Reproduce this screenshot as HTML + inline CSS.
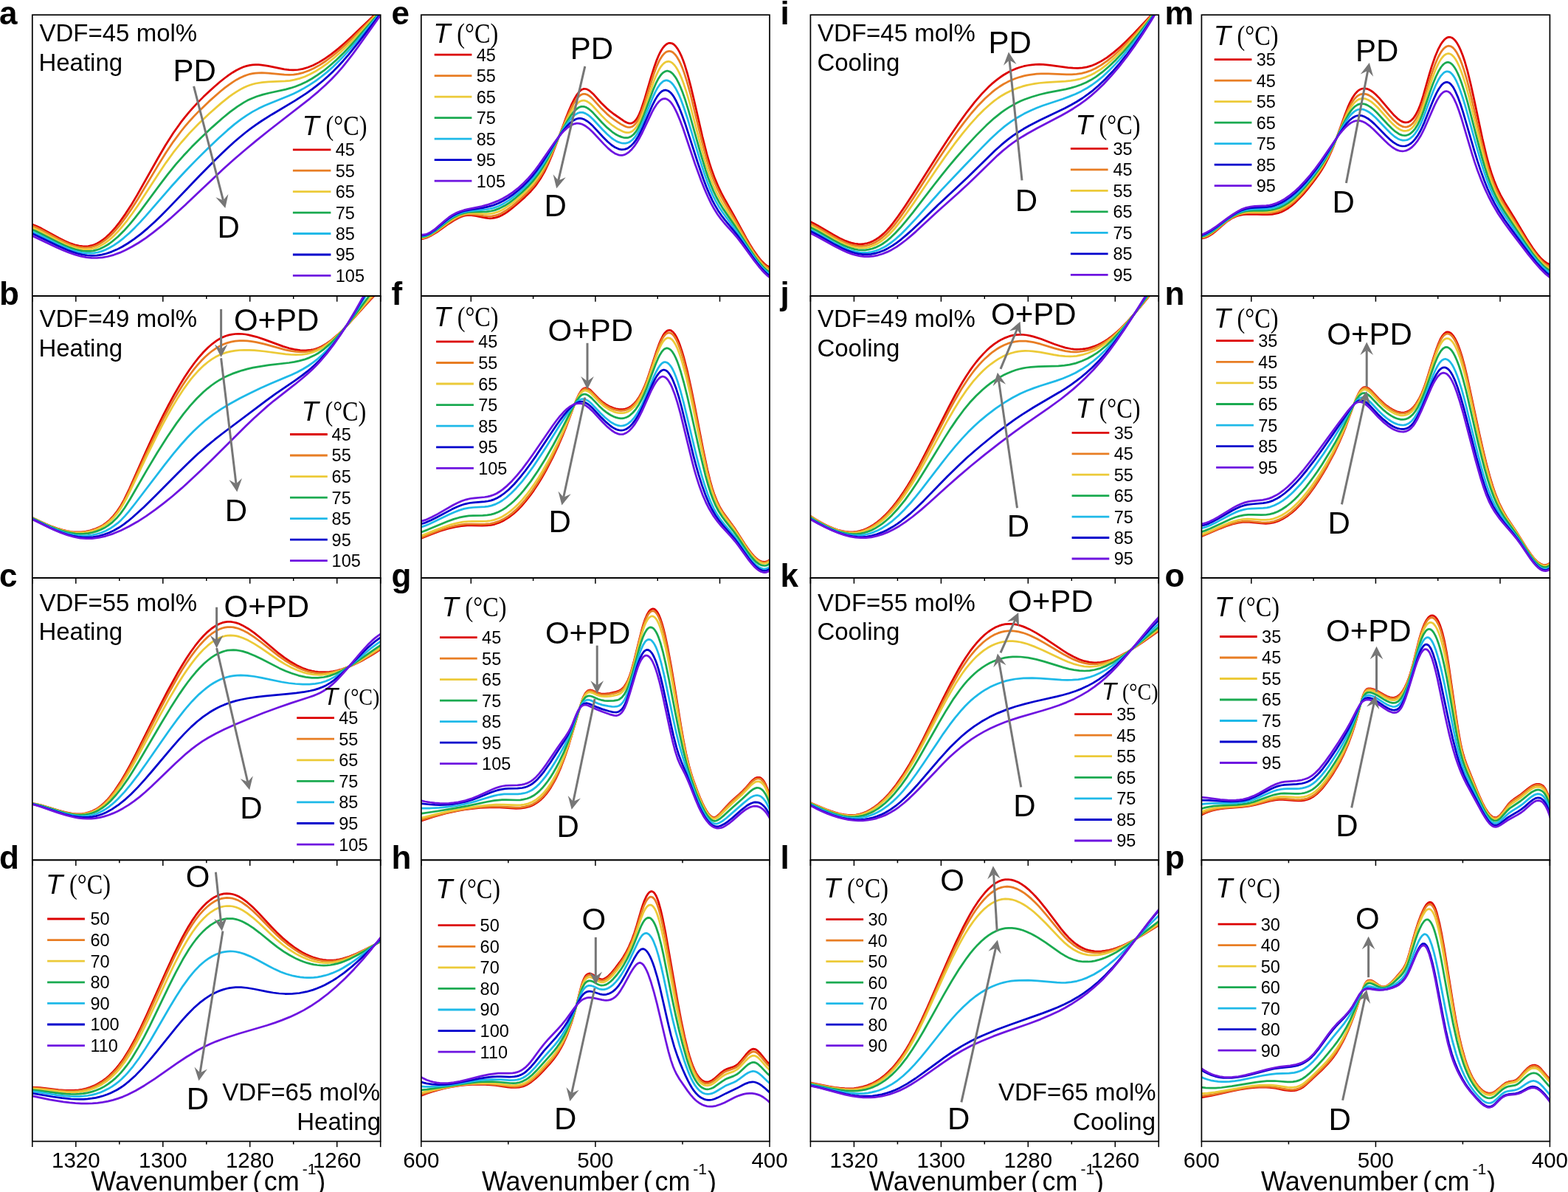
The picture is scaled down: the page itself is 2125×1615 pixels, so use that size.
<!DOCTYPE html>
<html><head><meta charset="utf-8"><title>Figure</title>
<style>html,body{margin:0;padding:0;background:#fff;overflow:hidden;} svg{display:block;}</style></head>
<body>
<svg width="2125" height="1615" viewBox="0 0 2125 1615">
<defs>
<clipPath id="ca"><rect x="43.8" y="20.2" width="471.9" height="380.8"/></clipPath>
<clipPath id="cb"><rect x="43.8" y="401.0" width="471.9" height="382.0"/></clipPath>
<clipPath id="cc"><rect x="43.8" y="783.0" width="471.9" height="382.3"/></clipPath>
<clipPath id="cd"><rect x="43.8" y="1165.3" width="471.9" height="381.1"/></clipPath>
<clipPath id="ce"><rect x="570.8" y="20.2" width="472.2" height="380.8"/></clipPath>
<clipPath id="cf"><rect x="570.8" y="401.0" width="472.2" height="382.0"/></clipPath>
<clipPath id="cg"><rect x="570.8" y="783.0" width="472.2" height="382.3"/></clipPath>
<clipPath id="ch"><rect x="570.8" y="1165.3" width="472.2" height="381.1"/></clipPath>
<clipPath id="ci"><rect x="1098.4" y="20.2" width="471.9" height="380.8"/></clipPath>
<clipPath id="cj"><rect x="1098.4" y="401.0" width="471.9" height="382.0"/></clipPath>
<clipPath id="ck"><rect x="1098.4" y="783.0" width="471.9" height="382.3"/></clipPath>
<clipPath id="cl"><rect x="1098.4" y="1165.3" width="471.9" height="381.1"/></clipPath>
<clipPath id="cm"><rect x="1628.4" y="20.2" width="472.0" height="380.8"/></clipPath>
<clipPath id="cn"><rect x="1628.4" y="401.0" width="472.0" height="382.0"/></clipPath>
<clipPath id="co"><rect x="1628.4" y="783.0" width="472.0" height="382.3"/></clipPath>
<clipPath id="cp"><rect x="1628.4" y="1165.3" width="472.0" height="381.1"/></clipPath>
</defs>
<rect width="2125" height="1615" fill="#fff"/>
<g clip-path="url(#ca)" fill="none" stroke-width="2.75" stroke-linejoin="round">
<path stroke="#dc0000" d="M42.8 303.7l6.5 2.6 7 3.3 23.5 12.8 8 4.1 8 3.4 7 2.3 4.5 1.0 4.5 .5 4 .1 4 -.3 4 -.8 4 -1.2 3.5 -1.6 4 -2.2 4 -2.7 4 -3.3 4 -3.6 4.5 -4.7 4.5 -5.1 4.5 -5.6 9 -12.6 7.5 -11.5 8.5 -14.2 28 -49.6 10.5 -18.0 10.5 -16.5 10 -14.1 5.5 -7.1 6 -7.2 6 -6.8 6.5 -7.0 7 -7.0 7 -6.6 8 -7.3 7.5 -6.4 6 -4.8 5.5 -4.1 5.5 -3.7 5 -3.0 5 -2.5 4.5 -1.9 4.5 -1.4 4.5 -1.1 3.5 -.4 4 -.2 4 .0 4.5 .4 8.5 1.3 22 4.4 6.5 .9 5.5 .2 6.5 -.4 6.5 -1.1 7 -2.1 7 -2.8 8 -4.1 8.5 -5.3 8.5 -6.0 9.5 -7.5 8.5 -7.4 10 -9.1 39 -37.3"/>
<path stroke="#e87d23" d="M42.8 305.6l6.5 2.6 7 3.3 23 12.4 8.5 4.2 8.5 3.6 7.5 2.3 4.5 .9 4.5 .5 4.5 .1 4 -.4 4 -.8 4 -1.3 4 -1.8 4 -2.3 4 -2.7 4 -3.2 4 -3.5 4 -4.0 4 -4.4 4.5 -5.3 9 -11.9 7.5 -10.9 8.5 -13.3 27.5 -45.8 10.5 -16.9 10 -14.9 10.5 -14.1 5.5 -6.8 6 -7.0 6 -6.6 6.5 -6.7 14 -13.5 15.5 -13.6 6 -4.9 5.5 -4.1 5 -3.5 5 -3.1 5 -2.7 4.5 -2.1 4.5 -1.7 4.5 -1.4 3.5 -.7 4 -.5 4 -.3 4.5 -.1 8.5 .4 22 2.1 6.5 .1 6 -.2 6.5 -1.0 7 -1.8 7 -2.5 7 -3.3 8 -4.4 8.5 -5.6 9 -6.8 9.5 -8.0 8.5 -7.7 9.5 -9.1 38 -38.2"/>
<path stroke="#ecca38" d="M42.8 308.2l6 2.5 6.5 3.0 23 12.1 9 4.4 9 3.7 4.5 1.4 4 1.1 5 1.0 4.5 .4 4.5 .0 4.5 -.5 4 -.8 4 -1.3 4 -1.8 4.5 -2.5 3.5 -2.3 4 -3.0 4 -3.4 4 -3.8 4 -4.1 4.5 -5.1 8.5 -10.4 7 -9.5 8 -11.6 27 -41.5 10.5 -15.6 10 -13.9 10.5 -13.2 11.5 -13.1 12.5 -12.9 14.5 -13.7 15.5 -13.7 11.5 -9.2 5 -3.5 5 -3.3 5 -3.0 4.5 -2.4 4.5 -2.0 4 -1.5 4 -1.2 4 -1.0 8.5 -1.4 8.5 -.7 22.5 -1.0 6.5 -.6 6 -1.1 7 -1.8 7 -2.4 7 -3.2 7.5 -4.0 8.5 -5.4 8.5 -6.1 9 -7.3 9 -8.1 8.5 -8.2 9 -9.1 36.5 -38.9"/>
<path stroke="#1aaa50" d="M42.8 310.8l5.5 2.3 6.5 3.1 23 11.7 9.5 4.6 5.5 2.3 5 1.8 4.5 1.4 4.5 1.1 5 .9 5 .4 5 -.1 4.5 -.5 4.5 -1.1 4.5 -1.5 4.5 -2.1 5 -2.8 3.5 -2.3 4 -3.0 7.5 -6.3 8 -7.9 8 -8.9 7 -8.5 8 -10.3 26.5 -35.7 10.5 -13.8 10.5 -12.9 10.5 -11.9 11 -11.7 12.5 -12.4 15 -14.1 14 -12.4 10.5 -8.6 10 -7.3 9 -5.7 4.5 -2.5 4.5 -2.1 8 -3.2 8.5 -2.7 8.5 -2.1 22.5 -4.9 7 -1.9 6 -2.0 7.5 -3.0 7.5 -3.5 7.5 -4.2 7.5 -4.8 8.5 -6.0 8.5 -6.9 8.5 -7.5 9 -8.7 8 -8.3 8.5 -9.3 35 -40.0"/>
<path stroke="#1eb9e8" d="M42.8 313.4l10 4.5 25 12.5 11 5.0 6 2.4 5.5 1.9 5.5 1.6 5 1.0 5.5 .7 5.5 .2 5.5 -.3 5 -.9 5 -1.4 5.5 -2.1 5.5 -2.7 5.5 -3.2 7 -4.8 7 -5.5 7.5 -6.6 7.5 -7.3 7 -7.3 7.5 -8.2 35.5 -40.9 9.5 -10.5 10 -10.7 13.5 -13.9 15 -14.8 15.5 -14.8 12 -10.9 9.5 -8.0 8.5 -6.5 8 -5.6 8 -4.9 8 -4.3 8.5 -4.0 8.5 -3.6 23.5 -9.5 7 -3.1 6.5 -3.1 8 -4.4 7.5 -4.5 8 -5.3 7.5 -5.6 8 -6.4 8 -7.1 8 -7.7 8 -8.4 7.5 -8.3 8.5 -9.9 33 -40.0"/>
<path stroke="#0000cc" d="M42.8 316.0l10.5 4.9 25 12.2 13 5.7 7 2.6 7 2.1 6.5 1.5 6.5 1.0 6.5 .4 6.5 -.3 6.5 -1.0 6.5 -1.6 7 -2.4 7 -3.0 7 -3.6 7.5 -4.5 9 -6.1 9 -6.8 9.5 -8.0 10 -9.1 8 -7.8 9.5 -9.6 42.5 -44.3 20.5 -20.8 10 -9.8 8.5 -8.0 8.5 -7.7 8 -6.8 7 -5.7 7 -5.4 7 -5.0 7.5 -5.1 14 -8.8 31.5 -18.8 15.5 -10.0 8 -5.8 7.5 -5.7 7 -5.7 7 -6.2 7 -6.6 7 -7.1 6.5 -7.1 7 -8.1 13.5 -16.8 30.5 -39.6"/>
<path stroke="#6e14e0" d="M42.8 319.1l33.5 15.9 8.5 3.8 8 3.2 8.5 2.9 8 2.2 7.5 1.5 7 .7 7.5 .2 7.5 -.6 7.5 -1.4 8 -2.2 8 -2.9 8 -3.6 8.5 -4.5 9 -5.3 10 -6.7 10 -7.4 11 -8.7 11.5 -9.8 21 -19.0 37 -35.0 14 -13.1 14.5 -13.0 15.5 -13.3 15.5 -12.9 17 -13.6 55.5 -43.2 11 -9.2 10 -9.0 8 -7.8 7.5 -7.9 7 -8.0 7 -8.7 7 -9.1 8 -10.9 30.5 -43.0"/>
</g>
<g clip-path="url(#cb)" fill="none" stroke-width="2.75" stroke-linejoin="round">
<path stroke="#dc0000" d="M42.8 701.0l10.5 5.1 9 4.0 8 3.3 7 2.5 7 2.0 7 1.6 6.5 1.0 6 .4 6.5 -.1 6 -.7 6 -1.3 6 -1.9 5.5 -2.3 5.5 -3.0 5 -3.5 4.5 -3.9 5 -5.3 5 -6.4 5 -7.6 4.5 -8.1 7 -14.5 22 -49.6 8 -17.4 8 -16.8 8 -16.2 7.5 -14.5 7.5 -13.7 7 -12.0 7 -11.3 6.5 -9.8 6.5 -9.0 6 -7.6 6.5 -7.4 6 -6.0 6 -5.2 6 -4.4 4 -2.4 4 -2.1 4 -1.6 4.5 -1.4 4 -.8 4.5 -.6 4.5 -.2 5 .2 4.5 .5 4.5 .8 10 2.5 10 3.3 26.5 9.8 8 2.4 7 1.6 8 1.2 7.5 .2 7 -.6 3.5 -.7 3.5 -1.0 3.5 -1.3 3.5 -1.5 3.5 -1.9 3.5 -2.1 7.5 -5.4 8 -6.9 6 -5.7 6.5 -6.6 31.5 -34.7 7.5 -7.9 7 -6.7"/>
<path stroke="#e87d23" d="M42.8 701.1l18 8.5 7.5 3.1 6.5 2.5 6.5 2.1 6.5 1.7 6 1.2 5.5 .8 6 .3 5.5 -.1 5.5 -.6 5 -1.0 5.5 -1.5 5 -1.9 5 -2.5 4.5 -2.7 3.5 -2.5 3.5 -2.9 3.5 -3.4 3 -3.3 3 -3.7 3 -4.1 3 -4.6 3 -5.1 4 -7.6 4.5 -9.2 22.5 -49.1 15.5 -32.2 7.5 -14.8 7.5 -14.1 7 -12.5 6.5 -10.9 5.5 -8.8 5 -7.5 5.5 -7.7 5 -6.6 5 -6.0 5 -5.6 5 -5.0 5 -4.5 5 -4.0 5 -3.5 5 -2.9 5 -2.4 5 -1.9 5.5 -1.5 5.5 -.9 6 -.5 5 -.1 5.5 .3 6 .7 6 1.0 11 2.6 28 7.6 7.5 1.6 7 1.0 7.5 .5 7.5 -.4 7 -1.2 6.5 -2.0 3.5 -1.4 3.5 -1.8 7 -4.4 7.5 -5.7 8 -7.2 6 -6.0 7 -7.4 30.5 -34.7 7.5 -8.1 6.5 -6.7"/>
<path stroke="#ecca38" d="M42.8 701.2l18.5 8.8 7.5 3.2 6.5 2.4 6.5 2.1 6.5 1.8 6 1.2 5.5 .8 6 .3 5.5 -.1 5.5 -.5 5.5 -1.1 5.5 -1.6 5 -1.9 5 -2.4 4.5 -2.8 3.5 -2.5 3.5 -2.9 3.5 -3.4 3 -3.3 3 -3.7 3 -4.1 3 -4.6 3 -5.0 4 -7.4 4 -8.0 22.5 -47.4 15 -30.2 7 -13.5 7 -12.9 6.5 -11.4 6 -10.0 9.5 -14.5 5 -7.0 4.5 -5.9 4.5 -5.4 4.5 -5.0 4.5 -4.6 4.5 -4.1 5 -4.1 5 -3.6 5 -3.1 5 -2.5 5 -2.1 5.5 -1.8 5.5 -1.3 6 -1.0 6 -.6 6 -.2 7 .0 7 .3 13.5 1.4 29 3.9 7.5 .6 6.5 .2 8 -.4 7 -1.0 7 -1.8 6.5 -2.5 3.5 -1.7 3.5 -2.0 7 -4.8 7.5 -6.2 8.5 -8.1 6.5 -6.9 7.5 -8.4 29.5 -35.2 13 -14.7"/>
<path stroke="#1aaa50" d="M42.8 701.6l19.5 9.3 7.5 3.2 7 2.7 7 2.3 6.5 1.8 6 1.2 6 .9 6 .3 5.5 -.1 6 -.6 5.5 -1.1 5.5 -1.6 5.5 -2.1 5 -2.5 5 -3.1 6 -4.6 5.5 -5.3 5.5 -6.4 5.5 -7.6 7.5 -12.0 22 -38.2 15 -25.1 13.5 -21.3 12.5 -18.3 9.5 -12.8 9 -11.0 9 -9.9 9 -8.7 5.5 -4.7 5.5 -4.3 5.5 -3.9 5.5 -3.4 5.5 -3.1 5.5 -2.6 6 -2.6 6.5 -2.3 7 -2.3 7 -1.9 7.5 -1.7 7.5 -1.4 14 -2.1 27.5 -3.2 7 -1.1 6 -1.2 7.5 -2.0 7 -2.6 6.5 -3.0 6 -3.4 7.5 -5.4 7.5 -6.4 8 -7.9 8.5 -9.4 8 -9.7 8.5 -10.9 27.5 -36.9 9 -11.9"/>
<path stroke="#1eb9e8" d="M42.8 702.2l22 10.6 8 3.5 7 2.8 7 2.4 7 1.9 6.5 1.4 6 .8 6.5 .3 6 -.2 6.5 -.8 6 -1.4 6 -1.8 6 -2.5 5.5 -2.9 5.5 -3.6 5 -3.8 5 -4.5 5 -5.3 5 -5.8 9 -11.3 40.5 -53.2 11.5 -14.4 10 -11.9 8.5 -9.5 8.5 -8.8 8 -7.5 8.5 -7.4 10 -7.7 11 -7.5 11.5 -6.9 14 -7.7 14 -7.1 14 -6.7 13.5 -6.0 28 -11.8 8 -3.7 7.5 -4.0 7 -4.2 7 -4.8 6.5 -5.1 6.5 -5.9 8 -8.1 8 -9.3 8.5 -10.8 9 -12.5 9 -13.3 10 -15.6 11 -17.8 15.5 -25.8"/>
<path stroke="#0000cc" d="M42.8 702.8l25 12.1 8.5 3.8 8 3.1 7.5 2.5 7 1.8 7 1.3 6.5 .7 7 .1 7 -.6 7.5 -1.3 7 -2.0 7 -2.5 6.5 -3.0 7 -4.0 6.5 -4.4 5.5 -4.2 6 -5.0 15.5 -14.0 16 -15.6 31 -31.3 12.5 -12.4 14 -13.1 13.5 -11.7 9 -7.4 10.5 -8.2 59 -44.4 13 -9.4 26.5 -18.0 10 -7.3 6 -4.7 6 -5.0 5.5 -4.9 5 -4.9 9 -9.6 9 -11.0 9.5 -12.8 10 -14.8 10.5 -16.7 11 -18.7 12 -21.4 13 -24.2"/>
<path stroke="#6e14e0" d="M42.8 703.1l19.5 9.6 10 4.7 10 4.3 9 3.2 9 2.6 8.5 1.6 8 .6 8 -.1 9 -1.2 9.5 -2.1 10 -3.2 10.5 -4.4 11 -5.4 11.5 -6.5 12 -7.6 12 -8.5 11.5 -8.8 12 -9.7 12.5 -10.8 13 -11.8 12 -11.3 13 -12.6 48.5 -48.1 11 -10.5 10 -9.2 8.5 -7.5 8.5 -7.1 29 -22.6 11.5 -9.4 6 -5.3 6 -5.6 5.5 -5.4 5 -5.4 9 -10.5 9.5 -12.4 9.5 -13.7 10 -15.6 10.5 -17.7 10.5 -18.8 11.5 -21.8 12 -23.8"/>
</g>
<g clip-path="url(#cc)" fill="none" stroke-width="2.75" stroke-linejoin="round">
<path stroke="#dc0000" d="M42.8 1088.3l6.5 1.1 7 1.7 24 7.3 9 2.3 9 1.6 4 .4 4 .1 5 -.3 4.5 -.7 4.5 -1.2 4.5 -1.6 4.5 -2.2 4 -2.5 4 -3.0 4 -3.5 3.5 -3.5 3.5 -4.0 7 -9.0 7.5 -11.2 7.5 -12.6 6 -10.9 7 -13.4 30.5 -61.0 13.5 -26.2 13 -23.7 6 -10.1 6 -9.7 6 -9.0 6 -8.3 6 -7.5 5.5 -6.2 5.5 -5.4 5.5 -4.6 5.5 -3.7 5 -2.6 4 -1.5 3.5 -.8 3.5 -.5 4 .0 4 .6 4 .9 4 1.4 4.5 2.1 7.5 4.3 8.5 5.9 8.5 6.9 24.5 20.7 7.5 5.7 7.5 5.1 9 5.3 8.5 3.9 4.5 1.7 4 1.3 4 .9 4 .8 4.5 .5 5 .3 5 .0 5 -.4 5 -.7 5.5 -1.1 5 -1.3 5.5 -1.8 5.5 -2.0 5.5 -2.3 11.5 -5.6 12.5 -7.1 14 -8.9"/>
<path stroke="#e87d23" d="M42.8 1088.3l6.5 1.2 7 1.7 23.5 7.2 9 2.4 9 1.7 4.5 .4 4 .1 5 -.2 4.5 -.6 4.5 -1.1 4.5 -1.6 4.5 -2.1 4 -2.4 4.5 -3.3 4 -3.4 3.5 -3.5 3.5 -3.9 7 -8.8 7.5 -10.9 7.5 -12.3 6 -10.5 7 -13.1 30.5 -59.3 13.5 -25.5 13 -23.0 6 -9.9 6 -9.4 6 -8.8 6 -8.0 6 -7.4 5.5 -5.9 5.5 -5.3 5 -4.1 5.5 -3.6 5 -2.6 4 -1.5 3.5 -.9 3.5 -.5 4 -.1 4 .4 4 .9 4 1.2 4.5 1.9 7.5 3.9 8.5 5.5 9 6.7 24 18.8 8 5.7 7.5 4.7 9 4.7 8.5 3.6 4.5 1.5 4 1.1 8 1.5 4.5 .3 5 .2 4.5 -.3 5 -.5 5 -.9 5 -1.2 5 -1.4 5 -1.8 10.5 -4.4 11.5 -5.9 12.5 -7.3 15.5 -9.9"/>
<path stroke="#ecca38" d="M42.8 1088.4l6.5 1.2 7 1.8 23.5 7.2 9 2.5 9 1.7 4.5 .5 4 .2 5 -.2 4.5 -.6 4.5 -.9 4.5 -1.5 4.5 -2.0 4 -2.2 4.5 -3.1 4 -3.2 3.5 -3.3 3.5 -3.6 3.5 -4.0 4 -5.0 7.5 -10.4 8 -12.5 6.5 -11.0 7 -12.5 30.5 -56.6 13 -23.4 13 -22.0 6 -9.5 5.5 -8.2 6 -8.4 6 -7.7 5.5 -6.5 5.5 -5.8 5.5 -5.0 5 -4.0 5.5 -3.6 5 -2.6 4 -1.5 3.5 -1.0 3.5 -.6 4 -.2 4 .2 4 .6 4 1.0 4.5 1.6 7.5 3.3 8.5 4.8 9 5.8 24.5 16.8 8 4.9 7.5 4.0 9 4.1 9 3.2 4.5 1.2 4 .8 4 .6 4.5 .4 4 .1 4.5 -.2 4.5 -.4 4.5 -.8 4.5 -1.0 4.5 -1.3 5 -1.7 5 -2.0 10 -4.8 11 -6.1 12 -7.4 18 -11.8"/>
<path stroke="#1aaa50" d="M42.8 1088.6l6 1.2 7 1.8 23.5 7.3 9.5 2.7 9 1.8 4.5 .6 4 .2 5 .0 5 -.5 4.5 -.9 4.5 -1.3 4.5 -1.8 4 -2.0 4.5 -2.8 4 -2.9 3.5 -3.0 4 -3.8 7.5 -8.2 8 -10.2 8 -11.4 6.5 -10.1 8 -13.0 30.5 -52.0 12.5 -20.7 12.5 -19.5 5.5 -8.0 5.5 -7.6 5.5 -7.1 5.5 -6.6 5.5 -6.0 5.5 -5.5 5.5 -4.8 5 -3.8 5.5 -3.5 5 -2.5 4 -1.6 3.5 -1.1 3.5 -.8 4 -.4 4 -.1 4 .2 4 .6 4.5 .9 8 2.5 8.5 3.5 9 4.4 24.5 12.6 8.5 3.8 8 3.1 9.5 3.0 9.5 2.1 8.5 1.0 8 .0 8 -.9 4 -.8 4 -1.1 8 -2.8 8.5 -4.0 8 -4.5 9 -5.7 27.5 -19.0 8.5 -5.7"/>
<path stroke="#1eb9e8" d="M42.8 1088.8l6 1.4 7 2.0 22 7.1 8.5 2.5 8.5 2.1 7.5 1.3 4.5 .4 4.5 .2 4 -.2 4 -.4 4 -.7 4 -1.0 4 -1.3 4 -1.7 4 -2.0 4 -2.4 4 -2.8 4 -3.1 4 -3.4 4.5 -4.3 9 -9.6 8.5 -10.2 10 -13.1 11 -15.4 32.5 -46.7 10 -13.6 9 -11.5 5.5 -6.6 5 -5.6 5 -5.2 4.5 -4.4 5 -4.4 5 -4.1 5 -3.7 4.5 -2.9 4.5 -2.5 4.5 -2.2 4.5 -1.9 4.5 -1.4 4.5 -1.1 4.5 -.8 5 -.5 5 -.2 9 .4 9.5 1.2 10 1.8 27 5.7 9.5 1.5 9 1.0 10 .7 9 -.1 8 -.7 7.5 -1.4 6.5 -2.0 6 -2.6 6.5 -3.5 7 -4.5 6 -4.3 6.5 -5.2 29 -24.2 7.5 -5.6 6.5 -4.4"/>
<path stroke="#0000cc" d="M42.8 1089.1l12 3.4 23 7.6 9.5 2.9 10 2.5 9 1.4 5 .4 5 .1 4.5 -.2 4.5 -.6 5 -1.0 4.5 -1.3 4.5 -1.6 4.5 -1.9 8 -4.4 8.5 -5.7 8.5 -6.8 9 -8.2 9 -9.1 9.5 -10.5 10 -11.6 28 -33.2 8.5 -9.7 7.5 -8.0 9 -9.0 8 -7.1 8 -6.3 8.5 -5.9 5 -3.0 5 -2.8 5 -2.4 5 -2.2 5 -1.9 5.5 -1.9 6 -1.7 6 -1.4 10 -2.0 11.5 -1.6 10.5 -1.2 32 -3.0 11.5 -1.3 11 -1.6 7.5 -1.3 6 -1.4 5.5 -1.7 5.5 -2.1 5 -2.4 5 -3.0 5 -3.5 5.5 -4.5 5 -4.4 6 -5.7 21.5 -21.8 8.5 -8.3 9 -7.7 4.5 -3.4 4 -2.6"/>
<path stroke="#6e14e0" d="M42.8 1089.3l10 3.0 25 8.6 11.5 3.5 6 1.6 6 1.3 5.5 1.0 5.5 .6 6 .3 5.5 -.1 5.5 -.5 6 -1.0 6 -1.5 6 -1.9 6 -2.3 6 -2.7 7.5 -4.0 7.5 -4.6 7.5 -5.2 7.5 -5.8 7.5 -6.3 8.5 -7.7 33 -31.8 14 -12.7 7.5 -6.2 7 -5.3 7.5 -5.2 8 -4.9 10 -5.5 11.5 -5.7 14.5 -6.5 18 -7.6 20.5 -8.2 20.5 -7.5 17 -5.9 23.5 -7.6 7 -2.4 4.5 -1.8 4.5 -2.1 4 -2.2 4 -2.5 4 -2.9 4.5 -3.7 4.5 -4.2 5 -5.1 9 -10.1 21 -24.9 10 -10.8 4.5 -4.4 4 -3.5 4 -3.1 4 -2.6"/>
</g>
<g clip-path="url(#cd)" fill="none" stroke-width="2.75" stroke-linejoin="round">
<path stroke="#dc0000" d="M42.8 1473.1l11.5 .6 25 2.8 10.5 .8 6 .1 5.5 -.2 5 -.4 5 -.8 5.5 -1.2 5.5 -1.7 5.5 -2.2 5 -2.6 5 -3.0 5 -3.6 5 -4.2 4.5 -4.4 4 -4.3 4 -4.8 4 -5.3 3.5 -5.0 7.5 -12.0 8 -14.6 7.5 -15.0 8 -17.0 27 -60.6 10 -21.7 10.5 -21.2 4.5 -8.3 4.5 -7.9 5 -8.0 5 -7.2 5 -6.5 5 -5.7 5 -4.9 5 -4.1 5 -3.3 5 -2.5 4 -1.4 4 -.9 4 -.3 4 .2 4 .7 4 1.3 4 1.7 4.5 2.6 7 5.1 8 7.1 8.5 8.6 16.5 17.8 7 7.2 8 7.7 8 6.8 9.5 7.1 5 3.2 4.5 2.7 5 2.6 4.5 2.0 5 2.0 4.5 1.4 4.5 1.1 4.5 .8 4.5 .6 4.5 .2 4.5 -.1 4 -.4 4.5 -.7 4.5 -1.1 9 -2.8 10 -4.0 10 -4.8 23 -11.6"/>
<path stroke="#e87d23" d="M42.8 1473.8l11.5 .7 24.5 2.9 10.5 .8 6 .2 5.5 -.1 5.5 -.5 5 -.7 6 -1.3 5.5 -1.6 5.5 -2.2 5 -2.5 5 -3.0 5 -3.6 5 -4.1 4.5 -4.3 4 -4.2 4 -4.7 4 -5.2 3.5 -4.9 7.5 -11.9 8 -14.3 7.5 -14.8 8 -16.7 27 -59.7 10 -21.4 10 -19.8 4.5 -8.3 4.5 -7.7 5 -7.9 5 -7.2 5 -6.4 5 -5.6 5 -4.8 5 -4.1 5 -3.3 5 -2.5 4 -1.4 4 -.9 4 -.4 4 .2 4 .6 4 1.2 4 1.7 4.5 2.5 7 4.9 8 6.8 8.5 8.2 16.5 17.1 7 7.0 8 7.3 8 6.6 9.5 6.7 5 3.1 4.5 2.5 5 2.4 4.5 1.9 5 1.8 4.5 1.3 4.5 1.0 4.5 .7 4.5 .4 4.5 .1 4.5 -.3 4.5 -.5 4.5 -.9 4.5 -1.1 9 -3.0 10 -4.3 10 -5.0 22.5 -11.9"/>
<path stroke="#ecca38" d="M42.8 1474.8l10.5 .8 25 3.1 11 .9 6 .3 6 -.1 5.5 -.4 5 -.6 6 -1.2 5.5 -1.6 5.5 -2.1 5 -2.3 5 -2.9 5 -3.4 5 -3.9 4.5 -4.1 4 -4.0 4 -4.5 4 -5.0 3.5 -4.7 4 -5.8 4 -6.3 8 -13.9 7.5 -14.2 8 -16.2 26.5 -56.6 10 -20.7 10 -19.3 4.5 -7.9 4.5 -7.5 5 -7.7 5 -6.9 5 -6.2 5 -5.4 5 -4.7 5 -4.0 5 -3.2 4.5 -2.2 4 -1.5 4 -.9 4 -.5 4 .0 4 .5 4 1.0 4 1.5 4.5 2.2 7 4.4 8 6.2 8.5 7.5 17 16.2 7 6.4 8 6.6 8 6.0 9.5 6.1 5 2.7 4.5 2.2 5 2.1 4.5 1.7 4.5 1.3 4.5 1.1 4.5 .8 4.5 .4 4.5 .2 4.5 -.1 4.5 -.4 4.5 -.7 4.5 -1.0 4.5 -1.3 9 -3.4 10.5 -4.8 10.5 -5.6 21.5 -12.2"/>
<path stroke="#1aaa50" d="M42.8 1476.6l11.5 1.2 25 3.3 10 1.0 6.5 .3 6 .1 5.5 -.3 5.5 -.5 6 -1.1 6 -1.5 5.5 -1.8 5.5 -2.3 5.5 -2.9 5 -3.2 5 -3.7 4.5 -3.8 4 -3.8 4 -4.2 4 -4.7 3.5 -4.5 4 -5.5 4 -6.0 8.5 -14.1 7 -12.7 8 -15.6 26 -54.0 9.5 -19.0 9.5 -17.5 8.5 -14.0 5 -7.3 4.5 -6.0 5 -5.9 5 -5.2 4.5 -4.1 5 -3.9 5 -3.1 5 -2.5 4 -1.5 4 -1.0 4 -.7 4 -.1 4 .2 4 .7 4 1.1 4.5 1.8 3.5 1.7 4 2.2 8 5.2 8.5 6.4 17 13.8 7 5.5 8.5 6.0 8 4.9 9.5 5.1 5 2.2 4.5 1.7 5 1.7 4.5 1.2 4.5 .9 4.5 .7 4.5 .4 4.5 .2 4.5 -.2 4.5 -.4 4.5 -.8 4.5 -1.0 4.5 -1.3 4.5 -1.6 9 -3.9 10.5 -5.4 11 -6.4 20 -12.4"/>
<path stroke="#1eb9e8" d="M42.8 1478.6l10 1.3 24 3.7 11.5 1.3 6.5 .5 6.5 .2 6 .0 5.5 -.4 6 -.7 6 -1.1 6 -1.6 5.5 -1.8 5.5 -2.4 5 -2.5 5 -3.0 5 -3.5 4 -3.1 4 -3.5 4 -3.9 3.5 -3.7 8 -9.6 8.5 -11.6 7 -10.6 8 -12.9 25.5 -43.9 9.5 -15.8 9 -13.9 8.5 -11.7 4.5 -5.6 4.5 -5.1 4.5 -4.6 4.5 -4.1 4.5 -3.7 4.5 -3.1 4.5 -2.7 5 -2.5 3.5 -1.3 4 -1.3 4 -.8 4 -.5 3.5 -.2 4 .1 4 .5 4 .8 7 2.1 8 3.2 8.5 4.2 17.5 9.4 7.5 3.9 8 3.6 7.5 2.8 9.5 2.7 5 1.0 4.5 .7 5 .5 4.5 .3 4.5 -.1 4.5 -.2 5 -.6 5 -.9 5 -1.2 5 -1.5 5 -1.8 4.5 -1.9 5 -2.3 5 -2.7 10.5 -6.5 11.5 -8.1 12.5 -9.8 17 -14.1"/>
<path stroke="#0000cc" d="M42.8 1481.1l29 4.9 12 1.7 12.5 1.3 11 .4 6 -.1 5.5 -.4 5.5 -.7 5.5 -.9 5 -1.2 5 -1.4 5 -1.7 5 -2.0 8.5 -4.3 4.5 -2.7 4 -2.7 4 -3.0 4.5 -3.7 8.5 -7.7 9 -9.3 9.5 -10.7 10 -12.1 27 -33.5 8 -9.4 7 -7.7 8 -8.1 8 -7.2 8 -6.1 8 -5.1 8 -4.0 4 -1.6 4.5 -1.5 4 -1.1 4 -.8 4 -.6 4.5 -.4 7.5 .0 8.5 .8 9 1.5 18 3.6 8 1.4 8 1.0 8 .5 10 -.1 9.5 -.9 9.5 -1.8 9 -2.6 5 -1.8 5.5 -2.3 5 -2.3 5.5 -2.9 5.5 -3.2 5 -3.1 10.5 -7.4 11 -8.9 12 -10.7 13 -12.6 14 -14.5"/>
<path stroke="#6e14e0" d="M42.8 1484.7l24.5 5.1 18.5 3.1 8.5 1.0 8 .7 8 .5 7.5 .0 7.5 -.2 7 -.6 7 -.9 7 -1.3 7 -1.7 6.5 -2.0 6.5 -2.3 6.5 -2.8 11 -5.5 12 -7.1 14 -9.1 30 -20.9 13 -8.7 13.5 -8.2 12.5 -6.5 7 -3.3 7 -2.9 7.5 -2.9 8.5 -3.0 15.5 -5.0 37.5 -11.0 11 -3.6 9.5 -3.5 10.5 -4.2 9.5 -4.4 9.5 -4.9 9 -5.3 11.5 -7.7 12 -9.1 11.5 -9.8 12 -11.2 12 -12.3 12 -13.3 12 -14.4 12.5 -16.0"/>
</g>
<g clip-path="url(#ce)" fill="none" stroke-width="2.75" stroke-linejoin="round">
<path stroke="#dc0000" d="M569.8 324.1l3.5 -.6 3.5 -1.0 3.5 -1.4 4 -1.9 8 -4.9 16 -11.3 6.5 -4.2 7 -3.8 3 -1.3 3 -1.0 3 -.7 2.5 -.3 5.5 .0 5.5 .7 13.5 2.8 3.5 .4 3 .2 3 -.2 3 -.4 3 -.8 3 -1.0 3.5 -1.6 3.5 -2.0 3.5 -2.2 4 -2.9 8.5 -6.9 12 -10.7 8 -7.9 3.5 -4.0 3.5 -4.3 6 -8.6 5.5 -9.5 5 -10.3 5 -11.7 5.5 -14.2 13.5 -36.3 4 -10.0 3.5 -8.1 4 -8.1 3.5 -5.8 3.5 -4.4 2 -1.7 1.5 -1.0 2.5 -.8 2.5 .1 2.5 .8 3 1.9 4.5 4.0 11 12.3 7.5 7.3 4.5 3.8 5 3.9 14 9.7 4 2.1 2 .6 1.5 .2 1.5 .0 1.5 -.3 1.5 -.7 1.5 -1.0 2.5 -2.6 2 -3.0 2.5 -4.9 2.5 -6.2 5 -14.9 9 -30.5 3.5 -11.2 3.5 -9.9 3 -7.1 2 -4.1 2 -3.5 2 -2.9 2 -2.3 2 -1.8 2 -1.2 2 -.7 1.5 .0 2.5 .5 2.5 1.5 2.5 2.4 2.5 3.4 2.5 4.3 2.5 5.2 2.5 6.2 2 5.6 4 13.1 4.5 17.1 4.5 18.9 11 48.1 6 23.8 3.5 12.0 3.5 10.7 4 10.8 4 9.5 4.5 9.5 5 9.4 12 21.2 17 31.1 4.5 7.8 4.5 7.3 6.5 9.4 3 3.8 3 3.4 3 2.9 2.5 2.1 3 1.9 2.5 1.2"/>
<path stroke="#e87d23" d="M569.8 323.2l3.5 -.5 3.5 -.9 4 -1.6 4 -2.0 7.5 -4.8 14.5 -10.5 5.5 -3.8 6.5 -3.8 5.5 -2.5 3 -1.0 3 -.8 3 -.5 3 -.1 6.5 .3 12.5 1.8 5.5 .5 6 -.2 5 -.9 3.5 -1.2 3.5 -1.5 3.5 -1.9 4 -2.4 8 -5.8 10 -8.5 10.5 -9.8 7.5 -8.0 3.5 -4.3 3.5 -4.7 6 -9.4 5.5 -10.1 5.5 -11.9 5.5 -13.0 14 -34.6 4 -9.3 3.5 -7.5 4 -7.5 3.5 -5.4 3.5 -4.2 2 -1.7 1.5 -.9 2.5 -.9 2.5 .0 3 .9 3 1.8 2.5 2.0 2.5 2.5 11.5 12.7 7 6.8 4.5 3.9 4.5 3.4 5 3.5 5 3.2 5.5 2.9 2.5 1.0 2 .4 2 .1 1.5 -.3 2 -.7 1.5 -.9 2.5 -2.3 2.5 -3.4 2.5 -4.6 2.5 -5.8 5 -14.0 12.5 -39.5 3.5 -9.5 3.5 -7.9 2 -3.7 2 -3.2 2 -2.6 1.5 -1.6 2 -1.7 2 -1.0 2 -.5 1.5 .0 2 .5 2.5 1.5 2.5 2.4 2.5 3.3 2.5 4.2 2.5 5.0 2.5 5.9 2.5 6.8 4 12.7 4.5 16.4 15.5 63.6 6.5 24.4 3.5 11.5 3.5 10.2 3.5 9.0 4 9.2 4 8.1 5 9.2 13.5 22.6 18 31.5 8 13.0 6.5 9.2 5.5 6.5 3 2.9 2.5 2.1 3 2.1 2.5 1.3"/>
<path stroke="#ecca38" d="M569.8 322.1l3.5 -.3 3.5 -.9 3.5 -1.3 4 -2.1 7.5 -4.8 14 -10.6 5.5 -3.9 6 -3.6 6 -2.8 3.5 -1.3 3 -.8 3 -.5 3 -.4 6 .0 12.5 .8 5.5 .2 6 -.5 5 -1.0 3 -.9 3.5 -1.5 3.5 -1.7 3.5 -2.0 7.5 -5.0 8.5 -6.8 11 -9.9 8 -8.2 7 -8.4 6.5 -9.3 6 -10.0 5.5 -10.6 5.5 -11.6 14.5 -32.1 4 -8.3 3.5 -6.7 4 -6.8 3.5 -4.9 3.5 -3.8 2 -1.6 1.5 -1.0 2.5 -.9 1.5 -.2 1.5 .1 3 .8 3.5 2.1 2.5 2.0 3 2.9 11.5 12.6 7 7.0 4 3.4 4 3.2 4 2.7 3.5 2.2 6.5 3.1 2.5 .9 2.5 .5 2 .0 2 -.3 2 -.7 2 -1.1 3 -2.8 2.5 -3.2 2.5 -4.3 3 -6.5 5 -13.2 12 -35.3 3.5 -8.9 3 -6.5 2 -3.6 2 -3.1 2 -2.5 1.5 -1.5 2 -1.5 1.5 -.8 2 -.5 1.5 -.1 2.5 .7 2 1.2 2.5 2.3 2.5 3.1 2.5 4.0 2.5 4.9 2.5 5.6 2.5 6.4 4 11.8 4.5 15.2 16 61.2 6.5 23.0 3.5 11.0 3.5 9.8 3.5 8.8 4 8.8 4 7.9 5 8.7 15 23.4 18 29.9 8.5 13.1 6 8.3 5.5 6.4 3 2.9 2.5 2.1 2.5 1.8 2.5 1.4"/>
<path stroke="#1aaa50" d="M569.8 321.1l3.5 -.2 3.5 -.8 3.5 -1.4 4 -2.0 7 -4.7 13.5 -10.6 5.5 -4.0 6 -3.7 6 -2.9 6.5 -2.2 6 -1.1 6 -.4 13 -.1 5.5 -.2 6 -.8 5 -1.1 6.5 -2.5 7 -3.6 7 -4.5 7.5 -5.8 9.5 -8.2 8.5 -8.4 7 -7.9 6.5 -8.6 6 -9.1 6 -10.3 5.5 -10.5 14.5 -28.8 4.5 -8.3 3.5 -6.0 4 -6.1 4 -5.1 3.5 -3.4 2 -1.5 1.5 -.9 3 -1.0 1.5 -.1 1.5 .1 1.5 .3 2 .7 3.5 2.1 3 2.5 3 2.8 12 13.2 7 6.9 7 5.9 3.5 2.4 3 1.8 3 1.4 3 1.2 2.5 .7 2.5 .4 2.5 .0 2 -.4 2 -.7 2 -1.1 3 -2.5 3 -3.6 2.5 -3.9 3 -5.8 2.5 -5.7 3 -7.6 12.5 -34.0 3.5 -8.2 3 -5.9 3.5 -5.3 2 -2.3 1.5 -1.3 2 -1.3 1.5 -.6 1.5 -.3 1.5 .0 2.5 .8 2 1.2 2.5 2.4 2.5 3.2 2.5 4.0 2.5 4.8 2.5 5.6 2.5 6.2 4 11.4 4.5 14.5 16 57.1 7 23.3 3.5 10.3 3.5 9.3 3.5 8.3 4 8.4 4 7.4 5 8.2 17 24.8 18.5 29.1 7.5 11.1 5.5 7.3 5.5 6.3 5 4.7 2.5 1.8 2.5 1.6"/>
<path stroke="#1eb9e8" d="M569.8 320.0l3 .0 3.5 -.6 3.5 -1.3 4 -2.0 3.5 -2.2 4 -2.9 13 -10.6 5.5 -4.1 5.5 -3.5 6 -2.9 6 -2.2 6 -1.4 6 -.7 12.5 -.9 6 -.7 6 -1.0 5.5 -1.4 6.5 -2.4 7 -3.5 7 -4.4 7 -5.1 8 -6.7 8 -7.6 7 -7.5 6.5 -8.0 6 -8.3 6.5 -10.2 5.5 -9.3 14.5 -25.7 4 -6.7 4 -6.2 4.5 -6.2 4 -4.6 4 -3.6 3.5 -2.2 2 -.7 1.5 -.3 2 -.1 1.5 .1 3.5 1.2 4 2.4 3 2.4 3.5 3.3 12.5 13.6 6.5 6.5 6 5.2 3 2.1 3 1.8 3 1.5 2.5 .9 2.5 .7 2.5 .2 2.5 -.1 2 -.4 2 -.7 2 -1.0 3.5 -2.8 3 -3.2 3 -4.3 3 -5.3 2.5 -5.2 3 -6.9 13 -32.6 3.5 -7.6 3 -5.4 3.5 -4.9 3 -2.9 1.5 -1.0 1.5 -.6 1.5 -.4 1.5 .0 2.5 .7 2 1.1 2 1.8 2.5 2.9 2.5 3.8 2.5 4.6 2.5 5.2 2.5 6.0 4 10.7 4.5 13.5 16.5 55.0 7 21.8 4 11.2 3.5 8.9 3.5 8.0 4 8.0 4.5 7.9 4.5 7.0 4.5 6.3 14.5 19.5 19 28.3 7.5 10.7 5.5 7.0 5 5.5 4.5 4.2 4.5 3.2"/>
<path stroke="#0000cc" d="M569.8 318.9l3 .1 3.5 -.5 3.5 -1.3 4 -2.0 3.5 -2.3 3.5 -2.6 13 -10.9 5 -3.9 5.5 -3.6 5.5 -2.8 5.5 -2.1 6 -1.7 6 -1.1 12 -1.7 6.5 -1.1 6.5 -1.5 6 -1.7 7 -2.7 6.5 -3.2 7 -4.2 6.5 -4.5 7 -5.6 6.5 -5.8 6.5 -6.6 6 -6.8 6 -7.6 6 -8.5 6.5 -9.9 15 -23.7 4.5 -6.6 4 -5.5 4.5 -5.5 4.5 -4.6 4 -3.2 4 -2.2 2 -.7 2 -.4 2 .0 2 .2 2 .6 2 .9 4 2.4 3.5 2.8 4 3.8 13.5 14.6 6 6.1 5.5 4.7 5 3.3 4.5 2.0 2.5 .6 2 .2 2.5 -.1 2 -.4 2 -.7 2 -1.0 3.5 -2.5 3.5 -3.5 3.5 -4.6 3.5 -5.6 3 -5.7 3 -6.4 13 -29.8 3.5 -6.9 3 -5.0 3 -3.9 3 -2.7 1.5 -.8 1.5 -.6 1.5 -.3 1.5 .1 2.5 .8 2 1.2 2 1.8 2 2.4 2 2.9 2.5 4.4 4.5 9.6 4 10.1 4 11.3 17 52.8 8 23.2 4 10.5 4 9.5 4 8.6 3.5 6.6 4.5 7.5 4.5 6.6 4.5 5.8 11 13.3 5.5 7.0 6 8.3 14.5 20.8 7 9.4 5 6.1 4.5 4.8 4 3.7 4 3.0"/>
<path stroke="#6e14e0" d="M569.8 317.9l3 .3 3.5 -.5 3.5 -1.2 4 -2.1 3.5 -2.4 3.5 -2.7 12.5 -10.8 5 -4.0 5 -3.4 5.5 -2.9 5 -2.0 5 -1.5 5.5 -1.3 18.5 -3.8 7 -1.9 7 -2.3 7.5 -3.0 7 -3.4 7 -4.0 6.5 -4.4 7 -5.4 6.5 -5.8 6.5 -6.6 6 -6.9 4.5 -5.6 5 -6.8 21.5 -31.0 4.5 -6.0 4.5 -5.4 4.5 -4.7 4 -3.6 4 -2.7 3.5 -1.8 2.5 -.7 2 -.4 2 -.1 2 .2 2 .5 2.5 .9 2.5 1.3 2.5 1.6 4 3.2 4.5 4.2 15 16.1 5.5 5.5 5 4.3 4.5 3.0 4 1.7 2 .5 2 .2 2 .0 2 -.4 3.5 -1.5 3.5 -2.3 4 -3.9 3.5 -4.3 4 -6.0 3 -5.2 3.5 -6.7 13.5 -28.3 3 -5.5 3 -4.7 3 -3.7 3 -2.6 1.5 -.8 1.5 -.5 2.5 -.2 2 .4 2 1.1 2 1.6 2 2.1 2 2.7 2 3.3 2 3.7 2.5 5.3 4 9.6 4 10.8 16 47.4 8.5 23.3 4.5 11.2 4.5 10.3 4.5 9.3 4 7.3 4.5 7.1 4.5 6.2 5 6.1 12.5 13.8 5.5 6.6 6.5 8.5 15.5 21.2 6.5 8.4 4 4.7 4 4.3 4 3.7 3.5 2.8"/>
</g>
<g clip-path="url(#cf)" fill="none" stroke-width="2.75" stroke-linejoin="round">
<path stroke="#dc0000" d="M569.8 729.8l14.5 -5.9 12 -4.4 11 -3.3 10 -2.4 8 -1.2 8 -.7 6 -.1 14 .4 6.5 -.2 5.5 -.6 5 -1.1 6 -2.0 6.5 -3.1 6.5 -4.0 6.5 -5.0 5.5 -5.0 5.5 -5.7 5.5 -6.3 5.5 -7.0 5.5 -7.6 5.5 -8.3 5.5 -9.0 5.5 -9.7 9 -17.2 8.5 -18.1 5 -11.6 4.5 -11.1 11.5 -30.8 3 -7.5 3.5 -7.4 2 -3.3 1.5 -2.0 2 -1.9 1 -.5 1.5 -.5 2 .0 2.5 .9 2 1.3 2 1.7 9.5 9.9 3 2.8 3.5 2.9 3.5 2.5 3.5 2.0 3.5 1.7 3.5 1.4 3.5 1.0 3.5 .6 3 .2 3 -.1 3 -.4 2.5 -.8 2.5 -1.1 2.5 -1.5 4 -3.3 4 -4.6 3.5 -5.1 3.5 -6.3 3.5 -7.5 3.5 -8.9 3.5 -10.2 9.5 -29.3 3 -8.4 2.5 -6.1 3 -6.0 1.5 -2.4 1.5 -1.9 1.5 -1.5 1.5 -1.1 1.5 -.6 1.5 -.1 1.5 .2 1 .5 2.5 1.9 2 2.5 2.5 4.2 2.5 5.4 2.5 6.5 2.5 7.5 2.5 8.5 5 19.6 5 22.5 4.5 22.3 11.5 59.6 6 28.3 3.5 14.3 3 10.5 3 8.9 3.5 8.7 4 8.2 4.5 7.4 14.5 19.6 14.5 22.4 4.5 6.6 4 5.4 3.5 4.1 3.5 3.4 3 2.4 3 1.6 2.5 .8 3 .2 2.5 -.5 2.5 -1.2 2.5 -2.0"/>
<path stroke="#e87d23" d="M569.8 728.6l16 -6.4 12 -4.4 10.5 -3.3 10 -2.4 7 -1.2 6.5 -.7 6.5 -.2 13.5 .3 6 -.1 6.5 -.6 5.5 -1.2 6 -2.0 6 -2.8 6 -3.6 6.5 -4.9 5.5 -4.9 5.5 -5.5 5.5 -6.2 5.5 -6.8 5.5 -7.5 5.5 -8.1 5.5 -8.8 5.5 -9.4 9.5 -17.7 9 -18.7 5 -11.2 5 -11.9 11 -28.3 3 -7.3 3.5 -7.3 2 -3.4 1.5 -2.0 2 -2.0 1 -.6 1.5 -.6 1 -.1 1.5 .1 2.5 1.0 2 1.3 2 1.7 9.5 9.9 3 2.8 3.5 2.9 3.5 2.6 3.5 2.1 3.5 1.8 4 1.6 3 .8 3.5 .7 3 .2 3 -.1 2.5 -.4 2.5 -.7 2.5 -1.1 2.5 -1.4 4 -3.3 3.5 -3.8 4 -5.6 3.5 -6.2 4 -8.5 3.5 -8.9 3.5 -10.0 9.5 -28.7 3 -8.2 2.5 -5.9 3 -5.8 1.5 -2.2 1.5 -1.8 1.5 -1.4 1.5 -.9 1.5 -.5 1 .0 1.5 .2 1 .4 2.5 1.9 2 2.4 2.5 4.2 2.5 5.3 2.5 6.4 2.5 7.4 2.5 8.4 5 19.3 5 22.2 4.5 21.9 11.5 58.5 6.5 29.9 3 12.1 3 10.5 3 8.9 3.5 8.7 4 8.2 5 8.2 14.5 19.5 14.5 22.2 4.5 6.6 4 5.4 3.5 4.1 3.5 3.4 3 2.3 3 1.7 2.5 .8 3 .2 2.5 -.5 2.5 -1.2 2.5 -1.9"/>
<path stroke="#ecca38" d="M569.8 726.3l20.5 -8.2 10.5 -3.9 10 -3.3 9 -2.3 7.5 -1.4 7 -.7 6 -.2 13.5 .1 6 -.2 5 -.7 5 -1.1 5.5 -1.9 5.5 -2.6 5.5 -3.4 6 -4.4 5 -4.3 5.5 -5.3 5 -5.4 5.5 -6.6 5.5 -7.2 5.5 -7.7 5.5 -8.4 5.5 -9.0 9.5 -16.8 9 -17.4 5.5 -11.5 5.5 -12.0 15.5 -36.2 4 -7.7 2 -3.0 1.5 -1.7 2 -1.7 1 -.6 1.5 -.4 1 .0 1.5 .2 2.5 1.0 2 1.4 2 1.7 10 10.4 6 5.4 3.5 2.6 3.5 2.3 3.5 1.9 3.5 1.5 3 1.0 3 .7 3 .4 3 .0 2.5 -.3 2.5 -.7 2.5 -1.0 2.5 -1.3 2.5 -1.8 2 -1.8 2.5 -2.6 2 -2.5 2.5 -3.6 2 -3.2 4 -7.6 3.5 -7.9 3 -7.7 10 -29.1 3.5 -9.6 3 -7.3 2.5 -5.1 2.5 -4.0 2.5 -2.9 1 -.7 1.5 -.9 1 -.3 1.5 .0 2 .5 2.5 1.8 2 2.4 2.5 3.9 2.5 5.2 2.5 6.3 2.5 7.3 2.5 8.2 4.5 16.9 5 21.3 5 23.4 11.5 56.1 6.5 29.0 3.5 13.6 3 10.2 3.5 10.0 3.5 8.3 4 7.9 4.5 7.2 3.5 4.8 10.5 13.6 4.5 6.5 14.5 22.0 4.5 6.1 4 4.7 3.5 3.5 3 2.3 3 1.7 2.5 .8 3 .2 2.5 -.5 2.5 -1.1 2.5 -1.9"/>
<path stroke="#1aaa50" d="M569.8 721.5l10 -3.9 26.5 -11.1 8.5 -3.1 7.5 -2.2 6.5 -1.4 6.5 -.9 6 -.3 13 -.2 6 -.5 5 -.8 4.5 -1.2 5.5 -2.1 5.5 -2.9 5.5 -3.6 6 -4.8 4 -3.6 4.5 -4.4 4.5 -4.9 4.5 -5.2 4.5 -5.7 5 -6.6 9.5 -13.9 10 -16.0 11 -19.2 10 -18.6 16 -31.3 4 -7.3 2.5 -4.0 2.5 -3.3 2 -2.1 2 -1.5 2 -.7 2.5 -.1 2 .6 2.5 1.4 4 3.3 10 10.5 6.5 6.0 3.5 2.7 3.5 2.4 3.5 2.1 3 1.4 3 1.1 3 .8 3 .4 2.5 .0 3 -.5 2.5 -.8 2.5 -1.2 2.5 -1.7 4 -3.6 4 -4.7 4 -6.1 4 -7.3 3 -6.5 3.5 -8.4 12.5 -33.3 3 -7.0 2.5 -5.0 2.5 -4.0 2.5 -2.9 1 -.8 1.5 -.8 1 -.3 1.5 -.2 2 .6 2.5 1.6 2 2.2 2.5 3.8 2 3.9 2.5 5.8 2 5.5 2.5 7.6 4.5 15.8 4.5 18.0 5 21.7 12.5 56.3 7 28.8 3.5 12.7 3.5 11.2 3.5 9.6 3.5 8.1 4 7.6 5 7.8 4 5.4 11.5 14.4 5 7.0 14 20.8 4.5 5.9 4 4.7 3 2.9 3 2.3 3 1.7 2.5 .8 3 .3 2.5 -.4 2.5 -1.2 2.5 -1.8"/>
<path stroke="#1eb9e8" d="M569.8 714.5l6 -2.1 6.5 -2.7 27.5 -13.2 6.5 -2.8 6 -2.3 6.5 -2.0 6.5 -1.3 6 -.6 15.5 -.9 4.5 -.5 4.5 -1.0 5 -1.7 5 -2.3 5 -3.1 5.5 -4.0 6.5 -5.7 7 -7.1 7.5 -8.6 7.5 -9.6 8 -11.0 9 -13.4 8.5 -13.2 18.5 -29.6 10.5 -15.8 5.5 -7.6 4 -4.9 3.5 -3.4 3.5 -2.4 1.5 -.7 1.5 -.3 2.5 .0 3 .9 3 1.7 2.5 2.0 2.5 2.3 11 11.6 6.5 6.3 6.5 5.3 3 2.0 3 1.6 2.5 1.1 2.5 .9 2.5 .5 2.5 .1 2.5 -.3 2 -.5 2.5 -1.1 2 -1.2 4 -3.3 4 -4.4 4 -5.7 3.5 -6.0 3 -5.8 3.5 -7.6 13 -31.2 3 -6.4 2.5 -4.5 2.5 -3.8 2.5 -2.7 1.5 -1.1 1 -.5 1 -.3 1.5 .0 2 .6 2 1.3 2 2.1 2 2.7 2 3.5 2 4.2 2 4.9 2.5 7.0 4 13.1 4 14.9 16 66.6 4 15.8 4 14.6 4.5 14.9 4 11.9 4 10.3 4.5 9.8 4.5 8.0 5 7.4 4.5 5.7 9.5 11.1 4.5 5.6 5 6.8 13.5 19.4 4.5 5.8 4 4.5 3 2.8 3 2.3 3 1.6 2.5 .7 2.5 .3 2.5 -.4 2.5 -1.1 2.5 -1.7"/>
<path stroke="#0000cc" d="M569.8 710.3l6.5 -2.1 7.5 -3.2 7.5 -3.8 21 -11.1 6.5 -3.1 5.5 -2.3 6 -1.9 6 -1.3 5.5 -.7 15 -1.1 4.5 -.7 4 -.9 4.5 -1.5 4.5 -2.2 4.5 -2.7 4.5 -3.2 6.5 -5.5 7 -7.0 7.5 -8.6 7.5 -9.4 7 -9.5 8 -11.4 27.5 -41.3 5 -7.0 5 -6.5 5 -5.9 5 -5.2 4 -3.3 4 -2.4 3.5 -1.2 2 -.2 1.5 .1 1.5 .3 2 .7 3.5 2.0 3 2.3 3.5 3.3 12.5 13.3 6 5.8 6 5.1 3 2.1 2.5 1.4 2.5 1.2 2 .7 2.5 .6 2 .1 2 -.1 2 -.5 2 -.7 2 -1.1 3.5 -2.6 4 -4.2 4 -5.3 4 -6.5 3 -5.6 3.5 -7.4 13 -29.7 3 -6.0 2.5 -4.3 2.5 -3.5 2.5 -2.6 1.5 -1.0 1 -.5 1 -.3 1.5 .0 2 .6 2 1.4 2 2.2 2 2.8 2 3.5 2 4.3 4 10.3 3.5 11.1 4 14.6 16 65.6 3.5 13.3 3.5 12.3 4.5 14.2 4.5 12.5 4.5 10.9 4.5 9.2 4.5 7.8 5.5 7.9 5 6.2 11 12.4 4.5 5.3 5 6.7 14 19.7 4 5.1 4 4.4 3 2.9 3 2.2 3 1.7 2.5 .8 2.5 .2 2.5 -.3 2.5 -1.1 2.5 -1.7"/>
<path stroke="#6e14e0" d="M569.8 706.6l7 -2.2 8 -3.6 8 -4.2 21 -12.1 6.5 -3.3 5.5 -2.4 6 -2.0 5.5 -1.3 5.5 -.7 14 -1.3 4 -.6 4 -1.0 4 -1.4 4 -1.8 4 -2.4 4.5 -3.2 6 -5.0 6.5 -6.4 7 -7.8 7 -8.6 6.5 -8.6 7.5 -10.5 27 -39.2 5.5 -7.5 4.5 -5.6 5 -5.6 4.5 -4.3 4.5 -3.4 4.5 -2.5 2.5 -.9 2 -.4 2.5 -.3 2 .1 2 .4 2 .7 2 .9 2.5 1.5 4 3.1 4 3.7 14.5 15.6 6 5.9 5.5 4.6 5 3.3 4 1.6 2 .5 2 .1 2 -.1 1.5 -.3 3.5 -1.6 3.5 -2.5 4 -4.1 3.5 -4.5 4 -6.3 3 -5.5 3 -6.0 13 -28.8 3 -5.8 3 -5.0 2.5 -3.4 2.5 -2.6 2.5 -1.5 1.5 -.3 1 .0 2 .6 2 1.4 2 2.1 2 2.9 2 3.5 2 4.2 4 10.4 3.5 11.0 4 14.6 15 61.5 3.5 13.4 3 10.4 4 12.4 4.5 12.1 4.5 10.3 4.5 8.8 5 8.3 6 8.3 5.5 6.6 12.5 13.6 5.5 6.4 5 6.5 14 19.4 4 5.0 4 4.3 3 2.8 2.5 1.8 3 1.7 2.5 .8 2.5 .3 2.5 -.3 2.5 -1.0 2.5 -1.7"/>
</g>
<g clip-path="url(#cg)" fill="none" stroke-width="2.75" stroke-linejoin="round">
<path stroke="#dc0000" d="M569.8 1112.4l17.5 -5.8 17 -4.6 16.5 -3.6 8.5 -1.5 8 -1.1 13.5 -1.4 13 -.6 13.5 .2 22 1.3 6 -.1 5.5 -.7 6 -1.5 3 -1.1 3 -1.3 5.5 -3.4 5 -4.1 3.5 -3.4 3.5 -4.1 3.5 -4.7 3 -4.5 3.5 -6.0 3 -5.6 3.5 -7.4 3 -6.9 5.5 -14.4 5 -14.9 17.5 -59.0 2.5 -7.0 2.5 -5.2 1.5 -2.1 2 -1.9 1.5 -.7 2 -.4 1.5 .2 1.5 .4 7 3.2 4.5 1.2 2.5 .3 3 .0 6.5 -.8 8.5 -2.0 4 -1.4 3.5 -2.2 2 -1.8 1.5 -1.7 2.5 -3.7 2.5 -4.8 2.5 -6.1 2 -5.9 4 -14.4 10 -40.4 2.5 -8.8 2.5 -7.4 2.5 -5.8 2.5 -4.3 1.5 -1.8 1.5 -1.2 1.5 -.7 1 -.2 1.5 .3 1 .5 2 1.7 2 2.8 2 3.9 2 5.1 2 6.1 2 7.2 2 8.2 4 18.8 4.5 24.4 4.5 26.7 8.5 52.6 3.5 20.2 3.5 17.8 4 16.8 2.5 8.8 2.5 7.9 6.5 17.8 3.5 8.6 3 6.8 3 6.1 2.5 4.4 2 3.0 2 2.5 2 1.9 1.5 1.0 1.5 .6 1.5 .2 1.5 -.3 2 -1.1 3.5 -3.0 10 -11.0 5.5 -5.6 4 -3.8 8.5 -7.4 4 -3.8 3 -3.2 6.5 -7.5 3 -3.2 3.5 -2.8 2 -1.0 1.5 -.5 2.5 .0 1.5 .4 1 .6 2.5 2.3 2 2.8 2 3.8 2 4.9 2 6.0 2 7.3"/>
<path stroke="#e87d23" d="M569.8 1111.2l18.5 -5.6 17.5 -4.5 17 -3.5 17 -2.7 13.5 -1.4 13 -.6 12.5 .0 21 1.2 6 -.2 5 -.7 6 -1.5 5.5 -2.3 5.5 -3.3 5 -4.0 3.5 -3.5 3.5 -4.0 3.5 -4.6 3.5 -5.2 3.5 -5.9 3 -5.7 3.5 -7.2 3 -6.8 4.5 -11.4 4.5 -12.8 5.5 -17.5 12.5 -42.0 3 -8.7 2.5 -5.3 1.5 -2.3 2 -2.0 1.5 -.9 2 -.5 1.5 .1 1.5 .4 7.5 3.3 4.5 1.2 3 .4 3 .0 6.5 -.8 7.5 -1.5 4 -1.4 3.5 -2.0 2 -1.7 1.5 -1.7 2.5 -3.5 2.5 -4.6 2.5 -5.9 2 -5.8 4.5 -15.9 9.5 -38.0 2.5 -8.8 2.5 -7.5 2.5 -5.9 2.5 -4.4 1.5 -1.8 1.5 -1.3 1.5 -.8 1 -.2 1.5 .2 1 .4 2 1.7 2 2.7 2 3.7 2 4.9 2 6.0 2 7.0 2 8.0 4 18.5 4.5 23.9 13 77.7 4 22.6 3.5 17.4 4 16.4 2.5 8.8 2.5 7.8 6.5 17.7 3.5 8.6 3 6.7 3 6.0 2.5 4.4 2 3.0 2 2.5 2 1.9 1.5 1.0 1.5 .6 1.5 .2 1.5 -.3 2 -1.0 2 -1.5 2 -1.9 10 -10.7 5.5 -5.5 12 -10.7 4 -3.8 12 -13.1 2 -1.7 2 -1.5 2 -1.0 1.5 -.4 2.5 .0 1.5 .4 1 .6 2.5 2.3 2 2.7 2 3.8 2 4.8 2 5.9 2 7.1"/>
<path stroke="#ecca38" d="M569.8 1108.5l21 -5.3 20 -4.5 20 -3.7 19 -2.9 12 -1.3 10.5 -.6 9.5 -.1 18.5 .8 5.5 -.2 4.5 -.6 5.5 -1.3 5.5 -2.3 5 -2.9 5 -3.9 4 -3.9 3.5 -3.9 3.5 -4.5 3.5 -5.1 3.5 -5.7 3.5 -6.3 3.5 -6.9 3 -6.5 5.5 -13.2 5.5 -15.2 4.5 -14.0 9.5 -31.1 3 -9.1 3 -7.6 1.5 -3.0 1.5 -2.2 1.5 -1.7 1.5 -1.0 1.5 -.6 1.5 -.2 1.5 .2 1.5 .4 7.5 3.3 2.5 .8 3 .7 3.5 .3 3.5 .0 4 -.3 4.5 -.7 5.5 -1.2 2 -.7 2 -1.0 2 -1.5 1.5 -1.4 2 -2.4 1.5 -2.2 2 -3.6 2 -4.3 2 -5.2 2 -6.1 3.5 -12.3 9 -35.1 2.5 -8.6 2.5 -7.6 2.5 -6.0 2.5 -4.4 1 -1.3 1.5 -1.5 1.5 -1.0 1.5 -.5 1 .1 1 .2 2 1.3 2 2.3 1.5 2.4 2 4.1 1.5 3.8 3.5 11.1 4 16.2 4 19.2 5 26.9 13 73.8 4 20.2 3.5 15.3 2.5 9.4 2.5 8.5 3 9.1 3.5 9.7 4 10.1 4 9.3 3.5 7.1 3 5.2 2 3.0 2 2.4 2 2.0 1.5 1.0 2 .8 1.5 .0 1.5 -.3 2 -1.0 2 -1.4 2 -1.8 16 -15.9 14.5 -13.0 12 -12.5 2.5 -2.0 2 -1.3 2 -1.0 1.5 -.3 2.5 .1 2.5 1.0 2.5 2.2 2 2.7 2 3.6 2 4.6 2 5.6 2 6.8"/>
<path stroke="#1aaa50" d="M569.8 1102.4l23 -3.4 21.5 -3.6 19.5 -3.6 25.5 -5.3 10.5 -1.8 5.5 -.6 5.5 -.4 5 .0 14.5 .3 5 -.2 4 -.6 5 -1.2 4.5 -1.7 4.5 -2.5 4 -2.9 3.5 -3.0 4 -4.1 3.5 -4.1 4 -5.2 3.5 -5.1 4 -6.4 4 -7.0 4 -7.6 6.5 -13.6 5.5 -13.3 4.5 -12.5 9 -27.3 3.5 -9.4 3 -6.5 1.5 -2.5 1.5 -1.9 1.5 -1.3 1.5 -.8 1.5 -.4 2 -.1 3.5 1.0 8 3.5 5 1.4 3.5 .6 4 .3 8.5 -.2 4.5 -.7 2 -.7 1.5 -.8 3 -2.3 3 -3.7 2 -3.4 2 -4.1 2 -4.9 2 -5.7 3.5 -11.5 9 -33.1 2.5 -8.2 2.5 -7.0 2.5 -5.7 2.5 -4.1 1 -1.2 1.5 -1.4 1.5 -.8 1.5 -.3 2 .5 1.5 1.0 2 2.1 1.5 2.3 2 3.8 1.5 3.6 3 8.7 3.5 12.9 3.5 15.2 4.5 21.9 9 47.0 4.5 22.4 5 22.8 5 20.0 3 10.6 3.5 11.1 3.5 10.0 3.5 9.2 4 9.7 3.5 7.6 3.5 6.7 3 4.9 2 2.7 2 2.3 2 1.8 1.5 .9 2 .8 1.5 .1 2 -.4 2 -.9 3.5 -2.3 5 -4.2 11.5 -10.6 13 -11.5 11.5 -10.7 2.5 -1.9 2 -1.2 2 -.8 2 -.5 2.5 .1 2.5 1.0 2.5 1.9 2 2.3 2.5 3.9 2 4.1 2 5.0 2 5.9"/>
<path stroke="#1eb9e8" d="M569.8 1095.1l13 -.1 12.5 -.6 12 -1.2 12 -1.7 9.5 -1.9 9 -2.1 8 -2.2 18.5 -5.7 5.5 -1.5 5 -1.1 4.5 -.7 4 -.4 18.5 -.1 4.5 -.4 4 -.7 3.5 -1.0 3.5 -1.4 3.5 -1.8 3 -2.1 3.5 -2.8 4 -3.9 4 -4.5 4 -5.1 4 -5.5 4.5 -6.8 5 -8.0 5 -8.6 7.5 -13.6 5.5 -11.6 4 -9.9 7.5 -20.8 3 -7.2 3 -5.7 1.5 -2.2 1.5 -1.6 1.5 -1.2 2 -1.0 1.5 -.2 2 .1 3.5 1.1 9 3.9 5.5 1.8 8 1.6 5 .6 3 .2 3.5 -.3 3 -1.0 1.5 -.9 1.5 -1.2 2.5 -2.8 2 -3.1 2 -3.9 2 -4.8 2 -5.4 3.5 -11.2 9 -31.3 2.5 -7.6 2 -5.2 2.5 -5.4 2.5 -3.9 1 -1.1 1.5 -1.2 1 -.5 1.5 -.3 1.5 .2 1.5 .7 1.5 1.3 2 2.5 1.5 2.5 2 4.1 1.5 3.7 2 5.7 3.5 12.1 4 16.7 12.5 60.1 4 18.1 3.5 14.0 4 14.3 4 13.1 5.5 16.7 4.5 12.9 4.5 11.9 4 9.6 4 8.6 3.5 6.5 3.5 5.5 2.5 3.2 2 2.1 2 1.7 2 1.1 2 .7 2 .1 2 -.3 2 -.7 4.5 -2.5 5.5 -4.1 23 -20.1 7.5 -6.1 3 -2.1 2.5 -1.3 2.5 -.9 2 -.4 2.5 .1 2.5 .7 2.5 1.5 2.5 2.4 2.5 3.2 2 3.3 2.5 5.2 2 5.0"/>
<path stroke="#0000cc" d="M569.8 1088.5l13 1.5 6.5 .4 6.5 .2 6.5 -.2 6 -.3 6 -.7 6 -.9 10 -2.1 9.5 -2.7 8 -2.9 18 -7.3 5 -1.8 4.5 -1.3 5 -1.1 4.5 -.6 4.5 -.3 12 -.2 6.5 -.7 3.5 -.8 3.5 -1.2 3 -1.4 3 -1.8 4 -3.1 4 -3.8 4 -4.5 4.5 -5.6 8.5 -12.1 18.5 -28.4 4.5 -7.5 4 -7.9 2.5 -5.8 6 -15.3 2.5 -5.6 2.5 -4.3 1.5 -2.0 1.5 -1.5 1.5 -1.1 2 -.8 2 -.3 2 .3 3 1.0 10 4.4 6.5 2.5 9 2.6 4.5 1.1 2.5 .4 3 .1 2.5 -.6 2.5 -1.4 2.5 -2.4 2 -2.7 2 -3.6 1.5 -3.3 2 -5.1 4 -12.3 8.5 -28.9 2.5 -7.4 2 -5.2 2.5 -5.1 2.5 -3.8 1.5 -1.5 1 -.7 1 -.4 1.5 -.3 1.5 .3 2 1.2 2 2.2 2 3.0 1.5 2.9 2 4.6 2 5.4 2 6.3 3 11.1 3 12.5 11 51.7 3.5 15.5 4 15.6 3.5 11.1 3 7.9 7.5 18.3 10 26.3 4.5 11.0 3.5 7.7 3 5.8 3 5.2 3 4.4 2.5 3.1 2.5 2.5 2.5 1.9 2 1.0 2 .7 2.5 .2 2.5 -.3 2.5 -.7 4.5 -2.2 5.5 -3.8 5 -4.1 13 -11.4 7.5 -5.8 3 -1.8 3 -1.5 3 -1.0 2.5 -.3 3 .2 2.5 .7 2.5 1.4 2.5 2.0 2.5 2.7 2.5 3.5 2.5 4.3 2 4.1"/>
<path stroke="#6e14e0" d="M569.8 1084.6l6.5 1.4 6.5 1.1 6.5 .8 6.5 .4 6.5 .2 6 -.2 6.5 -.6 6 -.9 10 -2.2 9.5 -3.0 8 -3.3 18.5 -8.6 5.5 -2.2 4.5 -1.4 4.5 -1.1 4.5 -.6 15.5 -.6 6 -.7 3.5 -.8 3 -.9 3 -1.4 2.5 -1.4 3.5 -2.5 3.5 -3.2 4 -4.3 4 -4.9 6 -8.1 16 -23.6 10.5 -14.7 3.5 -5.5 3 -5.6 2.5 -5.5 5 -12.2 2.5 -5.3 2.5 -4.0 2.5 -2.5 1.5 -.9 2 -.6 2 -.1 2 .4 2.5 .9 10.5 4.8 7.5 3.0 10 3.6 6 1.6 3 .2 2.5 -.6 2.5 -1.4 2 -1.8 2 -2.7 2 -3.5 1.5 -3.3 2 -5.1 3.5 -10.8 8.5 -28.6 2.5 -7.5 2 -5.1 2.5 -5.0 2.5 -3.6 1 -1.0 1.5 -1.0 1 -.4 1.5 -.1 1.5 .4 2 1.4 1.5 1.6 2 2.9 1.5 2.8 2 4.5 2 5.4 2 6.2 3 10.8 3.5 14.6 10.5 49.2 3.5 15.4 3.5 13.6 3.5 11.0 3.5 8.3 6.5 12.5 3 6.4 3.5 8.4 8 20.3 4.5 10.3 3 6.1 2.5 4.5 2.5 4.0 2.5 3.5 2.5 3.0 2.5 2.5 2.5 1.9 2.5 1.4 2.5 .8 2.5 .4 2.5 -.2 2.5 -.6 2 -.7 2.5 -1.3 5 -3.2 5 -4.1 12 -10.5 6.5 -4.9 3.5 -2.0 3 -1.4 3 -.8 2.5 -.3 3 .2 2.5 .7 3 1.4 2.5 1.8 2.5 2.4 2.5 3.0 2.5 3.7 2.5 4.4"/>
</g>
<g clip-path="url(#ch)" fill="none" stroke-width="2.75" stroke-linejoin="round">
<path stroke="#dc0000" d="M569.8 1484.7l8 -3.0 7.5 -2.5 8 -2.3 7.5 -2.0 8 -1.7 7.5 -1.4 8 -1.1 7.5 -.8 13 -.7 13 .1 13.5 1.1 16.5 2.4 5 .6 5.5 .1 5 -.4 5.5 -1.2 3 -1.2 2.5 -1.2 5.5 -3.5 6 -4.8 5 -4.7 6 -6.1 8 -8.8 5 -6.0 4 -5.4 3.5 -5.3 3.5 -6.1 3 -5.8 3 -6.6 2.5 -6.0 5 -14.0 3 -9.8 2.5 -8.9 6.5 -26.1 2 -7.2 2 -5.9 1 -2.3 1.5 -2.8 1.5 -2.0 2 -1.7 1.5 -.5 2 -.1 1.5 .3 2 1.0 6.5 4.4 2.5 1.4 2.5 .6 1.5 .0 1.5 -.3 1.5 -.6 2 -1.1 3.5 -2.8 4 -4.1 4.5 -5.6 6.5 -8.6 4.5 -6.5 4 -6.7 4 -7.9 4 -9.3 3.5 -9.6 3 -9.5 6.5 -22.3 2 -6.2 2 -5.4 2.5 -5.5 2.5 -4.0 1.5 -1.7 1 -.7 1 -.5 1 -.2 1 .1 1 .4 1.5 1.2 1.5 1.9 1.5 2.7 1.5 3.5 1.5 4.2 3 10.7 3 13.0 3.5 17.6 17 96.8 4.5 23.6 4.5 21.4 4.5 18.5 2 7.1 2.5 7.8 2 5.5 2.5 5.9 2 4.0 2.5 4.1 2 2.6 2 2.1 2 1.6 2.5 1.3 2 .5 2.5 .1 2 -.4 2.5 -.9 2 -1.2 2.5 -1.7 10 -8.9 4 -2.9 4 -1.9 8.5 -2.7 2.5 -1.3 2 -1.3 2 -1.8 2 -2.1 8 -9.8 3.5 -3.9 2 -1.8 1.5 -1.0 1.5 -.7 1.5 -.4 1.5 .1 1.5 .4 1.5 .8 2 1.6 3.5 3.7 8.5 10.5 2.5 2.4 2 1.4"/>
<path stroke="#e87d23" d="M569.8 1483.2l17 -5.2 8.5 -2.2 8 -1.9 15.5 -2.8 8 -1.1 7.5 -.8 13 -.6 12.5 .1 12.5 .9 20 2.6 5.5 .1 5 -.4 5.5 -1.3 5 -2.1 5 -3.1 5.5 -4.3 5 -4.6 6 -6.1 9 -9.8 5.5 -6.5 4 -5.2 3.5 -5.2 3.5 -5.8 3 -5.6 3 -6.2 2.5 -5.8 3 -7.7 2.5 -7.1 3 -9.4 2.5 -8.6 8 -30.3 2.5 -7.1 1 -2.2 1.5 -2.7 1.5 -1.9 2 -1.6 1.5 -.6 2 -.1 1.5 .4 2 .9 6.5 4.2 2.5 1.3 2.5 .7 2.5 -.2 3 -1.1 3.5 -2.3 4 -3.8 4.5 -5.2 6.5 -8.4 4.5 -6.4 4 -6.5 4 -7.5 4 -8.9 4 -10.3 3 -9.0 7 -22.6 3.5 -9.5 2.5 -5.2 2 -3.1 1.5 -1.7 1 -.8 1 -.6 1 -.2 1 .0 1 .3 1.5 1.0 1.5 1.6 1.5 2.4 1.5 3.1 1.5 3.9 1.5 4.6 2 7.2 3 12.7 3.5 17.1 16.5 91.4 5 25.4 4.5 20.8 4.5 18.1 2.5 8.6 2 6.2 2 5.4 2.5 5.9 2.5 4.9 2.5 4.0 2 2.6 2 2.0 2 1.6 2.5 1.3 2 .5 2.5 .1 2 -.4 2.5 -.9 2.5 -1.3 2.5 -1.8 9.5 -8.1 4 -2.9 4 -1.9 8.5 -2.8 2.5 -1.2 2 -1.3 2 -1.7 2 -2.1 8 -9.4 3 -3.2 3.5 -2.7 1.5 -.8 1.5 -.5 2 .0 1.5 .4 1.5 .8 2 1.5 3.5 3.6 8.5 10.2 2.5 2.4 2 1.4"/>
<path stroke="#ecca38" d="M569.8 1480.8l21.5 -5.0 17.5 -3.5 16 -2.6 14.5 -1.5 12 -.7 11.5 .1 11 .7 18 2.1 5 .1 4.5 -.3 5 -1.0 4.5 -1.6 4.5 -2.5 5 -3.7 5 -4.4 5.5 -5.5 10 -10.8 7 -7.9 4 -5.0 4 -5.5 3.5 -5.4 3 -5.2 3 -5.8 3 -6.5 3 -7.3 2.5 -6.6 5.5 -16.7 8.5 -29.8 2.5 -6.7 2.5 -4.5 1.5 -1.8 2 -1.4 1.5 -.6 2 -.1 1.5 .4 2 .8 6.5 4.0 2.5 1.2 2.5 .7 2.5 -.1 3 -1.0 3.5 -2.1 3.5 -3.0 4 -4.3 5.5 -6.7 5 -6.9 4 -6.2 4 -7.2 4.5 -9.3 4 -9.6 3.5 -9.6 6.5 -19.4 3.5 -8.9 2.5 -4.8 2 -2.9 1.5 -1.5 1 -.7 1 -.5 1 -.2 1 .0 1 .3 1.5 1.0 1.5 1.6 1.5 2.2 1.5 2.9 1.5 3.6 1.5 4.3 2 6.8 3 12.0 3 13.9 17 90.0 5 24.2 5 21.9 5 19.1 2.5 8.1 2 5.8 2 5.2 2.5 5.5 2.5 4.7 2.5 3.8 2 2.5 2 1.9 2 1.5 2.5 1.3 2 .5 2.5 .1 2.5 -.4 2.5 -.8 2.5 -1.4 2.5 -1.7 9 -7.3 4 -2.7 4 -1.9 8.5 -3.0 4 -2.2 2 -1.5 2.5 -2.3 8 -8.7 3 -2.9 3.5 -2.6 1.5 -.7 1.5 -.4 2 .0 1.5 .5 1.5 .7 2 1.4 3.5 3.5 8.5 9.7 2.5 2.4 2 1.4"/>
<path stroke="#1aaa50" d="M569.8 1477.0l8.5 -.9 10 -1.4 42 -6.6 9.5 -1.2 9 -.9 9.5 -.5 9 .0 8.5 .5 15.5 1.5 4.5 .1 4 -.3 4.5 -.8 4 -1.4 4 -2.0 4 -2.7 5 -4.2 5.5 -5.4 20 -22.1 4.5 -5.4 3.5 -4.5 3.5 -5.0 3 -4.8 3 -5.2 3 -5.9 5.5 -12.4 3 -7.6 3 -8.4 9 -27.6 2 -4.8 2.5 -4.2 1.5 -1.8 2 -1.5 2 -.7 2 -.1 1.5 .3 2 .7 6.5 3.6 2.5 1.1 2.5 .6 3 -.1 3 -.8 3 -1.6 3.5 -2.6 3.5 -3.3 5 -5.7 5 -6.6 4.5 -7.0 4.5 -8.0 3.5 -7.0 3.5 -7.7 3.5 -8.4 7 -17.9 2 -4.6 2 -3.8 2 -3.0 2 -2.1 2 -1.2 1.5 -.4 2 .4 1.5 1.0 2 2.1 1.5 2.2 2 3.9 1.5 3.6 3 9.0 3.5 13.3 3.5 15.6 11.5 58.0 5 23.7 4.5 19.8 4.5 18.0 5.5 19.7 2.5 7.8 2.5 6.9 2.5 6.1 2.5 5.2 2.5 4.4 2.5 3.7 2 2.4 2.5 2.3 2 1.4 2.5 1.2 2 .6 2.5 .2 2.5 -.3 2.5 -.7 2.5 -1.1 2.5 -1.5 9.5 -6.9 4 -2.5 3.5 -1.7 8.5 -3.2 4 -2.1 4 -3.0 8 -7.5 3.5 -3.0 3.5 -2.1 1.5 -.5 1.5 -.3 2 .0 1.5 .4 2 1.0 2 1.4 3.5 3.2 8.5 9.0 4 3.4"/>
<path stroke="#1eb9e8" d="M569.8 1471.8l6.5 .5 6.5 .1 7 -.2 8 -.6 14 -1.8 33 -5.3 8.5 -1.1 7.5 -.6 6 -.3 6 .0 5.5 .2 12 .9 7 -.1 4 -.6 4 -1.1 3.5 -1.5 3.5 -2.1 3 -2.2 3 -2.6 7 -7.3 12 -13.9 14.5 -16.3 5 -6.3 4 -5.7 5.5 -9.0 5.5 -10.8 6 -13.5 9.5 -23.7 2.5 -4.9 2 -2.8 2 -2.0 2 -1.2 2 -.6 2 -.1 2 .4 2 .6 6.5 3.0 2.5 .9 3 .5 3 -.1 3 -.7 3 -1.4 3 -1.9 3 -2.4 4 -4.1 3.5 -4.2 3.5 -5.0 4 -6.5 7 -13.0 11.5 -24.2 3.5 -6.5 2 -2.9 2 -2.0 1.5 -1.0 2 -.5 1.5 .1 2 1.0 1.5 1.4 2 2.5 1.5 2.4 2 4.0 3.5 9.1 3 9.9 3.5 13.7 3.5 15.4 8.5 40.4 3.5 15.7 4.5 18.3 5 18.0 6.5 20.8 3 8.6 3 7.8 3 6.9 2.5 4.9 3 5.0 3 4.0 2 2.2 2.5 2.3 2.5 1.7 2.5 1.1 2.5 .7 2.5 .2 2.5 -.2 2.5 -.6 2.5 -.9 3 -1.5 13 -7.9 11.5 -4.9 4 -2.0 4 -2.7 8 -6.0 3.5 -2.2 3.5 -1.5 3 -.6 2 .1 2 .6 2 .9 2.5 1.6 3.5 2.9 8 7.7 3.5 3.1"/>
<path stroke="#0000cc" d="M569.8 1465.6l4 1.3 4 1.0 8 1.3 8.5 .5 9.5 -.4 7 -.7 7.5 -1.1 31 -6.1 13.5 -2.1 5.5 -.5 5.5 -.2 5 .0 11.5 .5 3.5 -.1 3.5 -.3 3 -.6 3 -.8 3 -1.2 2.5 -1.3 2.5 -1.7 2.5 -2.0 3 -2.8 3 -3.1 5 -5.9 12.5 -15.6 16 -17.8 7 -8.5 4.5 -6.4 4 -6.3 6 -10.5 10.5 -19.6 2.5 -4.1 2.5 -3.2 1.5 -1.4 2 -1.4 2 -.9 2 -.4 2 -.1 2.5 .4 3 .8 7.5 2.5 3 .6 2.5 .2 3.5 -.3 3 -.9 3 -1.3 3 -2.0 3 -2.5 2.5 -2.7 2.5 -3.1 3 -4.3 5.5 -9.4 12 -22.3 4.5 -7.4 2 -2.6 2 -1.9 2 -1.1 1.5 -.2 1.5 .3 2 1.2 2 2.0 2 2.9 2 3.6 2 4.4 2 5.0 2.5 7.3 3.5 11.8 3.5 13.6 11.5 50.4 3.5 14.4 4.5 15.9 4.5 13.2 3 7.8 4 9.6 3.5 7.9 3.5 7.3 3 5.6 2.5 4.2 2.5 3.6 3 3.7 2.5 2.6 2.5 2.1 2.5 1.6 3 1.5 2.5 .8 3 .5 2.5 .0 3 -.4 3.5 -1.0 4.5 -1.9 11 -5.7 14.5 -6.8 9 -4.8 3.5 -1.7 5 -1.8 4 -.5 2.5 .2 2.5 .7 2.5 1.0 2.5 1.4 3 2.1 3 2.4 8 7.3"/>
<path stroke="#6e14e0" d="M569.8 1458.9l4 2.2 4.5 2.1 4.5 1.6 4.5 1.3 4.5 .8 5 .6 5 .1 5 -.1 8 -.9 8.5 -1.5 8.5 -2.0 20.5 -5.2 11 -2.3 6 -.8 6 -.6 14 .0 5.5 -.3 3 -.5 3 -.8 2.5 -.9 2.5 -1.1 3 -1.9 3 -2.3 3 -2.8 3 -3.3 4.5 -5.7 10.5 -14.3 4.5 -5.7 6 -6.9 12.5 -13.2 5.5 -6.1 5.5 -6.9 12 -16.4 3.5 -4.2 3.5 -3.6 3 -2.5 2.5 -1.4 3 -1.2 3 -.5 3 -.1 3 .3 12.5 2.7 3 .5 2.5 .2 3 -.2 2.5 -.5 2.5 -1.0 2.5 -1.4 2.5 -1.9 2 -2.0 2 -2.4 2.5 -3.5 4 -6.6 10 -18.1 2.5 -4.1 2.5 -3.6 2 -2.4 2 -1.9 2 -1.1 1.5 -.2 1.5 .4 2 1.4 1.5 1.6 2 3.1 2 3.9 2 4.6 4 11.4 4 13.6 4 15.2 12 50.6 3.5 14.1 3.5 12.3 3 8.6 2 4.8 2 4.2 4.5 7.8 11 15.9 4 5.2 3.5 4.1 3 3.0 3 2.5 3 2.1 3.5 1.9 3 1.2 3.5 .9 3.5 .4 3.5 .0 5 -.9 6 -2.0 5.5 -2.4 14 -7.1 4 -1.8 4 -1.4 4 -1.2 4 -.7 4 -.4 3.5 .1 3.5 .5 3 .7 3 1.0 3 1.4 3 1.8 3 2.2 3 2.5 3 3.0"/>
</g>
<g clip-path="url(#ci)" fill="none" stroke-width="2.75" stroke-linejoin="round">
<path stroke="#dc0000" d="M1097.4 300.0l5 2.4 6 3.2 20.5 12.1 8.5 4.7 8.5 4.0 4 1.5 4 1.2 4.5 1.0 4.5 .6 4 .1 4 -.4 4.5 -.9 4 -1.3 4 -1.8 4 -2.2 3.5 -2.4 3.5 -2.7 3.5 -3.0 3.5 -3.5 3.5 -3.8 4 -4.8 8 -10.7 9 -13.1 11 -16.7 35.5 -55.9 13 -20.0 13 -19.2 12 -16.6 10.5 -13.4 9.5 -11.0 9 -9.3 4.5 -4.2 4.5 -3.8 5.5 -4.3 5.5 -3.8 5.5 -3.3 5.5 -2.9 5.5 -2.4 6 -2.1 5.5 -1.6 6 -1.2 5 -.7 5 -.5 5 -.1 5.5 .2 9.5 .9 24 3.3 7 .6 6 .1 6.5 -.5 6 -1.0 6 -1.6 6 -2.4 7.5 -3.9 8 -5.1 8.5 -6.4 9 -7.7 8.5 -8.0 9.5 -9.5 35 -37.0"/>
<path stroke="#e87d23" d="M1097.4 302.6l10.5 5.4 21.5 12.5 8.5 4.6 9 4.1 4 1.5 4 1.2 4.5 .9 4.5 .6 4.5 .0 4 -.4 4.5 -1.0 4 -1.3 4.5 -2.0 4 -2.3 3.5 -2.4 3.5 -2.7 3.5 -3.0 3.5 -3.5 7.5 -8.5 8 -10.4 8.5 -12.1 10 -14.8 32.5 -50.4 13 -19.6 12.5 -18.1 11 -14.8 10 -12.6 9.5 -10.8 9 -9.2 9 -8.1 5 -4.0 5.5 -3.9 5.5 -3.5 5.5 -2.9 5.5 -2.6 5.5 -2.2 6 -2.0 6 -1.6 5.5 -1.1 5.5 -.8 5.5 -.6 6 -.3 10 .0 24.5 1.0 7 -.1 6.5 -.5 7 -1.0 6.5 -1.7 6 -2.1 6 -2.7 8 -4.7 8.5 -6.0 8.5 -6.9 9.5 -8.7 9 -9.0 10.5 -11.2 32.5 -37.0"/>
<path stroke="#ecca38" d="M1097.4 305.1l10.5 5.3 21.5 12.5 9 4.8 5 2.3 4.5 1.9 4.5 1.6 4 1.1 4.5 .9 4.5 .5 4.5 -.1 4.5 -.5 4.5 -1.0 4.5 -1.6 4.5 -2.1 4 -2.3 3.5 -2.4 3.5 -2.7 6.5 -5.9 7.5 -8.2 8 -10.0 8 -10.8 9 -12.8 31 -45.9 12 -17.3 12.5 -17.2 11.5 -14.9 10 -12.0 9.5 -10.5 9 -9.1 9 -8.0 5 -4.1 5 -3.6 5 -3.3 5.5 -3.2 5.5 -2.8 5.5 -2.5 5.5 -2.1 6 -1.9 5.5 -1.5 5.5 -1.2 6 -1.1 6 -.9 10 -.9 25.5 -1.4 7 -.8 6.5 -1.0 7 -1.6 7 -2.2 6 -2.5 6.5 -3.4 8.5 -5.4 8.5 -6.5 9 -7.9 10 -9.7 10 -10.7 11 -12.5 12 -14.4 18 -22.1"/>
<path stroke="#1aaa50" d="M1097.4 307.7l10 5.1 22 12.6 9.5 5.0 5 2.3 5 2.1 4.5 1.5 4.5 1.3 5 .9 4.5 .4 5 -.1 4.5 -.6 5 -1.2 4.5 -1.6 5 -2.3 4.5 -2.6 5.5 -3.8 6 -5.1 6 -5.8 6.5 -7.0 8 -9.4 9.5 -11.7 28.5 -37.2 10.5 -13.4 9.5 -11.7 10 -11.9 14 -15.9 13.5 -14.5 13 -13.0 11 -10.0 10 -8.0 5 -3.5 5 -3.2 10 -5.6 5.5 -2.7 5.5 -2.3 10 -3.6 11 -3.2 10 -2.3 25 -4.9 7 -1.7 6.5 -1.9 7 -2.4 7 -3.0 6.5 -3.5 6.5 -4.0 9 -6.6 9 -7.7 9.5 -9.1 10 -10.5 10.5 -12.0 11 -13.5 12 -15.4 15 -19.9"/>
<path stroke="#1eb9e8" d="M1097.4 310.8l10 5.1 22.5 12.7 10 5.2 5.5 2.5 5.5 2.2 5 1.6 4.5 1.1 5.5 .9 5 .3 5.5 -.3 5 -.8 5.5 -1.4 5 -1.9 5 -2.4 5 -2.9 6 -4.2 6 -4.8 6.5 -5.8 7 -6.9 14 -14.9 35 -39.2 31 -32.7 23.5 -24.3 11.5 -11.6 10.5 -9.8 9 -7.6 8.5 -6.2 8.5 -5.5 9 -5.1 9 -4.4 8 -3.4 8.5 -3.3 26.5 -8.8 9 -3.3 8.5 -3.4 7.5 -3.6 7.5 -4.1 7.5 -4.8 7 -5.1 7.5 -6.2 8.5 -7.9 8.5 -8.7 9 -9.9 9 -10.8 9.5 -12.0 10 -13.3 10.5 -14.6 11.5 -16.7"/>
<path stroke="#0000cc" d="M1097.4 312.8l11 5.6 23.5 13.2 9.5 4.8 6 2.6 5.5 2.1 5.5 1.7 5 1.1 6 .7 5.5 .1 5.5 -.4 6 -1.1 5.5 -1.7 6 -2.3 5.5 -2.8 6 -3.5 6 -4.1 6.5 -5.0 7 -5.9 7.5 -6.7 9.5 -9.0 25.5 -24.6 40 -37.3 36.5 -35.7 9 -8.2 8.5 -7.0 7 -5.2 7 -4.7 7.5 -4.7 8 -4.5 14.5 -7.6 33.5 -16.0 8.5 -4.5 7.5 -4.2 8 -5.0 7.5 -5.3 7 -5.4 7 -6.0 9.5 -9.0 9.5 -10.0 10 -11.4 10 -12.4 10.5 -14.0 10.5 -14.9 11 -16.5 11.5 -18.1"/>
<path stroke="#6e14e0" d="M1097.4 315.4l10.5 5.4 24 13.2 10.5 5.3 6 2.6 6 2.2 5.5 1.6 5.5 1.2 6 .7 6 .0 6 -.5 6.5 -1.3 6 -1.8 6.5 -2.6 6 -3.0 6.5 -3.8 6 -4.2 6.5 -4.9 6.5 -5.4 7.5 -6.5 29.5 -27.4 27.5 -24.5 12.5 -11.5 12 -11.4 20.5 -20.1 8.5 -8.1 7 -6.2 7 -5.7 6 -4.5 6.5 -4.5 7 -4.5 7 -4.2 13.5 -7.5 32 -16.7 8.5 -4.8 8 -4.8 8.5 -5.6 8 -5.7 7.5 -6.0 7 -6.1 10 -9.6 10.5 -11.3 10.5 -12.3 10.5 -13.5 10.5 -14.4 11 -16.3 11 -17.2 11.5 -19.0"/>
</g>
<g clip-path="url(#cj)" fill="none" stroke-width="2.75" stroke-linejoin="round">
<path stroke="#dc0000" d="M1097.4 698.7l7.5 4.7 7 4.1 6.5 3.5 6 2.8 5.5 2.3 5.5 1.9 5.5 1.4 5 1.0 5 .4 5 .0 5 -.5 4.5 -.9 4.5 -1.3 4.5 -1.8 4.5 -2.3 5 -3.1 5 -3.5 5 -4.2 5 -4.6 5.5 -5.7 5 -5.8 5 -6.3 5 -6.7 5.5 -8.1 5 -7.8 5 -8.3 10.5 -18.8 11 -21.2 30 -59.6 9.5 -17.8 8.5 -14.8 5 -8.0 4.5 -6.8 4.5 -6.4 5 -6.5 4.5 -5.4 5 -5.5 4.5 -4.5 5 -4.5 5 -3.9 5 -3.4 5 -2.9 5 -2.3 5 -1.9 5 -1.3 5 -.8 5 -.3 4.5 .2 4.5 .5 4.5 .8 5 1.3 10 3.2 18 6.9 7.5 2.6 7.5 2.3 7 1.4 4.5 .6 4 .2 4 -.1 4 -.3 4 -.5 4 -.9 4 -1.1 4 -1.3 4.5 -1.9 4.5 -2.2 4.5 -2.6 4 -2.6 4 -2.8 4.5 -3.6 4.5 -3.8 5 -4.7 9 -9.2 10.5 -11.7 10.5 -12.5 22 -26.9"/>
<path stroke="#e87d23" d="M1097.4 699.0l8 4.9 7 4.1 6.5 3.4 6 2.9 6 2.4 5.5 1.9 5.5 1.4 5 .8 5 .5 5 .0 5 -.6 4.5 -.9 4.5 -1.3 5 -2.1 4.5 -2.3 5 -3.1 5 -3.6 5 -4.1 5 -4.6 5 -5.2 5 -5.7 5 -6.1 5 -6.7 5 -7.2 9.5 -14.9 10 -17.4 11 -20.6 29.5 -56.9 9 -16.3 8.5 -14.5 5 -7.8 4.5 -6.7 4.5 -6.2 4.5 -5.8 4.5 -5.4 5 -5.4 4.5 -4.5 5 -4.5 5 -4.1 5 -3.5 5 -3.0 5.5 -2.8 5 -2.1 5 -1.5 5 -1.1 5.5 -.7 4.5 -.1 4.5 .2 5 .6 5 .9 10 2.5 18.5 5.7 7.5 2.0 7.5 1.7 7 1.0 4 .2 4 .0 4 -.3 4 -.5 4 -.8 4 -1.0 4 -1.3 4 -1.5 4.5 -2.1 4.5 -2.3 4.5 -2.8 4 -2.7 4 -3.0 4.5 -3.7 9.5 -8.8 9.5 -10.0 10.5 -12.0 10.5 -12.8 22 -27.5"/>
<path stroke="#ecca38" d="M1097.4 699.5l8.5 5.2 7 4.0 6.5 3.4 6 2.8 6 2.4 5.5 1.8 5.5 1.5 5.5 .9 5 .5 5 .0 5 -.5 5 -1.0 5 -1.6 5 -2.0 5 -2.6 5 -3.1 4.5 -3.3 5 -4.0 4.5 -4.1 5 -5.1 4.5 -4.9 5 -6.0 4.5 -5.8 5 -6.9 9 -13.5 10 -16.6 10.5 -18.7 28.5 -52.1 9 -15.5 8 -13.0 9.5 -13.9 4.5 -6.0 4.5 -5.6 4.5 -5.1 4.5 -4.8 4.5 -4.5 5 -4.5 5 -4.0 5.5 -4.0 5 -3.2 5.5 -3.0 5 -2.3 5.5 -2.0 5.5 -1.6 5.5 -1.1 4.5 -.5 4.5 -.2 5 .1 5 .3 10 1.4 18.5 3.4 7.5 1.2 8 .9 7 .2 4.5 -.2 4 -.4 8 -1.6 8 -2.5 8 -3.4 4.5 -2.4 4.5 -2.8 4.5 -3.0 4 -3.0 8.5 -7.2 9.5 -9.4 9 -9.9 10.5 -12.5 10.5 -13.3 22.5 -29.1"/>
<path stroke="#1aaa50" d="M1097.4 700.5l8.5 5.1 7.5 4.2 7 3.5 6.5 3.0 6 2.4 6 2.0 6 1.5 5.5 .9 5.5 .4 5 .0 5.5 -.6 5 -1.1 5 -1.5 5 -2.1 5 -2.6 5.5 -3.4 4 -2.8 4.5 -3.6 4 -3.5 4.5 -4.4 8.5 -9.2 9 -11.1 8.5 -11.8 9 -13.6 9.5 -15.1 27 -44.2 8.5 -13.3 8 -11.7 9 -12.2 8.5 -10.4 8.5 -9.1 9 -8.5 5.5 -4.6 5.5 -4.2 5.5 -3.8 5.5 -3.4 5.5 -3.1 6 -2.9 6 -2.5 5.5 -1.9 4.5 -1.3 5 -1.1 5 -.9 5.5 -.7 10.5 -.6 27 -.8 8 -.7 7 -1.0 8.5 -2.1 8 -2.8 8 -3.6 8 -4.5 4.5 -2.9 4.5 -3.3 9 -7.3 8.5 -8.2 9.5 -10.2 9.5 -11.3 10.5 -13.5 10.5 -14.0 22.5 -30.8"/>
<path stroke="#1eb9e8" d="M1097.4 701.6l9.5 5.5 8.5 4.5 7.5 3.7 7 3.1 7 2.6 6.5 2.0 6 1.3 6 .8 6 .3 5.5 -.2 5.5 -.8 6 -1.4 5.5 -1.9 6 -2.6 6 -3.3 6 -3.8 7.5 -5.6 8 -7.0 8 -8.0 8.5 -9.3 7 -8.3 8 -10.0 26.5 -34.6 9.5 -12.1 10 -12.2 9 -10.2 8 -8.5 8.5 -8.3 8.5 -7.7 9 -7.5 11.5 -8.7 11.5 -7.8 11 -6.6 11 -5.7 8.5 -3.8 9.5 -3.6 9 -3.1 21 -6.7 9.5 -3.4 9 -3.7 8 -3.8 8.5 -4.9 8 -5.2 8 -6.1 8 -6.8 8 -7.7 7.5 -8.0 8 -9.3 8.5 -10.8 8.5 -11.4 9.5 -13.3 31 -45.3"/>
<path stroke="#0000cc" d="M1097.4 702.6l11 6.2 9 4.7 8.5 4.0 8 3.3 7.5 2.6 7 2.0 7 1.3 6.5 .7 6.5 .1 6.5 -.5 6.5 -1.2 7 -1.9 6.5 -2.5 7 -3.2 7 -3.9 7 -4.5 5.5 -4.0 5.5 -4.4 6 -5.0 6 -5.4 13 -12.6 32 -32.9 16 -15.6 9.5 -8.9 10 -8.8 10 -8.5 11 -9.0 12 -9.5 11.5 -8.6 11 -8.0 10 -6.8 16.5 -10.3 34.5 -20.2 8 -5.0 7.5 -5.0 7.5 -5.4 7 -5.4 7 -5.9 7 -6.4 9.5 -9.5 9 -10.0 9 -11.0 9.5 -12.6 9.5 -13.4 10.5 -15.7 34 -52.7"/>
<path stroke="#6e14e0" d="M1097.4 703.1l11.5 6.4 10 5.1 9 4.2 8.5 3.4 8 2.7 7.5 1.9 7.5 1.3 7 .6 7 -.1 7.5 -.8 7.5 -1.6 7.5 -2.3 7.5 -3.0 7.5 -3.6 8 -4.6 8 -5.3 10 -7.4 11.5 -9.4 11 -9.6 25.5 -23.0 14 -12.4 17.5 -14.8 18 -14.7 19.5 -15.2 19 -14.2 16 -11.5 32.5 -22.5 16 -11.7 9 -7.1 8.5 -7.0 8 -7.1 8 -7.6 11 -11.2 10.5 -11.9 10 -12.5 10 -13.6 10.5 -15.3 11.5 -17.7 36.5 -58.7"/>
</g>
<g clip-path="url(#ck)" fill="none" stroke-width="2.75" stroke-linejoin="round">
<path stroke="#dc0000" d="M1097.4 1087.3l22 9.2 6.5 2.4 6 2.0 6 1.6 6 1.2 5.5 .6 5 .1 5.5 -.4 5 -1.0 5 -1.5 5 -2.1 5 -2.7 5.5 -3.6 5 -3.8 5.5 -4.9 4.5 -4.4 4.5 -4.9 4.5 -5.4 5 -6.4 9 -12.9 9.5 -15.4 8 -14.3 8.5 -16.2 29 -58.6 10.5 -20.6 10.5 -19.1 5 -8.4 4.5 -7.1 5.5 -8.0 5 -6.6 5 -6.0 5 -5.4 5 -4.7 5 -4.0 5 -3.4 5 -2.8 4.5 -1.9 4 -1.3 4.5 -.9 4.5 -.4 4.5 .1 4.5 .5 5 1.1 5 1.6 4.5 1.8 4.5 2.0 10 5.5 10 6.3 26 17.5 7.5 4.6 6.5 3.5 7.5 3.4 7 2.5 7 1.5 6.5 .6 4 -.1 4.5 -.4 4 -.6 4.5 -1.1 4.5 -1.3 4.5 -1.6 9.5 -4.2 9.5 -5.1 10.5 -6.5 10.5 -7.1 22 -15.4"/>
<path stroke="#e87d23" d="M1097.4 1087.5l22 9.3 6.5 2.4 6 2.0 6 1.7 6 1.2 5.5 .6 5 .1 5.5 -.4 5 -.9 5 -1.4 5 -2.0 5 -2.6 5 -3.1 5 -3.7 5.5 -4.6 4.5 -4.3 4.5 -4.8 4.5 -5.1 4.5 -5.6 4.5 -6.0 4.5 -6.4 4.5 -6.9 5 -8.1 8 -13.9 8.5 -15.8 28.5 -56.2 10.5 -20.0 10 -17.7 5 -8.2 4.5 -6.9 5 -7.2 5 -6.5 5 -5.9 5.5 -5.7 5 -4.6 5 -4.0 5 -3.4 5.5 -3.1 4.5 -1.9 4.5 -1.5 4.5 -1.1 4.5 -.5 4.5 -.1 5 .4 5 .8 5.5 1.4 4.5 1.5 5 2.0 10 4.7 10 5.6 25.5 15.2 7.5 4.0 6.5 3.1 7.5 3.0 7 2.0 7 1.2 6.5 .2 4 -.2 4 -.6 4 -.7 4.5 -1.2 4.5 -1.5 4.5 -1.8 9.5 -4.5 9 -5.1 10.5 -6.8 10.5 -7.4 23 -16.7"/>
<path stroke="#ecca38" d="M1097.4 1087.8l21 9.0 7 2.7 6 2.0 6 1.7 6 1.2 5.5 .7 5 .3 5.5 -.3 5 -.8 5 -1.3 5 -1.8 5 -2.4 5 -2.9 5 -3.4 5.5 -4.4 4.5 -4.1 4.5 -4.5 4.5 -5.0 4.5 -5.3 4.5 -5.8 4.5 -6.2 9 -13.7 7.5 -12.5 8.5 -15.3 28 -53.5 10 -18.5 10 -17.1 9 -13.8 5 -6.9 4.5 -5.6 5 -5.7 5 -5.1 5 -4.4 5 -3.9 5 -3.4 5.5 -3.0 4.5 -2.1 5 -1.7 4.5 -1.2 5 -.8 4.5 -.4 5 .1 5 .4 5.5 .9 4.5 1.1 5 1.4 10.5 3.9 10.5 4.6 26.5 12.6 7.5 3.1 7 2.6 8 2.2 7 1.3 7 .5 6.5 -.3 4 -.5 4 -.8 4 -1.1 4.5 -1.5 8.5 -3.6 9.5 -5.0 9 -5.7 10 -6.9 34.5 -26.3"/>
<path stroke="#1aaa50" d="M1097.4 1088.6l19.5 8.7 7 2.8 6.5 2.2 6 1.8 6 1.4 5.5 .8 5.5 .5 5.5 -.1 5 -.5 5.5 -1.1 5 -1.5 5.5 -2.3 5 -2.6 5 -3.1 5 -3.7 4.5 -3.7 4 -3.7 4 -4.0 4.5 -4.9 8.5 -10.4 9 -12.6 7.5 -11.5 8 -13.3 27.5 -48.4 10 -17.0 10 -15.8 9 -12.6 5 -6.4 4.5 -5.2 5 -5.2 5 -4.7 5 -4.2 5 -3.7 5 -3.2 5.5 -3.1 5 -2.3 5 -1.9 5 -1.6 5.5 -1.3 5 -.8 5.5 -.5 5.5 -.1 5.5 .2 10 1.1 11 2.3 11 3.0 26 8.0 7.5 1.9 6.5 1.3 7.5 1.1 7 .3 7 -.4 6.5 -1.1 8 -2.2 8 -3.2 8.5 -4.3 9 -5.6 8.5 -6.0 9.5 -7.4 36 -29.8"/>
<path stroke="#1eb9e8" d="M1097.4 1089.5l16.5 7.6 7 2.9 6 2.3 6 2.0 5.5 1.5 5.5 1.2 5.5 .9 5 .4 5 .1 5 -.2 5 -.7 5 -1.1 5 -1.6 5 -1.9 4.5 -2.1 4.5 -2.5 4.5 -2.9 4.5 -3.2 4 -3.2 4.5 -3.9 4 -3.9 4.5 -4.6 4.5 -5.0 8.5 -10.4 9.5 -12.9 9.5 -13.8 27 -40.4 8.5 -11.9 7.5 -9.9 9 -10.6 4.5 -4.9 4.5 -4.5 4.5 -4.2 4.5 -3.8 4.5 -3.5 4.5 -3.1 5.5 -3.5 5.5 -3.1 5.5 -2.6 5.5 -2.3 5.5 -2.0 6 -1.8 6 -1.3 6 -1.1 11 -1.1 12 -.2 11.5 .5 28 1.9 8 .2 7 -.1 8 -.6 7.5 -1.2 7 -1.7 7 -2.4 8 -3.5 8 -4.4 8 -5.2 8.5 -6.5 7.5 -6.2 8.5 -7.6 28.5 -27.2 11 -10.0"/>
<path stroke="#0000cc" d="M1097.4 1090.5l8.5 4.3 8 3.7 7.5 3.1 7 2.7 6.5 2.0 6.5 1.8 6.5 1.3 6 .8 6 .4 6 .0 6 -.5 5.5 -.9 5.5 -1.4 5.5 -1.7 5.5 -2.2 5.5 -2.7 7 -4.1 7 -4.9 7 -5.7 7 -6.5 7 -7.0 8 -8.7 32 -37.2 7 -7.8 6.5 -7.0 8 -7.9 8 -7.4 8 -6.6 8 -6.0 10 -6.6 11 -6.2 11.5 -5.5 12.5 -5.0 11.5 -3.8 13 -3.7 12.5 -3.1 30.5 -6.8 8.5 -2.2 8 -2.3 9 -3.0 8 -3.1 7.5 -3.5 7.5 -4.0 8.5 -5.3 8 -5.7 8 -6.6 8 -7.3 6.5 -6.4 7 -7.3 30.5 -33.4 13.5 -14.0"/>
<path stroke="#6e14e0" d="M1097.4 1091.0l8.5 4.4 8 3.8 7.5 3.2 7.5 2.7 7 2.3 7 1.8 7 1.4 6.5 .8 6.5 .4 6.5 .0 6.5 -.6 6 -1.0 6 -1.4 6 -2.0 6 -2.4 5.5 -2.8 6.5 -3.8 6.5 -4.5 7 -5.6 7.5 -6.6 6.5 -6.3 7 -7.0 32 -33.6 8 -7.9 7.5 -6.8 8 -6.8 7.5 -5.9 7.5 -5.4 7.5 -4.8 9 -5.2 9 -4.6 9.5 -4.3 10.5 -4.2 9 -3.2 10 -3.2 31.5 -9.1 11.5 -3.6 11 -3.7 10 -3.9 10.5 -4.7 9.5 -5.0 9 -5.3 9 -6.2 7.5 -5.8 7.5 -6.4 7 -6.6 7.5 -7.8 6.5 -7.2 7.5 -8.8 31 -37.5 7 -8.1 6 -6.5"/>
</g>
<g clip-path="url(#cl)" fill="none" stroke-width="2.75" stroke-linejoin="round">
<path stroke="#dc0000" d="M1097.4 1466.9l26.5 5.3 7.5 1.2 6.5 .8 7 .5 6.5 .1 6 -.3 6 -.8 6 -1.3 6 -1.8 6 -2.5 5.5 -2.9 5.5 -3.4 5.5 -4.1 5.5 -4.9 5 -5.0 4 -4.5 4 -4.9 4 -5.4 4 -5.8 4 -6.3 4 -6.8 8.5 -15.8 7.5 -15.3 8.5 -18.5 28 -64.2 10.5 -23.4 10 -20.7 5 -9.6 4.5 -8.2 5 -8.4 5 -7.6 5 -6.9 5 -6.2 5 -5.3 4.5 -4.0 5 -3.6 4.5 -2.4 4.5 -1.6 4 -.8 4 -.1 4.5 .6 4.5 1.3 4.5 1.9 4.5 2.6 5 3.5 4.5 3.7 4.5 4.3 5 5.1 5 5.7 9.5 11.7 20 26.5 5.5 6.6 5 5.4 3.5 3.4 3.5 3.0 3.5 2.7 3 2.0 3 1.7 3.5 1.8 3 1.2 3.5 1.1 4 .9 4.5 .6 4.5 .2 5 -.2 5 -.6 5 -.9 5 -1.3 5.5 -1.7 5 -1.9 5.5 -2.4 11.5 -5.7 12.5 -7.1 23 -13.9"/>
<path stroke="#e87d23" d="M1097.4 1467.3l27.5 5.5 7 1.1 6.5 .9 6.5 .5 6.5 .2 6 -.2 6 -.7 6 -1.2 6 -1.7 6 -2.4 5.5 -2.7 5.5 -3.3 5 -3.7 5.5 -4.6 5 -4.8 4.5 -4.9 4 -4.9 4 -5.2 4 -5.8 4 -6.2 4 -6.7 8 -14.6 7.5 -15.0 8 -17.1 27 -61.0 10.5 -23.0 10.5 -21.3 5 -9.4 4.5 -7.9 5 -8.1 5 -7.5 5 -6.7 5 -5.9 5 -5.1 4.5 -3.9 5 -3.5 4.5 -2.5 4.5 -1.6 4 -.9 4 -.3 4.5 .4 4.5 1.1 4.5 1.7 5 2.6 5 3.2 4.5 3.4 5 4.3 5 4.8 5 5.2 9.5 10.9 20.5 25.1 5.5 6.1 5 4.9 6.5 5.4 6.5 4.3 3.5 1.8 3 1.3 3 1.1 3.5 .9 4.5 .8 4.5 .4 4.5 .0 5 -.4 5 -.8 5 -1.1 5 -1.5 5.5 -1.9 5 -2.1 5.5 -2.5 11.5 -6.2 11.5 -6.8 24 -15.1"/>
<path stroke="#ecca38" d="M1097.4 1467.7l28.5 5.8 13 2.1 6.5 .6 6.5 .3 6 -.2 5.5 -.5 6 -1.0 6 -1.6 5.5 -2.0 5.5 -2.6 5.5 -3.2 5 -3.4 5 -4.0 5 -4.6 4 -4.1 4 -4.6 4 -5.0 4 -5.5 7.5 -11.5 8 -14.0 7 -13.5 8 -16.6 26.5 -58.2 10 -21.2 10 -19.6 5 -9.1 4.5 -7.6 5 -7.8 5 -7.1 5 -6.3 5 -5.7 5 -4.9 5 -4.1 5 -3.4 4.5 -2.4 4.5 -1.7 4.5 -1.1 4.5 -.5 4.5 .2 4.5 .7 5 1.5 5 2.1 5 2.6 5 3.2 5 3.6 5 4.0 5.5 4.9 10 9.8 20.5 21.6 5.5 5.3 5 4.2 3.5 2.6 3.5 2.3 6.5 3.5 3.5 1.4 3 1.0 6.5 1.4 4.5 .4 4.5 .0 4.5 -.3 5 -.8 4.5 -1.0 5 -1.4 5 -1.7 5.5 -2.3 10 -4.8 11.5 -6.7 11.5 -7.3 25 -16.7"/>
<path stroke="#1aaa50" d="M1097.4 1468.5l29.5 6.3 12 2.1 6 .7 6 .5 5.5 .1 5.5 -.2 6 -.8 5.5 -1.1 5.5 -1.6 5 -1.9 5 -2.3 5 -2.9 5 -3.3 5 -3.8 4.5 -3.9 4 -3.8 4 -4.2 4 -4.5 8 -10.2 8 -11.7 7.5 -11.9 8 -13.6 27.5 -49.3 10.5 -18.2 10.5 -16.9 9.5 -13.8 5 -6.6 5 -6.0 5 -5.5 5 -4.9 5 -4.4 5 -3.7 5 -3.2 4.5 -2.3 4.5 -1.9 4 -1.2 4.5 -.9 4.5 -.4 4.5 .1 4.5 .4 5 1.1 5 1.4 5 1.9 5 2.2 5 2.6 5.5 3.1 10.5 6.8 20.5 14.4 5.5 3.4 5 2.7 7 2.9 6.5 1.8 6.5 .9 7 .0 4.5 -.4 4.5 -.8 4.5 -1.1 5 -1.6 4.5 -1.6 5 -2.2 5 -2.5 5 -2.7 9.5 -5.9 11 -7.6 37.5 -28.7"/>
<path stroke="#1eb9e8" d="M1097.4 1469.5l9.5 2.0 22.5 5.3 10.5 2.2 11 1.8 10 .8 5.5 .0 5 -.3 5 -.5 5 -.9 5 -1.2 5 -1.5 5 -1.9 4.5 -2.0 8 -4.4 7.5 -5.1 7.5 -6.0 7.5 -7.0 8 -8.4 8.5 -9.8 9 -11.0 25 -31.4 8 -9.5 7 -7.8 8.5 -8.7 8.5 -7.8 8 -6.4 8.5 -5.8 5 -3.0 5 -2.7 5 -2.3 5 -2.0 5 -1.7 5 -1.4 5 -1.1 5 -.8 5.5 -.6 5.5 -.3 12 -.1 12.5 .7 26.5 2.3 6.5 .3 5.5 -.1 7.5 -.7 7.5 -1.4 7 -2.0 7 -2.7 9 -4.4 9.5 -5.7 9 -6.4 9.5 -7.7 8.5 -7.7 9 -8.8 31 -32.0 12 -11.9"/>
<path stroke="#0000cc" d="M1097.4 1470.5l12 2.6 25.5 6.6 11.5 2.6 6.5 1.2 6 .9 5.5 .5 5.5 .3 6.5 .0 6 -.4 6.5 -.9 6 -1.1 6.5 -1.8 6 -1.9 6 -2.4 6 -2.8 10 -5.5 11.5 -7.4 11 -7.8 27 -19.8 13 -8.9 11.5 -7.1 12.5 -6.9 8 -3.9 8.5 -3.9 18.5 -7.7 19 -7.0 43.5 -15.4 10.5 -4.0 9 -3.6 9.5 -4.3 9 -4.5 8.5 -4.9 8.5 -5.5 10 -7.3 10 -8.3 9.5 -8.9 9.5 -10.0 7 -7.9 8 -9.7 34 -43.2 7.5 -9.2 7 -8.2"/>
<path stroke="#6e14e0" d="M1097.4 1471.0l13.5 3.0 25 6.7 9.5 2.4 10 2.0 9 1.3 5.5 .4 5 .2 5.5 -.1 5 -.3 5 -.6 5 -.9 5 -1.1 5 -1.3 7 -2.4 7 -2.9 7.5 -3.7 7.5 -4.2 7 -4.3 8 -5.3 29 -20.3 12 -8.1 12.5 -7.5 13.5 -7.2 14 -6.4 16 -6.5 15 -5.5 33.5 -11.7 15 -5.6 13 -5.5 12 -5.6 8.5 -4.5 8 -4.7 8 -5.1 7.5 -5.2 7.5 -5.7 7.5 -6.3 7 -6.3 7 -6.8 10.5 -11.4 11.5 -13.7 11 -14.2 27 -35.7 8 -10.1 7 -8.5"/>
</g>
<g clip-path="url(#cm)" fill="none" stroke-width="2.75" stroke-linejoin="round">
<path stroke="#dc0000" d="M1627.4 322.8l3 -.1 3 -.8 3 -1.2 3.5 -1.9 3 -2.0 3.5 -2.7 13 -11.2 5 -3.9 5 -3.2 5.5 -2.6 3 -1.0 3.5 -.9 3.5 -.6 4 -.4 7.5 -.2 14.5 .6 6.5 .0 6.5 -.4 6 -1.1 3.5 -.9 3 -1.1 3.5 -1.6 3 -1.7 3 -1.9 3.5 -2.5 6.5 -5.6 5 -5.0 5 -5.4 5.5 -6.4 5.5 -6.9 5.5 -7.2 4.5 -6.3 4 -6.0 4 -6.7 6 -11.5 3 -6.5 3 -7.1 4.5 -11.8 11.5 -32.2 3.5 -9.0 3 -6.8 3 -5.8 3.5 -5.4 3.5 -3.9 1.5 -1.3 2 -1.3 2 -.9 2 -.5 2 -.2 2.5 .3 2 .5 2.5 1.1 4.5 2.8 4 3.5 5 5.1 14.5 17.1 5.5 6.1 4.5 4.3 4 2.9 2 1.1 2 .8 2 .4 1.5 .1 2 -.2 1.5 -.4 2 -1.0 1.5 -1.1 3 -3.0 3 -4.3 3 -5.7 3 -7.2 2 -5.6 2.5 -8.0 8 -28.2 3.5 -11.6 4.5 -12.9 4 -9.5 4 -7.5 2 -2.9 2 -2.5 2 -1.9 2 -1.3 2 -.7 2 -.1 2.5 .7 2.5 1.6 2.5 2.7 2.5 3.5 2.5 4.6 2.5 5.5 2.5 6.4 2.5 7.4 4 13.9 4.5 18.4 4 18.1 11.5 54.2 6 25.4 3 11.0 3.5 11.2 3.5 9.8 4 9.8 4.5 9.3 5.5 9.9 13 21.0 17 28.5 8.5 13.1 3.5 4.8 3.5 4.4 3 3.4 3 3.0 3 2.6 2.5 1.7 3 1.6 2.5 .9"/>
<path stroke="#e87d23" d="M1627.4 322.1l3 -.3 3 -.8 3 -1.3 3.5 -1.9 6.5 -4.7 13 -10.8 5.5 -4.3 5.5 -3.5 5.5 -2.6 3 -1.0 3.5 -1.0 3.5 -.7 4 -.5 7 -.3 14.5 .4 6 .0 6 -.5 5.5 -1.1 3.5 -.9 3 -1.1 6 -2.9 6.5 -4.2 6.5 -5.4 4.5 -4.2 5 -5.2 5 -5.7 5 -6.0 6 -7.6 5 -6.7 4.5 -6.5 4 -6.4 6.5 -11.6 6 -12.5 5 -11.9 11.5 -29.4 3 -7.1 3 -6.3 3.5 -6.4 3 -4.3 3.5 -3.8 1.5 -1.2 2 -1.2 2 -.9 2 -.5 2 -.2 2.5 .3 2 .5 2.5 1.0 4.5 2.8 4 3.4 5 4.9 14.5 16.6 5.5 5.9 5 4.5 4 2.8 2 1.0 2 .8 2 .4 1.5 .1 2 -.3 1.5 -.4 2 -.9 1.5 -1.0 2 -1.7 1.5 -1.6 3 -4.2 3 -5.4 3 -6.7 2 -5.4 2.5 -7.4 8.5 -28.3 3.5 -10.8 4 -11.0 4 -9.2 2 -3.8 2 -3.4 2 -2.8 1.5 -1.8 2 -1.8 2 -1.2 2 -.7 1.5 -.1 2.5 .7 2.5 1.6 2.5 2.6 2.5 3.6 2.5 4.6 2.5 5.4 2.5 6.4 2.5 7.2 4 13.3 4.5 17.4 15.5 67.8 6 24.1 3.5 12.2 3.5 10.7 3.5 9.4 4 9.4 5 10.1 5.5 9.6 13 20.4 16.5 26.7 8.5 12.8 7 9.2 3 3.4 3 3.1 3 2.7 3 2.2 3 1.7 2.5 1.1"/>
<path stroke="#ecca38" d="M1627.4 321.4l3 -.4 3 -.9 3 -1.3 3.5 -1.9 7 -5.0 13 -10.6 5.5 -4.2 5.5 -3.5 6 -2.9 3.5 -1.2 3.5 -1.0 3.5 -.7 3.5 -.5 7 -.3 13.5 .2 5.5 -.1 6 -.6 5.5 -1.1 6.5 -2.1 6 -2.9 6 -3.8 6.5 -5.2 4.5 -4.1 4.5 -4.6 9.5 -10.7 11 -14.0 4.5 -6.3 4 -6.0 7 -11.6 6.5 -12.6 5 -10.9 12 -28.1 3 -6.4 3 -5.9 3.5 -5.8 3 -4.0 3 -3.0 1.5 -1.2 2 -1.3 2 -.8 2 -.5 2 -.2 2.5 .3 2 .5 2.5 1.0 4.5 2.7 4 3.3 5 4.8 14.5 16.2 5.5 5.7 5 4.4 4 2.7 2 1.1 2 .7 2 .5 2 .1 2 -.2 2 -.5 2 -1.0 1.5 -1.0 2 -1.7 1.5 -1.6 3 -4.0 3 -5.2 3 -6.4 2 -5.0 2.5 -7.0 9 -28.3 3.5 -10.3 4 -10.4 3.5 -7.7 2 -3.7 2 -3.3 2 -2.6 1.5 -1.7 2 -1.7 1.5 -.8 2 -.6 1.5 -.1 2.5 .7 2 1.4 2 2.0 2.5 3.3 2.5 4.3 2.5 5.3 2.5 6.1 2.5 6.9 4 12.6 4.5 16.4 16 65.9 6.5 24.7 3.5 11.6 3.5 10.2 3.5 9.1 4 9.1 5 9.9 6 10.2 13.5 20.6 16 25.2 8.5 12.4 7 9.0 6 6.5 3 2.7 3 2.3 3 1.9 2.5 1.2"/>
<path stroke="#1aaa50" d="M1627.4 320.7l3 -.6 3 -1.0 3 -1.3 3.5 -2.0 7 -4.8 13.5 -10.8 5.5 -4.1 6 -3.8 6.5 -3.1 6.5 -2.2 3.5 -.8 3.5 -.5 6.5 -.4 13 .0 5.5 -.2 5.5 -.6 5 -1.0 6.5 -2.1 6 -2.9 6 -3.7 6 -4.7 4 -3.5 4.5 -4.3 9 -9.8 10.5 -12.9 9 -12.3 7 -10.9 7 -12.3 5.5 -10.8 12.5 -26.2 6 -11.0 3.5 -5.4 3 -3.7 3 -2.9 3.5 -2.2 2 -.8 2 -.4 2 -.1 2.5 .2 2 .6 2.5 1.0 4.5 2.7 4 3.2 4.5 4.2 15 16.2 5 5.1 5 4.4 4.5 3.0 2.5 1.2 2 .7 2 .4 2 .1 2 -.2 2 -.6 2 -.9 1.5 -.9 3.5 -3.1 3 -3.6 3.5 -5.6 3 -6.1 2.5 -5.9 2.5 -6.7 8.5 -25.1 4 -11.1 4 -9.8 3.5 -7.2 3.5 -5.8 2 -2.5 1.5 -1.5 2 -1.5 1.5 -.7 1.5 -.4 1.5 .0 2 .6 2 1.3 2 1.9 2.5 3.4 2 3.4 2.5 5.1 2.5 5.9 2.5 6.7 4 12.2 4 13.8 16 61.7 4 14.7 3.5 12.0 3.5 11.0 3.5 9.8 4 9.9 4 8.7 5.5 10.5 6.5 10.6 28.5 42.8 8.5 12.1 7 8.9 6.5 7.0 3 2.8 3 2.4 3 2.0 2.5 1.4"/>
<path stroke="#1eb9e8" d="M1627.4 319.9l3 -.7 3 -1.1 3.5 -1.7 3.5 -2.0 7 -4.8 14 -10.9 5.5 -4.0 6.5 -4.1 6.5 -3.1 6.5 -2.3 6.5 -1.3 6.5 -.5 17 -.3 5 -.6 5 -1.0 6 -2.0 6 -2.8 6 -3.6 6 -4.4 8 -7.1 8 -8.3 9 -10.5 9 -11.6 8 -11.5 7.5 -12.0 6.5 -11.4 12.5 -23.1 6 -10.0 3.5 -5.0 3.5 -4.1 3.5 -3.0 3 -1.8 2 -.8 2 -.4 2 -.1 2.5 .2 2 .5 2.5 1.0 4.5 2.6 4 3.1 4.5 4.1 15 15.8 5.5 5.5 5 4.2 4.5 2.9 2.5 1.1 2 .7 2 .4 2 .1 2 -.2 2 -.4 2 -.8 2 -1.2 3.5 -2.8 3.5 -4.0 3.5 -5.3 3 -5.6 2.5 -5.5 3 -7.4 8.5 -23.4 4 -10.4 3.5 -8.2 3.5 -6.9 3.5 -5.5 3 -3.3 1.5 -1.2 1.5 -.8 1.5 -.4 1.5 -.1 2 .5 2 1.2 2 1.9 2 2.7 2 3.2 2 3.9 2 4.5 2.5 6.3 4 11.5 4 13.1 16 57.9 4 13.7 4 12.9 4 11.9 4 10.6 4 9.4 4.5 9.3 6 10.9 6.5 10.3 27.5 39.7 8.5 11.8 7.5 9.4 6.5 7.1 6 5.4 3 2.3 3 1.8"/>
<path stroke="#0000cc" d="M1627.4 319.0l3 -.9 3.5 -1.4 3.5 -1.8 3.5 -2.1 7 -4.7 15 -11.4 6 -4.2 6.5 -4.0 6.5 -3.3 6 -2.1 6 -1.3 6 -.5 16 -.6 5 -.6 4.5 -1.0 6 -2.1 5.5 -2.5 6 -3.5 6 -4.3 6.5 -5.4 7 -6.8 7 -7.5 7.5 -9.0 8 -10.4 8 -11.3 7.5 -11.6 14.5 -23.2 6.5 -9.5 4 -5.1 4 -4.3 3.5 -2.9 3.5 -2.0 2 -.7 2 -.4 2 -.2 2.5 .3 2 .5 2.5 .9 4.5 2.6 4.5 3.4 4.5 4.0 15 15.4 5.5 5.3 5 4.1 4.5 2.8 2.5 1.1 2 .7 2.5 .4 2 .1 2.5 -.2 2 -.5 2 -.8 2 -1.1 2 -1.4 2 -1.7 3.5 -3.9 3.5 -4.9 3.5 -6.0 2.5 -5.1 3 -6.8 9.5 -23.9 3.5 -8.3 3.5 -7.5 3 -5.4 3 -4.3 1.5 -1.7 1.5 -1.3 1.5 -1.0 1.5 -.6 1.5 -.3 1 .1 2 .6 1.5 .9 1.5 1.4 2 2.5 1.5 2.3 2 3.7 4 9.1 3.5 9.6 3.5 10.8 15 51.5 4.5 14.6 4 12.0 5 13.9 4.5 11.2 4.5 10.0 5 9.9 6.5 11.3 7.5 11.5 25.5 35.2 9 12.0 8 9.9 7 7.7 6.5 6.1 6 4.5"/>
<path stroke="#6e14e0" d="M1627.4 318.2l3 -1.0 3.5 -1.6 7.5 -4.2 7.5 -5.0 15.5 -11.5 6.5 -4.5 6.5 -4.0 6 -3.1 5.5 -2.0 6 -1.3 5.5 -.6 15.5 -.8 4.5 -.6 4 -.9 5.5 -1.9 5.5 -2.5 5.5 -3.1 6 -4.1 7 -5.6 7 -6.5 7.5 -7.9 7.5 -8.7 6.5 -8.3 7 -9.5 21.5 -31.3 4.5 -6.0 4 -4.8 4 -4.3 4 -3.7 3.5 -2.5 3.5 -1.8 2.5 -.8 2 -.3 2 -.1 2 .2 2 .5 2.5 .9 2.5 1.2 2.5 1.6 4.5 3.4 4.5 4.0 15 15.1 5.5 5.2 5 4.0 5 3.1 2.5 1.0 2 .7 2.5 .4 2 .1 2.5 -.3 2 -.4 2 -.8 2 -1.0 4 -2.8 4 -4.0 4 -5.2 3.5 -5.5 3 -5.6 3 -6.2 13.5 -30.9 3 -6.0 3 -5.0 3 -3.9 2.5 -2.2 2.5 -1.2 1.5 -.2 1 .1 2 .6 1.5 1.0 1.5 1.5 1.5 1.8 3 5.0 3.5 7.7 3 8.0 3.5 10.4 14.5 48.7 3.5 11.0 4 11.6 5 13.1 5 11.8 5 10.6 5.5 10.5 7.5 12.7 8.5 12.6 8 10.8 24.5 32.1 9 11.0 7.5 8.3 7 6.9 6.5 5.3"/>
</g>
<g clip-path="url(#cn)" fill="none" stroke-width="2.75" stroke-linejoin="round">
<path stroke="#dc0000" d="M1627.4 726.9l8 -3.1 18 -7.7 8 -3.1 8.5 -2.9 7.5 -1.8 6.5 -.9 6 -.2 6 .4 13 1.4 6.5 .3 5.5 -.3 5.5 -1.1 6 -2.0 6 -2.8 6 -3.7 6.5 -4.9 5.5 -4.9 6 -6.0 6 -6.9 6 -7.5 6 -8.3 6 -8.9 6 -9.7 6.5 -11.1 9 -16.9 8 -17.0 4 -9.4 4 -10.0 10 -27.6 3.5 -9.0 4 -8.7 2 -3.3 1.5 -2.0 2 -1.8 1 -.6 1.5 -.4 1 -.1 1.5 .3 2.5 1.2 3.5 2.9 10.5 11.2 7.5 7.0 4 3.2 3.5 2.5 3.5 2.1 3.5 1.7 3 1.2 2.5 .7 2.5 .5 2.5 .1 2.5 -.2 2.5 -.6 2.5 -1.1 2 -1.1 2.5 -1.9 2 -1.9 2 -2.3 2 -2.6 4 -6.5 4 -8.3 3 -7.4 3 -8.6 10 -32.3 3.5 -10.7 3 -8.0 2.5 -5.7 2.5 -4.4 2.5 -3.1 2.5 -1.9 1.5 -.5 1.5 -.1 2 .5 2.5 1.7 2.5 2.8 2.5 3.9 2 3.9 2.5 5.8 2.5 6.9 2.5 7.9 3.5 12.9 3.5 14.7 16.5 77.0 5 22.0 4.5 18.5 4.5 16.9 4 13.3 4 11.6 4.5 11.0 5 10.1 5.5 9.5 13 19.5 15.5 24.7 4.5 6.5 4 5.0 3.5 3.6 3 2.5 3 1.8 2.5 1.0 3 .3 2.5 -.4 2.5 -1.2 2.5 -1.8"/>
<path stroke="#e87d23" d="M1627.4 726.3l9 -3.5 18 -7.8 7.5 -3.0 8 -2.7 7.5 -2.0 6.5 -.9 6 -.3 6 .4 13.5 1.3 6 .2 5.5 -.4 5.5 -1.1 6 -2.1 6 -2.9 6 -3.7 6 -4.5 5.5 -4.9 6 -6.0 6 -6.8 6 -7.4 6 -8.2 6 -8.9 6 -9.5 6.5 -11.0 9 -16.6 8 -16.6 4.5 -10.3 4 -9.9 10 -26.9 3.5 -8.8 2 -4.5 2 -3.9 2 -3.2 1.5 -1.9 2 -1.7 1 -.5 1.5 -.4 1 .0 1.5 .3 2.5 1.2 3.5 2.9 10.5 11.2 7.5 7.0 4 3.2 3.5 2.5 3.5 2.1 3.5 1.8 3 1.1 2.5 .8 2.5 .4 2.5 .1 2.5 -.2 2.5 -.6 2.5 -1.0 2 -1.2 2.5 -1.9 2 -1.9 2 -2.3 2 -2.6 4 -6.6 4 -8.3 3 -7.4 3 -8.5 13 -41.0 3 -8.1 2.5 -5.7 2.5 -4.5 1.5 -2.1 1.5 -1.7 2.5 -1.7 1.5 -.5 1.5 -.1 2 .6 2.5 1.8 2 2.2 2.5 3.8 2 3.7 2.5 5.7 2.5 6.7 2.5 7.8 3.5 12.6 3.5 14.4 17 78.6 4.5 19.6 4.5 18.4 4.5 16.9 4 13.3 4 11.6 4.5 11.0 5 10.2 6 10.2 13 19.4 15.5 24.6 4.5 6.4 4 5.0 3.5 3.7 3 2.5 3 1.8 2.5 1.0 3 .3 2.5 -.4 2.5 -1.1 2.5 -1.9"/>
<path stroke="#ecca38" d="M1627.4 724.4l10.5 -4.0 19 -8.4 7.5 -3.1 7.5 -2.6 6.5 -1.8 6 -1.0 6 -.4 5.5 .2 13.5 1.0 6 .1 5.5 -.5 5 -1.1 5.5 -2.0 5.5 -2.6 5.5 -3.3 6 -4.4 5.5 -4.7 6 -5.9 5.5 -6.0 6 -7.2 6 -7.9 6 -8.5 6 -9.1 6.5 -10.5 9.5 -16.6 8.5 -16.6 4.5 -9.6 4.5 -10.2 10.5 -26.4 3.5 -8.2 4 -7.9 2 -3.0 1.5 -1.8 2 -1.6 1 -.6 1.5 -.3 1 -.1 1.5 .3 2.5 1.2 2 1.5 2 1.9 10.5 11.1 7.5 7.1 3.5 2.8 3.5 2.5 3.5 2.2 3.5 1.8 3 1.2 3 .9 2.5 .5 2.5 .1 2.5 -.2 2 -.5 2.5 -.9 2 -1.1 2.5 -1.8 2 -1.9 2 -2.2 2 -2.7 4 -6.4 4 -8.1 3 -7.3 3 -8.2 13 -39.4 3 -7.8 3 -6.6 2.5 -4.2 2.5 -2.9 2.5 -1.7 1.5 -.5 1.5 .0 2 .6 2.5 1.7 2 2.3 2.5 3.7 2 3.8 2.5 5.6 2.5 6.7 2.5 7.6 3.5 12.3 3.5 14.1 17 76.9 4.5 19.2 4.5 17.9 4.5 16.3 4 12.9 4 11.2 4.5 10.7 5 9.9 5.5 9.2 14 20.5 16 25.1 4 5.7 4 5.0 3.5 3.7 3 2.5 3 1.9 2.5 .9 3 .4 2.5 -.4 2.5 -1.1 2.5 -1.9"/>
<path stroke="#1aaa50" d="M1627.4 720.9l6 -2.0 6.5 -2.6 21 -9.9 7 -3.2 6.5 -2.4 5.5 -1.7 6 -1.2 5.5 -.5 5.5 -.1 12.5 .4 6 -.2 5.5 -.8 5 -1.3 5.5 -2.2 6 -3.2 6 -4.0 6 -4.8 5 -4.5 5 -5.0 5 -5.5 5 -5.9 5 -6.4 5.5 -7.4 5.5 -7.8 6 -9.0 12 -19.4 5.5 -9.5 5 -9.2 7.5 -14.8 11.5 -24.9 4.5 -8.9 2 -3.3 2 -2.8 2 -2.1 2 -1.5 2 -.7 2 -.1 2 .6 2.5 1.5 3.5 3.0 10.5 11.2 7.5 7.1 3.5 2.9 3.5 2.6 3.5 2.2 3.5 1.9 3 1.2 3 1.0 3 .6 2.5 .1 2.5 -.2 2.5 -.6 2.5 -1.1 2.5 -1.6 3.5 -3.1 3.5 -4.3 3.5 -5.6 4 -7.9 3 -6.9 3 -7.6 13 -36.8 3 -7.3 2.5 -5.2 3 -4.9 2.5 -2.8 2.5 -1.6 1.5 -.5 1.5 .0 2 .6 2.5 1.8 2 2.2 2.5 3.8 2 3.8 2.5 5.6 2.5 6.5 2.5 7.5 3.5 11.9 4 15.4 16.5 71.6 4.5 18.4 4 15.3 4.5 15.6 4 12.2 4 10.7 4 9.1 5 9.7 5.5 9.0 4 5.8 12.5 17.4 17 26.0 3.5 4.8 3.5 4.3 3 3.2 3 2.6 3 1.9 2.5 1.0 3 .4 2.5 -.4 2.5 -1.1 2.5 -1.8"/>
<path stroke="#1eb9e8" d="M1627.4 716.0l6.5 -1.9 7.5 -3.0 7.5 -3.7 19 -10.2 6 -2.8 5 -2.0 6 -1.8 5.5 -1.1 5.5 -.4 16 -.7 5 -.6 4.5 -1.0 5.5 -2.0 5.5 -2.7 6 -3.7 6 -4.5 4 -3.5 4.5 -4.2 9 -9.4 9 -10.7 10 -13.1 12.5 -17.8 14 -21.3 10.5 -17.1 12.5 -21.7 4 -6.5 2.5 -3.5 2 -2.4 2 -1.9 2 -1.4 2.5 -.8 2 -.1 2.5 .7 3 1.8 4 3.5 11 11.8 7 6.6 3.5 3.0 3.5 2.6 3.5 2.4 3 1.6 3 1.4 3 1.1 3 .7 3 .3 2.5 -.2 2.5 -.5 2.5 -1.0 2 -1.2 3.5 -2.9 3 -3.5 3.5 -5.4 3.5 -6.5 3 -6.4 3.5 -8.3 12.5 -32.1 3 -6.8 3 -5.7 3 -4.5 2.5 -2.6 1.5 -1.0 1.5 -.7 1.5 -.2 1 .0 2 .7 2 1.3 2 2.0 2.5 3.5 2 3.6 2.5 5.4 2 4.9 2.5 7.0 4 12.7 4.5 16.4 16.5 67.4 4 15.5 4 14.5 4 13.1 4 11.6 4 9.9 4 8.5 5 9.0 5.5 8.4 4.5 6.2 14.5 18.8 4.5 6.4 13 19.6 4 5.4 3.5 4.2 3 3.1 2.5 2.1 3 1.8 2.5 1.0 2.5 .3 2.5 -.3 2.5 -1.1 2.5 -1.8"/>
<path stroke="#0000cc" d="M1627.4 712.5l3.5 -.8 3.5 -1.1 4 -1.5 4 -1.8 8 -4.2 20 -11.6 5.5 -2.8 5 -2.2 5.5 -1.8 5 -1.0 5.5 -.7 15 -1.3 4.5 -.8 4 -1.0 5 -1.8 5 -2.5 5 -3.1 5.5 -4.0 7 -6.0 7.5 -7.4 7.5 -8.3 8.5 -10.3 10 -13.0 12 -16.5 13 -18.6 24.5 -35.6 3 -3.8 2.5 -2.7 2.5 -2.0 2 -1.2 2.5 -.7 1.5 -.1 1.5 .2 2.5 1.0 3 1.9 4.5 4.0 11 11.8 7 6.7 7 5.7 3.5 2.4 3 1.7 3 1.5 3 1.1 3 .7 3 .4 2.5 .0 2.5 -.5 2.5 -.9 2 -1.1 3.5 -2.9 3 -3.4 3 -4.5 3 -5.4 3 -6.2 3 -6.8 12.5 -30.2 3 -6.4 3 -5.6 3 -4.5 1.5 -1.8 1.5 -1.4 1.5 -1.0 1.5 -.7 1.5 -.3 1 .0 1.5 .4 1 .4 2 1.4 2 2.0 2 2.8 2 3.4 2.5 5.2 2 4.8 2.5 6.8 4 12.4 4.5 15.8 17 66.5 7.5 27.0 4 12.6 3.5 9.8 3.5 8.3 4 8.2 4.5 7.7 5.5 8.1 5.5 7.2 11.5 13.8 5 6.4 5.5 7.6 13 19.3 4 5.3 3.5 4.1 3 2.9 2.5 1.9 2.5 1.5 2.5 .8 2.5 .3 2.5 -.5 2.5 -1.2 2 -1.5"/>
<path stroke="#6e14e0" d="M1627.4 710.1l3.5 -.7 4 -1.1 4 -1.6 4.5 -2.1 8 -4.4 20 -12.3 5.5 -3.0 5 -2.2 5 -1.8 5 -1.2 5 -.8 14.5 -1.6 4.5 -.9 4 -1.0 4.5 -1.8 5 -2.5 4.5 -2.8 5 -3.6 6 -5.0 6.5 -6.2 7 -7.4 7 -8.1 7.5 -9.3 8.5 -11.0 32 -43.5 13 -17.0 4 -4.8 3 -3.1 3 -2.5 2.5 -1.5 2.5 -.7 1.5 -.1 1.5 .2 3 1.0 3 1.9 2.5 2.0 2.5 2.3 12 12.9 7 6.8 7 5.7 3.5 2.4 3 1.7 3 1.4 3 1.1 3 .8 2.5 .3 2.5 .1 2.5 -.4 2.5 -.8 2 -1.1 3 -2.2 3 -3.2 2.5 -3.5 3 -5.1 5.5 -11.3 13.5 -31.4 3 -6.2 3 -5.3 3 -4.3 3 -3.1 1.5 -1.0 1.5 -.7 1.5 -.3 1.5 .1 2.5 .9 2 1.5 2 2.1 2 2.8 2 3.5 2 4.2 2 4.7 2.5 6.8 4 12.2 4.5 15.5 16.5 62.9 7.5 26.5 4 12.5 3.5 9.6 3.5 8.3 3.5 6.9 4.5 7.5 5 7.1 6 7.5 13 15.0 6 7.4 5.5 7.5 13 19.2 4 5.2 3.5 4.0 3 2.8 2.5 1.9 2.5 1.4 2.5 .7 2.5 .2 2 -.4 2.5 -1.2 2 -1.5"/>
</g>
<g clip-path="url(#co)" fill="none" stroke-width="2.75" stroke-linejoin="round">
<path stroke="#dc0000" d="M1627.4 1104.4l5 -2.5 5 -2.0 5.5 -1.7 5.5 -1.4 5.5 -.9 6 -.8 23 -1.8 10 -1.2 8.5 -1.8 19 -4.9 8 -1.6 5 -.5 5 .0 16 1.4 5 .2 4 -.1 4 -.5 4.5 -1.1 4.5 -1.8 4 -2.4 4 -3.1 4 -3.8 4.5 -4.9 4.5 -5.7 5 -7.0 5 -7.6 5 -8.3 4.5 -8.1 4 -8.1 6 -13.7 5.5 -14.9 3 -9.2 3 -10.1 8 -29.6 1.5 -4.4 1 -2.3 1 -1.8 1 -1.4 1.5 -1.4 2 -.7 3 -.1 3 .7 2.5 .9 3 1.4 10 5.7 4 2.0 4 1.4 3.5 .4 2 -.2 2 -.5 2 -.9 1.5 -.9 2 -1.7 1.5 -1.6 3 -4.0 2.5 -4.3 2.5 -5.3 2.5 -6.3 2.5 -7.4 3.5 -12.4 8.5 -34.0 2.5 -8.4 2.5 -7.2 2 -4.8 1.5 -3.0 1.5 -2.6 1.5 -2.1 1.5 -1.7 1.5 -1.2 1.5 -.7 1.5 -.2 1.5 .2 1 .4 2 1.5 2 2.5 2 3.6 2 4.6 2 5.9 2 7.1 2 8.4 3 15.3 3 18.2 9.5 66.3 3.5 22.7 3 16.4 1.5 6.8 2 7.7 2 6.6 2.5 7.1 15 37.5 6.5 14.6 3 5.8 2.5 4.3 2 2.9 2 2.6 2 2.0 2 1.5 2 1.0 1.5 .3 2 -.2 1.5 -.5 2 -1.4 2.5 -2.5 2.5 -3.1 7 -9.5 2.5 -2.8 2.5 -2.4 3 -2.3 8.5 -5.8 10 -8.1 4 -2.9 2.5 -1.6 2.5 -1.2 2 -.7 2 -.4 3 .1 3 .9 2.5 1.7 2 2.3 2 3.4 2 4.5 2 6.1 2 7.8"/>
<path stroke="#e87d23" d="M1627.4 1103.2l4.5 -2.1 5 -2.0 5 -1.5 5.5 -1.3 5 -.9 6 -.7 23.5 -1.8 10.5 -1.3 9 -1.9 19.5 -5.4 8 -1.6 5 -.5 5 -.1 15.5 1.3 5 .2 4 -.2 4 -.5 4.5 -1.1 4 -1.7 4 -2.3 4 -3.0 4 -3.7 4.5 -4.9 4.5 -5.6 5 -7.0 5.5 -8.3 5 -8.2 4.5 -8.1 4 -7.9 5.5 -12.4 5.5 -14.5 3 -8.9 3 -9.7 8.5 -30.4 1.5 -4.2 1 -2.3 1 -1.7 1 -1.4 1.5 -1.2 2 -.8 3 .0 3 .7 2.5 .9 3 1.4 9.5 5.6 4 2.0 4 1.5 3.5 .6 2 -.1 2 -.4 2 -.8 1.5 -.8 2 -1.6 1.5 -1.5 3 -3.9 2.5 -4.2 2.5 -5.2 2.5 -6.1 2.5 -7.3 4 -13.9 8.5 -33.5 2.5 -8.3 2.5 -6.9 3 -6.7 1.5 -2.6 1.5 -2.1 1.5 -1.6 1.5 -1.2 1 -.5 1.5 -.3 1.5 .1 1 .4 2 1.3 2.5 3.1 2 3.5 2 4.6 2 5.8 2 6.9 2 8.2 3 14.7 3 17.6 10 67.9 3.5 22.0 3 16.0 1.5 6.6 2 7.6 2 6.5 2.5 7.0 15 36.9 6.5 14.5 3 5.8 2.5 4.2 2 3.0 2 2.5 2 2.0 2 1.6 2 .9 1.5 .3 2 -.1 1.5 -.6 2 -1.3 2.5 -2.4 2.5 -3.1 7 -9.3 2.5 -2.7 2.5 -2.3 3 -2.3 8.5 -5.7 10.5 -8.5 4 -3.0 2.5 -1.5 2.5 -1.1 2 -.7 2 -.3 3 .2 1.5 .4 1.5 .7 2.5 2.0 2 2.5 2 3.6 2 4.9 2 6.4 1.5 6.0"/>
<path stroke="#ecca38" d="M1627.4 1100.3l4.5 -1.8 5 -1.6 5.5 -1.4 5.5 -1.0 10 -1.2 24 -1.6 6 -.7 5.5 -.9 8.5 -2.1 20 -6.2 4.5 -1.2 4.5 -.8 4.5 -.5 4.5 .0 14.5 .9 4.5 .1 4 -.2 4 -.5 4.5 -1.1 4 -1.6 3.5 -2.0 4 -2.9 4 -3.6 4.5 -4.8 4.5 -5.5 4.5 -6.1 5.5 -8.1 5.5 -8.8 4.5 -7.8 4 -7.6 6 -12.8 5.5 -13.7 6 -17.5 8.5 -28.3 2.5 -6.4 2 -3.2 1.5 -1.4 2 -.9 3 -.1 3 .7 2.5 .9 3 1.4 10.5 6.2 4 2.1 4 1.5 3.5 .5 2 -.1 1.5 -.3 2 -.7 1.5 -.9 3 -2.6 3 -3.8 2.5 -4.2 2.5 -5.2 2.5 -6.2 2.5 -7.1 4 -13.5 8.5 -32.5 2.5 -8.1 2 -5.5 3 -6.7 1.5 -2.6 1.5 -2.1 1.5 -1.6 1.5 -1.1 1.5 -.5 1 -.1 2 .6 1.5 .9 1 1.0 2 2.6 2 3.5 2.5 5.7 2 5.7 2 6.8 2 7.8 3 13.9 3.5 19.2 10.5 67.0 3.5 20.5 3 14.9 3.5 13.5 2.5 7.6 2.5 6.6 15 35.6 6.5 14.0 3 5.6 2.5 4.1 2 2.8 2 2.4 2 1.9 1.5 1.1 2 .9 1.5 .3 2 -.1 1.5 -.5 2 -1.3 2.5 -2.3 9.5 -11.6 2.5 -2.6 2.5 -2.1 12 -8.2 10.5 -8.6 4 -2.9 2.5 -1.5 2 -1.0 2 -.6 2 -.4 3 .2 1.5 .4 1.5 .7 2.5 2.0 2 2.6 2 3.6 2 4.8 2 6.3 1.5 5.8"/>
<path stroke="#1aaa50" d="M1627.4 1095.9l4 -1.2 4.5 -1.1 9 -1.4 9 -.7 23 -1.1 6.5 -.7 6 -.9 5 -1.0 5 -1.4 22 -7.9 5.5 -1.7 4.5 -1.0 4.5 -.6 4.5 -.3 14.5 .5 5 -.1 4 -.3 4 -.7 3.5 -1.0 3.5 -1.5 3.5 -1.9 3 -2.2 4 -3.4 4 -4.1 4 -4.6 4.5 -5.8 5 -7.1 6 -9.2 5 -8.1 4.5 -7.9 6 -11.8 5.5 -12.5 6 -15.7 10 -29.3 2.5 -5.4 2 -2.7 2 -1.5 2 -.5 2.5 .1 3 .8 3 1.2 3 1.5 10 6.2 3.5 1.9 4 1.7 3.5 .8 2 .1 1.5 -.2 1.5 -.4 1.5 -.7 1.5 -.9 1.5 -1.3 2.5 -2.9 2.5 -3.9 2.5 -4.9 2.5 -5.9 2.5 -6.8 4.5 -14.4 9 -32.7 2 -6.3 2 -5.4 3 -6.5 2.5 -3.8 1.5 -1.6 1 -.7 1.5 -.7 1 -.1 1 .2 1 .4 2 1.5 2 2.5 2.5 4.5 2 4.6 2 5.4 2 6.4 2.5 9.1 3.5 15.0 3.5 17.6 11 63.5 3.5 18.9 3.5 16.3 3.5 12.8 2.5 7.3 2.5 6.4 15 33.8 7 14.7 3 5.5 2.5 4.0 2 2.8 2 2.4 2 1.9 1.5 1.0 2 1.0 1.5 .3 1.5 .0 2 -.6 2 -1.2 2.5 -2.1 9 -10.0 2.5 -2.4 2.5 -2.0 12.5 -8.3 4 -3.1 8 -6.6 3.5 -2.6 4 -2.1 2 -.7 2 -.3 1.5 .0 1.5 .3 2.5 1.1 2.5 2.0 2 2.6 2 3.6 2 4.8 2 6.1 1.5 5.5"/>
<path stroke="#1eb9e8" d="M1627.4 1089.8l7 -.9 7.5 -.5 24 .0 8 -.3 7 -.6 6 -.8 6.5 -1.5 6 -2.0 6 -2.4 16.5 -7.3 4.5 -1.7 4.5 -1.4 4.5 -.9 4.5 -.6 4.5 -.2 13 -.1 4 -.2 3.5 -.5 4 -1.0 4 -1.4 3.5 -1.8 3.5 -2.3 3.5 -2.9 4 -3.9 4 -4.4 4 -5.0 4.5 -6.1 5 -7.3 6 -9.2 5 -8.1 7 -12.4 6.5 -13.2 4.5 -10.3 8.5 -21.4 2.5 -5.8 2.5 -4.7 1 -1.4 1.5 -1.6 2 -1.3 2 -.5 3 .2 3 .9 3 1.3 3 1.7 10 6.4 4 2.3 3.5 1.6 3.5 1.0 3 .2 1.5 -.3 1.5 -.6 2.5 -1.6 2.5 -2.5 2 -2.9 2.5 -4.7 2.5 -5.8 2.5 -6.7 4.5 -13.9 9 -30.9 2.5 -7.5 2 -5.1 2.5 -5.2 2.5 -3.7 1.5 -1.4 1 -.6 1 -.4 1 -.1 1 .2 1 .5 1.5 1.3 1.5 1.9 2 3.5 2 4.5 2 5.4 4 13.3 3.5 13.9 4 18.0 12 60.4 4 19.1 4 16.9 2 7.2 2 6.4 2 5.7 2.5 6.2 6 13.0 16 32.8 4 7.4 3.5 5.5 2 2.6 2 2.3 2 1.7 1.5 1.0 2 .8 1.5 .2 1.5 -.2 2 -.6 2 -1.2 2 -1.5 8 -7.6 3.5 -2.9 3.5 -2.4 8.5 -5.2 4 -2.7 3.5 -2.7 7.5 -6.4 3.5 -2.7 4 -2.4 2 -.7 2 -.4 2.5 .2 2.5 .9 2.5 1.9 2 2.4 2 3.3 2 4.4 2 5.5 2 6.8"/>
<path stroke="#0000cc" d="M1627.4 1084.2l10 .2 21 1.3 9 .3 9.5 -.3 8.5 -1.1 7 -1.7 6.5 -2.4 6.5 -3.0 17 -8.6 5 -2.2 4.5 -1.6 4.5 -1.1 4.5 -.7 16.5 -.9 7 -.9 4 -1.0 3.5 -1.3 3.5 -1.7 3 -1.9 3 -2.3 3.5 -3.2 3.5 -3.6 4 -4.7 8 -10.7 11 -16.3 8.5 -13.7 7 -12.5 5 -9.9 8 -17.3 3.5 -7.0 3 -4.6 2.5 -2.6 2 -1.2 2.5 -.6 3 .2 3 .9 3 1.4 3 1.7 10.5 7.0 4 2.4 3.5 1.7 3.5 1.2 3 .3 2.5 -.5 2.5 -1.4 2 -1.9 2 -2.6 2 -3.6 2 -4.3 2.5 -6.4 4.5 -13.4 9.5 -31.3 2.5 -7.3 2 -5.1 2.5 -5.2 2.5 -3.7 1.5 -1.4 1 -.7 1 -.3 1 .0 1.5 .5 1.5 1.1 1.5 2.0 1.5 2.6 3 7.3 3.5 11.3 3 11.7 3 13.0 11.5 54.2 5.5 24.3 5.5 21.3 2.5 8.5 2.5 7.5 4.5 11.6 5.5 11.7 19 36.4 3.5 6.1 3.5 5.4 2 2.7 2 2.2 2 1.7 1.5 1.0 2 .8 1.5 .2 1.5 -.1 2 -.6 2 -1.1 2 -1.3 7 -5.6 4 -2.8 12.5 -7.3 4.5 -3.0 4.5 -3.5 8 -7.1 3 -2.2 3.5 -2.0 2 -.6 1.5 -.2 2.5 .3 2 .9 2.5 2.0 2 2.4 2 3.3 2 4.3 2 5.3 2 6.5"/>
<path stroke="#6e14e0" d="M1627.4 1080.1l8 .8 18.5 2.4 10 .8 5.5 .2 5.5 -.1 5 -.5 4.5 -.7 7.5 -1.9 7 -2.7 7 -3.5 17 -9.6 5 -2.4 4.5 -1.7 4.5 -1.3 4.5 -.8 16.5 -1.3 6.5 -1.0 3.5 -1.0 3 -1.1 3 -1.3 3 -1.8 2.5 -1.8 3 -2.5 6 -6.1 6.5 -8.0 7.5 -10.3 12 -17.9 9 -14.4 6.5 -11.5 9 -17.5 3 -5.2 2.5 -3.5 1.5 -1.7 1.5 -1.2 2.5 -1.4 1.5 -.5 1.5 -.2 3 .2 3 .9 3 1.4 3.5 2.0 10.5 7.2 4 2.6 3.5 1.8 3.5 1.3 2.5 .4 2.5 -.3 2.5 -1.1 2 -1.8 2 -2.5 2 -3.5 2 -4.4 2 -5.1 4 -11.8 9.5 -30.8 2.5 -7.3 2.5 -6.3 2.5 -5.2 2.5 -3.7 1.5 -1.4 1 -.6 1 -.3 1 .0 1.5 .5 1.5 1.3 1.5 2.0 1 1.8 2.5 6.0 3 9.6 2.5 9.7 2.5 10.8 10.5 50.7 5 22.2 3 12.0 3 11.0 3 9.8 3 8.8 2.5 6.6 3 7.2 3 6.6 3.5 7.0 21.5 39.1 3.5 5.8 3 4.4 2 2.5 2 2.1 2 1.6 1.5 .9 1.5 .5 2 .2 1.5 -.2 2 -.6 3.5 -2.0 9 -6.0 13 -7.1 5.5 -3.4 4.5 -3.4 8.5 -7.7 4 -3.0 3 -1.6 1.5 -.5 1.5 -.2 2.5 .3 2 .9 2.5 2.0 2 2.5 2 3.3 2 4.2 2 5.2 2 6.2"/>
</g>
<g clip-path="url(#cp)" fill="none" stroke-width="2.75" stroke-linejoin="round">
<path stroke="#dc0000" d="M1627.4 1486.9l14.5 -2.6 27 -5.9 11 -2.2 11.5 -1.8 10 -1.0 10 -.4 9 .4 8.5 1.0 11.5 2.4 4.5 .7 4.5 .4 4.5 -.2 4 -.9 4 -1.5 3.5 -2.0 4 -3.1 21.5 -20.0 8 -8.1 4.5 -5.2 4 -5.1 4 -5.7 3.5 -5.7 4 -7.2 3.5 -6.9 4 -8.7 3.5 -8.3 4 -10.3 4 -11.1 10 -30.3 2 -4.6 1.5 -2.4 1 -1.1 1.5 -1.0 1.5 -.4 2 .0 1.5 .4 2 1.0 7.5 5.2 3 1.6 1.5 .5 1.5 .1 1.5 -.1 2 -.5 2 -.9 2 -1.3 4.5 -3.9 5.5 -6.0 7 -8.3 2.5 -3.3 3 -5.1 1.5 -3.4 1.5 -4.1 3 -9.9 5.5 -20.6 2.5 -8.7 3.5 -10.9 3.5 -9.3 3.5 -8.0 2 -3.7 1.5 -2.4 1.5 -1.8 1.5 -1.4 1.5 -.8 1 -.2 1 .2 1 .4 1.5 1.2 1.5 2.1 1.5 2.9 1.5 3.7 1.5 4.7 3.5 13.9 3 14.7 3.5 19.6 11.5 71.9 4 23.4 4 20.5 4 17.2 4.5 16.0 2 6.0 2.5 6.8 2.5 5.9 2.5 5.2 2.5 4.5 2.5 3.9 3 4.1 3 3.4 3 2.8 2.5 1.7 3 1.4 2.5 .6 3 .1 2.5 -.6 2.5 -1.0 2.5 -1.6 9.5 -8.1 4 -2.8 3.5 -1.3 6 -1.2 2 -.5 2 -.8 1.5 -.9 3 -2.7 7.5 -8.7 4 -3.9 2.5 -1.9 2 -1.0 2 -.7 2 -.3 2 .1 1.5 .5 2 1.0 1.5 1.1 3 3.0 8 9.6 2.5 2.4 2 1.2"/>
<path stroke="#e87d23" d="M1627.4 1485.3l8 -1.1 8.5 -1.4 29 -5.9 10.5 -2.0 10 -1.5 9.5 -1.0 9.5 -.3 9 .3 8 1.0 15.5 2.8 4.5 .3 4 -.2 4 -.7 4 -1.4 4 -2.3 4 -3.0 4 -3.6 16.5 -15.5 9 -9.2 4.5 -5.3 4.5 -5.8 4 -5.7 3.5 -5.7 4 -7.1 3.5 -6.9 3.5 -7.5 3.5 -8.2 3.5 -8.8 4 -10.8 10 -29.7 2 -4.8 2 -3.3 1 -1.1 1.5 -1.0 1.5 -.4 2 .1 1.5 .4 2 .9 7.5 5.0 3 1.6 1.5 .4 1.5 .2 1.5 -.1 2 -.5 2 -.9 2 -1.3 2.5 -1.9 2.5 -2.3 6 -6.6 6 -6.9 2.5 -3.3 3 -5.1 1.5 -3.4 1.5 -4.0 3 -9.8 8 -28.8 3.5 -10.7 3.5 -9.2 3.5 -7.8 3 -5.0 1.5 -1.9 1.5 -1.4 1.5 -.8 1 -.1 1 .1 1 .4 1.5 1.2 2 2.8 1.5 3.0 1.5 4.0 1.5 4.7 3.5 14.1 3 14.8 3 16.6 11.5 70.7 4 23.2 4 20.4 4.5 19.2 4.5 15.6 4.5 12.5 2.5 5.8 2.5 5.1 2.5 4.4 2.5 3.9 3 4.1 2.5 2.9 3 2.8 2.5 1.8 3 1.6 2.5 .7 3 .2 2.5 -.5 2.5 -1.0 2.5 -1.5 3 -2.4 7 -6.1 4 -2.7 3.5 -1.3 8 -1.6 2 -.8 1.5 -.9 1.5 -1.2 2 -1.9 7 -8.0 4 -3.9 2.5 -1.8 2 -1.0 2 -.7 2 -.3 2 .2 1.5 .4 2 1.0 1.5 1.1 3 3.0 8.5 10.1 2 1.9 2 1.3"/>
<path stroke="#ecca38" d="M1627.4 1481.8l9 -.7 10 -1.2 10.5 -1.7 31 -5.7 10 -1.4 8.5 -.8 8.5 -.3 8 .2 7 .7 15 2.3 4.5 .2 4 -.2 4 -.7 4 -1.5 4 -2.1 4 -3.0 5 -4.4 12 -11.5 6 -6.0 5.5 -5.8 5 -5.8 4.5 -5.8 4.5 -6.3 4 -6.2 3.5 -6.0 3.5 -6.6 3.5 -7.2 3.5 -7.8 3.5 -8.5 3.5 -9.1 10.5 -29.5 2 -4.5 2 -3.1 1 -.9 1.5 -.9 1.5 -.4 2 .1 1.5 .4 2 .8 7.5 4.6 3 1.4 1.5 .4 1.5 .2 1.5 -.1 2 -.5 2 -.9 2 -1.1 2.5 -1.9 2.5 -2.2 7 -7.2 5 -5.6 2.5 -3.2 2 -3.1 1.5 -2.9 3 -7.6 2.5 -8.0 8 -27.9 3.5 -10.4 3 -7.6 3 -6.5 3 -5.1 1.5 -1.9 1.5 -1.3 1.5 -.7 1 -.2 1 .1 1 .4 1.5 1.2 2 2.7 1.5 2.9 1.5 3.7 1.5 4.6 3.5 13.4 3 14.3 3 16.0 11.5 68.2 4.5 25.1 4 19.7 4.5 18.6 4.5 15.2 4.5 12.2 2.5 5.7 2.5 5.0 2.5 4.4 3 4.7 3 3.9 3 3.4 3 2.7 2.5 1.8 3 1.4 2.5 .6 2.5 .1 2.5 -.5 2.5 -1.0 2.5 -1.6 9.5 -8.2 4 -2.8 2 -.9 2 -.6 8 -1.6 2 -.7 1.5 -.8 1.5 -1.1 2 -1.8 7 -7.6 4 -3.7 2.5 -1.7 2 -1.1 2 -.6 2 -.2 2 .2 1.5 .4 2 1.0 1.5 1.1 3.5 3.5 8 9.5 2 1.9 2 1.5"/>
<path stroke="#1aaa50" d="M1627.4 1473.0l6.5 .8 6.5 .3 7 .0 8 -.6 14 -1.8 32 -5.4 8 -1.0 7.5 -.6 10.5 -.2 17.5 1.3 4 .1 3.5 -.2 4.5 -.8 4 -1.3 4 -1.9 4 -2.7 5 -4.1 6 -5.7 6.5 -6.7 7 -7.7 6.5 -7.6 7 -8.7 6 -7.9 4.5 -6.6 6.5 -10.7 6 -11.5 5.5 -12.4 11 -27.2 2.5 -5.0 2 -2.8 1 -.9 1.5 -.9 1.5 -.4 2 .0 1.5 .3 2 .7 7.5 3.6 3 1.1 2 .4 1.5 .1 3.5 -.5 2 -.8 2.5 -1.3 2.5 -1.6 3 -2.2 7 -6.4 3.5 -3.6 2.5 -2.9 2 -2.8 1.5 -2.6 2 -4.1 1.5 -3.7 2.5 -7.3 8 -25.7 3 -8.3 2.5 -6.0 3 -6.0 2.5 -3.7 1.5 -1.6 1 -.8 1 -.5 1 -.2 1 .1 1 .4 1.5 1.2 2 2.6 1.5 2.8 1.5 3.4 1.5 4.2 1.5 4.8 2 7.5 3 13.2 3 15.0 11 60.6 5 25.8 5 22.7 4.5 17.1 4.5 14.1 2.5 6.7 2.5 6.0 2.5 5.3 2.5 4.8 3 5.0 3 4.3 3 3.9 3 3.4 3 2.8 2.5 1.8 2.5 1.4 2.5 .9 2.5 .3 2.5 -.3 2.5 -1.0 2.5 -1.5 2.5 -2.1 7 -6.3 4 -2.8 2 -1.0 2 -.7 8.5 -1.5 2 -.6 2 -.8 3.5 -2.5 7.5 -7.0 4 -3.2 2 -1.2 2 -.9 2 -.5 1.5 -.2 2 .2 2 .5 2 1.1 2 1.5 3.5 3.5 8 9.3 3.5 3.3"/>
<path stroke="#1eb9e8" d="M1627.4 1459.0l4.5 2.0 4.5 1.5 4.5 1.3 5 .9 5 .7 5 .3 5 .0 5.5 -.3 7 -.8 8 -1.2 28.5 -5.9 11.5 -1.9 9 -1.0 16.5 -.5 7 -.8 4 -.9 3.5 -1.1 3.5 -1.6 3 -1.7 4 -2.8 4 -3.4 4 -3.9 4 -4.4 6.5 -7.8 15.5 -19.9 11 -13.2 5 -6.3 4.5 -6.4 4 -6.5 4 -7.5 6.5 -13.5 3 -5.8 3 -4.9 2.5 -2.9 1.5 -1.2 1.5 -.8 1.5 -.4 2 -.1 3 .4 7.5 2.2 4 .9 4 .1 4 -.6 2.5 -.8 3 -1.2 3 -1.5 3.5 -2.0 5.5 -4.0 4.5 -4.4 2 -2.4 2 -3.0 2 -3.6 1.5 -3.1 3 -7.5 8 -22.0 2.5 -5.9 2 -4.2 2 -3.4 2 -2.6 2 -1.6 1 -.4 1 .0 1.5 .5 1.5 1.4 1.5 2.1 1.5 2.9 3 7.9 3 10.4 2.5 10.4 3 14.1 10.5 54.7 4 19.4 5 21.0 5 17.6 2.5 7.6 3 8.3 2.5 6.1 3 6.7 3 5.9 3 5.2 3.5 5.4 3.5 4.8 3.5 4.3 3.5 3.9 3 3.0 2.5 2.0 2.5 1.6 2.5 1.1 2.5 .5 2.5 -.1 2.5 -.8 2.5 -1.6 2.5 -2.1 7 -6.7 2.5 -1.9 2.5 -1.5 2 -.8 2.5 -.7 8.5 -1.2 4 -1.1 4 -2.1 7.5 -5.3 4 -2.4 3.5 -1.4 2 -.3 1.5 .0 2 .4 2 .8 2 1.1 2.5 1.9 4.5 4.6 9.5 11.1"/>
<path stroke="#0000cc" d="M1627.4 1449.1l4.5 2.9 5 2.6 5 2.1 5 1.6 5.5 1.3 5.5 .7 5.5 .2 6 -.1 8.5 -1.0 9 -1.6 8.5 -2.0 21 -5.5 10.5 -2.3 8 -1.2 14.5 -1.4 5.5 -1.0 3.5 -.8 3.5 -1.2 3 -1.2 3 -1.6 3.5 -2.2 3.5 -2.7 3 -2.8 3.5 -3.7 6 -7.4 13 -17.9 5.5 -7.1 4.5 -5.2 10.5 -10.8 5 -5.7 3.5 -4.5 3 -4.5 10 -17.5 2.5 -3.4 2.5 -2.4 1.5 -1.1 1.5 -.7 1.5 -.5 2 -.3 3 .1 8 1.4 4.5 .4 5 -.1 5.5 -.9 6 -1.8 6 -2.5 4 -2.4 4 -3.4 2.5 -2.8 2 -2.7 2 -3.2 2 -3.7 3 -6.7 7.5 -18.2 2 -4.4 2 -3.8 2 -3.0 1.5 -1.6 1 -.8 1 -.5 1.5 -.1 1.5 .6 1.5 1.5 1 1.6 1.5 3.0 2.5 6.9 3 10.9 2.5 10.8 2.5 12.0 9.5 50.2 4 20.0 4 17.3 4 14.1 2.5 7.4 2.5 6.6 3 7.1 3.5 7.4 3.5 6.5 3.5 5.8 3.5 5.2 4 5.3 7.5 8.7 6.5 6.6 2.5 2.0 2.5 1.7 2.5 1.1 2 .5 2 .0 1.5 -.2 1.5 -.6 1.5 -.8 3 -2.5 7.5 -7.5 2.5 -2.0 2.5 -1.4 2.5 -.9 2.5 -.7 10 -1.1 4 -1.0 3.5 -1.5 10 -5.4 3 -1.1 2.5 -.5 2.5 .2 2.5 .7 2.5 1.3 3 2.2 3 2.7 3 3.2 8 10.0"/>
<path stroke="#6e14e0" d="M1627.4 1447.1l5 3.4 5 2.8 5 2.2 5 1.7 5.5 1.3 5.5 .8 5.5 .3 6 -.2 8.5 -.9 9.5 -1.8 9 -2.3 20.5 -5.5 10.5 -2.4 6.5 -1.1 14 -1.6 6.5 -1.1 6.5 -1.8 3 -1.2 3 -1.5 3.5 -2.1 3.5 -2.6 3.5 -3.2 3 -3.2 6 -7.4 13.5 -18.8 6 -7.7 5 -5.6 11 -10.9 4.5 -5.0 3 -3.9 3 -4.4 9 -15.4 2.5 -3.4 2 -1.9 1.5 -1.1 2 -1.0 1.5 -.5 2 -.3 3 .1 8 1.2 4.5 .3 5.5 -.2 6 -1.0 6 -1.6 5.5 -2.1 4 -2.3 4 -3.4 2.5 -2.7 2 -2.7 2 -3.1 2 -3.7 3 -6.4 7.5 -17.8 2 -4.2 2 -3.7 2 -2.9 1.5 -1.5 1.5 -1.0 1.5 -.2 1.5 .5 1 .9 1 1.2 1.5 2.7 2.5 6.4 3 10.5 2.5 10.6 3 14.4 9.5 50.7 4 20.0 3.5 15.4 4 14.3 2.5 7.4 2.5 6.5 3 6.9 3.5 7.1 3.5 6.3 3.5 5.7 3.5 5.1 4 5.2 8 9.2 4 4.2 3 2.8 2.5 2.1 2.5 1.6 2.5 1.2 2 .5 2 .0 1.5 -.3 1.5 -.5 1.5 -.9 3 -2.5 7.5 -7.6 2.5 -1.9 2.5 -1.4 2.5 -1.0 2.5 -.6 10 -1.0 4 -.9 4 -1.6 9.5 -5.0 3 -1.0 2.5 -.4 2.5 .1 2.5 .8 2.5 1.2 3 2.2 3 2.7 3 3.2 3.5 4.2 4.5 5.9"/>
</g>
<rect x="43.8" y="20.2" width="471.9" height="380.8" fill="none" stroke="#000" stroke-width="1.7"/>
<line x1="43.8" y1="401.0" x2="43.8" y2="408.7" stroke="#000" stroke-width="1.5"/>
<line x1="102.8" y1="401.0" x2="102.8" y2="408.7" stroke="#000" stroke-width="1.5"/>
<line x1="161.8" y1="401.0" x2="161.8" y2="405.0" stroke="#000" stroke-width="1.5"/>
<line x1="220.8" y1="401.0" x2="220.8" y2="408.7" stroke="#000" stroke-width="1.5"/>
<line x1="279.8" y1="401.0" x2="279.8" y2="405.0" stroke="#000" stroke-width="1.5"/>
<line x1="338.7" y1="401.0" x2="338.7" y2="408.7" stroke="#000" stroke-width="1.5"/>
<line x1="397.7" y1="401.0" x2="397.7" y2="405.0" stroke="#000" stroke-width="1.5"/>
<line x1="456.7" y1="401.0" x2="456.7" y2="408.7" stroke="#000" stroke-width="1.5"/>
<line x1="515.7" y1="401.0" x2="515.7" y2="408.7" stroke="#000" stroke-width="1.5"/>
<rect x="43.8" y="401.0" width="471.9" height="382.0" fill="none" stroke="#000" stroke-width="1.7"/>
<line x1="43.8" y1="783.0" x2="43.8" y2="790.7" stroke="#000" stroke-width="1.5"/>
<line x1="102.8" y1="783.0" x2="102.8" y2="790.7" stroke="#000" stroke-width="1.5"/>
<line x1="161.8" y1="783.0" x2="161.8" y2="787.0" stroke="#000" stroke-width="1.5"/>
<line x1="220.8" y1="783.0" x2="220.8" y2="790.7" stroke="#000" stroke-width="1.5"/>
<line x1="279.8" y1="783.0" x2="279.8" y2="787.0" stroke="#000" stroke-width="1.5"/>
<line x1="338.7" y1="783.0" x2="338.7" y2="790.7" stroke="#000" stroke-width="1.5"/>
<line x1="397.7" y1="783.0" x2="397.7" y2="787.0" stroke="#000" stroke-width="1.5"/>
<line x1="456.7" y1="783.0" x2="456.7" y2="790.7" stroke="#000" stroke-width="1.5"/>
<line x1="515.7" y1="783.0" x2="515.7" y2="790.7" stroke="#000" stroke-width="1.5"/>
<rect x="43.8" y="783.0" width="471.9" height="382.3" fill="none" stroke="#000" stroke-width="1.7"/>
<line x1="43.8" y1="1165.3" x2="43.8" y2="1173.0" stroke="#000" stroke-width="1.5"/>
<line x1="102.8" y1="1165.3" x2="102.8" y2="1173.0" stroke="#000" stroke-width="1.5"/>
<line x1="161.8" y1="1165.3" x2="161.8" y2="1169.3" stroke="#000" stroke-width="1.5"/>
<line x1="220.8" y1="1165.3" x2="220.8" y2="1173.0" stroke="#000" stroke-width="1.5"/>
<line x1="279.8" y1="1165.3" x2="279.8" y2="1169.3" stroke="#000" stroke-width="1.5"/>
<line x1="338.7" y1="1165.3" x2="338.7" y2="1173.0" stroke="#000" stroke-width="1.5"/>
<line x1="397.7" y1="1165.3" x2="397.7" y2="1169.3" stroke="#000" stroke-width="1.5"/>
<line x1="456.7" y1="1165.3" x2="456.7" y2="1173.0" stroke="#000" stroke-width="1.5"/>
<line x1="515.7" y1="1165.3" x2="515.7" y2="1173.0" stroke="#000" stroke-width="1.5"/>
<rect x="43.8" y="1165.3" width="471.9" height="381.1" fill="none" stroke="#000" stroke-width="1.7"/>
<line x1="43.8" y1="1546.4" x2="43.8" y2="1554.1" stroke="#000" stroke-width="1.5"/>
<line x1="102.8" y1="1546.4" x2="102.8" y2="1554.1" stroke="#000" stroke-width="1.5"/>
<line x1="161.8" y1="1546.4" x2="161.8" y2="1550.4" stroke="#000" stroke-width="1.5"/>
<line x1="220.8" y1="1546.4" x2="220.8" y2="1554.1" stroke="#000" stroke-width="1.5"/>
<line x1="279.8" y1="1546.4" x2="279.8" y2="1550.4" stroke="#000" stroke-width="1.5"/>
<line x1="338.7" y1="1546.4" x2="338.7" y2="1554.1" stroke="#000" stroke-width="1.5"/>
<line x1="397.7" y1="1546.4" x2="397.7" y2="1550.4" stroke="#000" stroke-width="1.5"/>
<line x1="456.7" y1="1546.4" x2="456.7" y2="1554.1" stroke="#000" stroke-width="1.5"/>
<line x1="515.7" y1="1546.4" x2="515.7" y2="1554.1" stroke="#000" stroke-width="1.5"/>
<rect x="570.8" y="20.2" width="472.2" height="380.8" fill="none" stroke="#000" stroke-width="1.7"/>
<line x1="638.3" y1="401.0" x2="638.3" y2="408.7" stroke="#000" stroke-width="1.5"/>
<line x1="722.6" y1="401.0" x2="722.6" y2="405.0" stroke="#000" stroke-width="1.5"/>
<line x1="806.9" y1="401.0" x2="806.9" y2="408.7" stroke="#000" stroke-width="1.5"/>
<line x1="891.2" y1="401.0" x2="891.2" y2="405.0" stroke="#000" stroke-width="1.5"/>
<line x1="975.5" y1="401.0" x2="975.5" y2="408.7" stroke="#000" stroke-width="1.5"/>
<rect x="570.8" y="401.0" width="472.2" height="382.0" fill="none" stroke="#000" stroke-width="1.7"/>
<line x1="638.3" y1="783.0" x2="638.3" y2="790.7" stroke="#000" stroke-width="1.5"/>
<line x1="722.6" y1="783.0" x2="722.6" y2="787.0" stroke="#000" stroke-width="1.5"/>
<line x1="806.9" y1="783.0" x2="806.9" y2="790.7" stroke="#000" stroke-width="1.5"/>
<line x1="891.2" y1="783.0" x2="891.2" y2="787.0" stroke="#000" stroke-width="1.5"/>
<line x1="975.5" y1="783.0" x2="975.5" y2="790.7" stroke="#000" stroke-width="1.5"/>
<rect x="570.8" y="783.0" width="472.2" height="382.3" fill="none" stroke="#000" stroke-width="1.7"/>
<line x1="570.8" y1="1165.3" x2="570.8" y2="1173.0" stroke="#000" stroke-width="1.5"/>
<line x1="688.8" y1="1165.3" x2="688.8" y2="1169.3" stroke="#000" stroke-width="1.5"/>
<line x1="806.9" y1="1165.3" x2="806.9" y2="1173.0" stroke="#000" stroke-width="1.5"/>
<line x1="925.0" y1="1165.3" x2="925.0" y2="1169.3" stroke="#000" stroke-width="1.5"/>
<line x1="1043.0" y1="1165.3" x2="1043.0" y2="1173.0" stroke="#000" stroke-width="1.5"/>
<rect x="570.8" y="1165.3" width="472.2" height="381.1" fill="none" stroke="#000" stroke-width="1.7"/>
<line x1="570.8" y1="1546.4" x2="570.8" y2="1554.1" stroke="#000" stroke-width="1.5"/>
<line x1="688.8" y1="1546.4" x2="688.8" y2="1550.4" stroke="#000" stroke-width="1.5"/>
<line x1="806.9" y1="1546.4" x2="806.9" y2="1554.1" stroke="#000" stroke-width="1.5"/>
<line x1="925.0" y1="1546.4" x2="925.0" y2="1550.4" stroke="#000" stroke-width="1.5"/>
<line x1="1043.0" y1="1546.4" x2="1043.0" y2="1554.1" stroke="#000" stroke-width="1.5"/>
<rect x="1098.4" y="20.2" width="471.9" height="380.8" fill="none" stroke="#000" stroke-width="1.7"/>
<line x1="1098.4" y1="401.0" x2="1098.4" y2="408.7" stroke="#000" stroke-width="1.5"/>
<line x1="1157.4" y1="401.0" x2="1157.4" y2="408.7" stroke="#000" stroke-width="1.5"/>
<line x1="1216.4" y1="401.0" x2="1216.4" y2="405.0" stroke="#000" stroke-width="1.5"/>
<line x1="1275.4" y1="401.0" x2="1275.4" y2="408.7" stroke="#000" stroke-width="1.5"/>
<line x1="1334.3" y1="401.0" x2="1334.3" y2="405.0" stroke="#000" stroke-width="1.5"/>
<line x1="1393.3" y1="401.0" x2="1393.3" y2="408.7" stroke="#000" stroke-width="1.5"/>
<line x1="1452.3" y1="401.0" x2="1452.3" y2="405.0" stroke="#000" stroke-width="1.5"/>
<line x1="1511.3" y1="401.0" x2="1511.3" y2="408.7" stroke="#000" stroke-width="1.5"/>
<line x1="1570.3" y1="401.0" x2="1570.3" y2="408.7" stroke="#000" stroke-width="1.5"/>
<rect x="1098.4" y="401.0" width="471.9" height="382.0" fill="none" stroke="#000" stroke-width="1.7"/>
<line x1="1098.4" y1="783.0" x2="1098.4" y2="790.7" stroke="#000" stroke-width="1.5"/>
<line x1="1157.4" y1="783.0" x2="1157.4" y2="790.7" stroke="#000" stroke-width="1.5"/>
<line x1="1216.4" y1="783.0" x2="1216.4" y2="787.0" stroke="#000" stroke-width="1.5"/>
<line x1="1275.4" y1="783.0" x2="1275.4" y2="790.7" stroke="#000" stroke-width="1.5"/>
<line x1="1334.3" y1="783.0" x2="1334.3" y2="787.0" stroke="#000" stroke-width="1.5"/>
<line x1="1393.3" y1="783.0" x2="1393.3" y2="790.7" stroke="#000" stroke-width="1.5"/>
<line x1="1452.3" y1="783.0" x2="1452.3" y2="787.0" stroke="#000" stroke-width="1.5"/>
<line x1="1511.3" y1="783.0" x2="1511.3" y2="790.7" stroke="#000" stroke-width="1.5"/>
<line x1="1570.3" y1="783.0" x2="1570.3" y2="790.7" stroke="#000" stroke-width="1.5"/>
<rect x="1098.4" y="783.0" width="471.9" height="382.3" fill="none" stroke="#000" stroke-width="1.7"/>
<line x1="1098.4" y1="1165.3" x2="1098.4" y2="1173.0" stroke="#000" stroke-width="1.5"/>
<line x1="1157.4" y1="1165.3" x2="1157.4" y2="1173.0" stroke="#000" stroke-width="1.5"/>
<line x1="1216.4" y1="1165.3" x2="1216.4" y2="1169.3" stroke="#000" stroke-width="1.5"/>
<line x1="1275.4" y1="1165.3" x2="1275.4" y2="1173.0" stroke="#000" stroke-width="1.5"/>
<line x1="1334.3" y1="1165.3" x2="1334.3" y2="1169.3" stroke="#000" stroke-width="1.5"/>
<line x1="1393.3" y1="1165.3" x2="1393.3" y2="1173.0" stroke="#000" stroke-width="1.5"/>
<line x1="1452.3" y1="1165.3" x2="1452.3" y2="1169.3" stroke="#000" stroke-width="1.5"/>
<line x1="1511.3" y1="1165.3" x2="1511.3" y2="1173.0" stroke="#000" stroke-width="1.5"/>
<line x1="1570.3" y1="1165.3" x2="1570.3" y2="1173.0" stroke="#000" stroke-width="1.5"/>
<rect x="1098.4" y="1165.3" width="471.9" height="381.1" fill="none" stroke="#000" stroke-width="1.7"/>
<line x1="1098.4" y1="1546.4" x2="1098.4" y2="1554.1" stroke="#000" stroke-width="1.5"/>
<line x1="1157.4" y1="1546.4" x2="1157.4" y2="1554.1" stroke="#000" stroke-width="1.5"/>
<line x1="1216.4" y1="1546.4" x2="1216.4" y2="1550.4" stroke="#000" stroke-width="1.5"/>
<line x1="1275.4" y1="1546.4" x2="1275.4" y2="1554.1" stroke="#000" stroke-width="1.5"/>
<line x1="1334.3" y1="1546.4" x2="1334.3" y2="1550.4" stroke="#000" stroke-width="1.5"/>
<line x1="1393.3" y1="1546.4" x2="1393.3" y2="1554.1" stroke="#000" stroke-width="1.5"/>
<line x1="1452.3" y1="1546.4" x2="1452.3" y2="1550.4" stroke="#000" stroke-width="1.5"/>
<line x1="1511.3" y1="1546.4" x2="1511.3" y2="1554.1" stroke="#000" stroke-width="1.5"/>
<line x1="1570.3" y1="1546.4" x2="1570.3" y2="1554.1" stroke="#000" stroke-width="1.5"/>
<rect x="1628.4" y="20.2" width="472.0" height="380.8" fill="none" stroke="#000" stroke-width="1.7"/>
<line x1="1695.8" y1="401.0" x2="1695.8" y2="408.7" stroke="#000" stroke-width="1.5"/>
<line x1="1780.1" y1="401.0" x2="1780.1" y2="405.0" stroke="#000" stroke-width="1.5"/>
<line x1="1864.4" y1="401.0" x2="1864.4" y2="408.7" stroke="#000" stroke-width="1.5"/>
<line x1="1948.7" y1="401.0" x2="1948.7" y2="405.0" stroke="#000" stroke-width="1.5"/>
<line x1="2033.0" y1="401.0" x2="2033.0" y2="408.7" stroke="#000" stroke-width="1.5"/>
<rect x="1628.4" y="401.0" width="472.0" height="382.0" fill="none" stroke="#000" stroke-width="1.7"/>
<line x1="1695.8" y1="783.0" x2="1695.8" y2="790.7" stroke="#000" stroke-width="1.5"/>
<line x1="1780.1" y1="783.0" x2="1780.1" y2="787.0" stroke="#000" stroke-width="1.5"/>
<line x1="1864.4" y1="783.0" x2="1864.4" y2="790.7" stroke="#000" stroke-width="1.5"/>
<line x1="1948.7" y1="783.0" x2="1948.7" y2="787.0" stroke="#000" stroke-width="1.5"/>
<line x1="2033.0" y1="783.0" x2="2033.0" y2="790.7" stroke="#000" stroke-width="1.5"/>
<rect x="1628.4" y="783.0" width="472.0" height="382.3" fill="none" stroke="#000" stroke-width="1.7"/>
<line x1="1628.4" y1="1165.3" x2="1628.4" y2="1173.0" stroke="#000" stroke-width="1.5"/>
<line x1="1746.4" y1="1165.3" x2="1746.4" y2="1169.3" stroke="#000" stroke-width="1.5"/>
<line x1="1864.4" y1="1165.3" x2="1864.4" y2="1173.0" stroke="#000" stroke-width="1.5"/>
<line x1="1982.4" y1="1165.3" x2="1982.4" y2="1169.3" stroke="#000" stroke-width="1.5"/>
<line x1="2100.4" y1="1165.3" x2="2100.4" y2="1173.0" stroke="#000" stroke-width="1.5"/>
<rect x="1628.4" y="1165.3" width="472.0" height="381.1" fill="none" stroke="#000" stroke-width="1.7"/>
<line x1="1628.4" y1="1546.4" x2="1628.4" y2="1554.1" stroke="#000" stroke-width="1.5"/>
<line x1="1746.4" y1="1546.4" x2="1746.4" y2="1550.4" stroke="#000" stroke-width="1.5"/>
<line x1="1864.4" y1="1546.4" x2="1864.4" y2="1554.1" stroke="#000" stroke-width="1.5"/>
<line x1="1982.4" y1="1546.4" x2="1982.4" y2="1550.4" stroke="#000" stroke-width="1.5"/>
<line x1="2100.4" y1="1546.4" x2="2100.4" y2="1554.1" stroke="#000" stroke-width="1.5"/>
<line x1="262.6" y1="116.8" x2="302.5" y2="271.4" stroke="#767676" stroke-width="3.0"/>
<polygon points="305.3,282.0 292.4,267.3 302.5,271.4 309.4,262.9" fill="#767676"/>
<line x1="299.6" y1="418.9" x2="299.6" y2="473.1" stroke="#767676" stroke-width="3.0"/>
<polygon points="299.6,484.1 290.8,466.6 299.6,473.1 308.4,466.6" fill="#767676"/>
<line x1="299.6" y1="485.3" x2="320.0" y2="655.6" stroke="#767676" stroke-width="3.0"/>
<polygon points="321.3,666.5 310.5,650.2 320.0,655.6 328.0,648.1" fill="#767676"/>
<line x1="293.6" y1="822.7" x2="293.6" y2="867.2" stroke="#767676" stroke-width="3.0"/>
<polygon points="293.6,878.2 284.8,860.7 293.6,867.2 302.4,860.7" fill="#767676"/>
<line x1="293.6" y1="878.2" x2="335.7" y2="1059.5" stroke="#767676" stroke-width="3.0"/>
<polygon points="338.2,1070.2 325.7,1055.1 335.7,1059.5 342.8,1051.2" fill="#767676"/>
<line x1="292.4" y1="1181.7" x2="299.6" y2="1250.5" stroke="#767676" stroke-width="3.0"/>
<polygon points="300.8,1261.4 290.2,1244.9 299.6,1250.5 307.7,1243.1" fill="#767676"/>
<line x1="302.0" y1="1261.4" x2="271.1" y2="1453.4" stroke="#767676" stroke-width="3.0"/>
<polygon points="269.4,1464.3 263.5,1445.6 271.1,1453.4 280.9,1448.4" fill="#767676"/>
<line x1="792.8" y1="89.9" x2="756.7" y2="244.6" stroke="#767676" stroke-width="3.0"/>
<polygon points="754.2,255.3 749.6,236.3 756.7,244.6 766.7,240.3" fill="#767676"/>
<line x1="796.0" y1="464.8" x2="796.0" y2="516.6" stroke="#767676" stroke-width="3.0"/>
<polygon points="796.0,527.6 787.2,510.1 796.0,516.6 804.8,510.1" fill="#767676"/>
<line x1="792.8" y1="538.5" x2="763.7" y2="673.8" stroke="#767676" stroke-width="3.0"/>
<polygon points="761.4,684.6 756.5,665.6 763.7,673.8 773.7,669.3" fill="#767676"/>
<line x1="809.2" y1="874.6" x2="809.2" y2="928.8" stroke="#767676" stroke-width="3.0"/>
<polygon points="809.2,939.8 800.4,922.3 809.2,928.8 818.0,922.3" fill="#767676"/>
<line x1="806.0" y1="947.0" x2="776.9" y2="1086.0" stroke="#767676" stroke-width="3.0"/>
<polygon points="774.7,1096.8 769.7,1077.9 776.9,1086.0 786.9,1081.5" fill="#767676"/>
<line x1="807.3" y1="1269.9" x2="807.3" y2="1322.9" stroke="#767676" stroke-width="3.0"/>
<polygon points="807.3,1333.9 798.5,1316.4 807.3,1322.9 816.1,1316.4" fill="#767676"/>
<line x1="806.0" y1="1338.7" x2="774.7" y2="1481.3" stroke="#767676" stroke-width="3.0"/>
<polygon points="772.3,1492.0 767.5,1473.0 774.7,1481.3 784.7,1476.8" fill="#767676"/>
<line x1="1385.0" y1="244.4" x2="1368.0" y2="81.4" stroke="#767676" stroke-width="3.0"/>
<polygon points="1366.9,70.5 1377.5,87.0 1368.0,81.4 1360.0,88.8" fill="#767676"/>
<line x1="1378.5" y1="688.2" x2="1353.5" y2="515.6" stroke="#767676" stroke-width="3.0"/>
<polygon points="1351.9,504.7 1363.1,520.8 1353.5,515.6 1345.7,523.3" fill="#767676"/>
<line x1="1356.0" y1="499.8" x2="1378.4" y2="446.0" stroke="#767676" stroke-width="3.0"/>
<polygon points="1382.6,435.8 1384.0,455.3 1378.4,446.0 1367.8,448.6" fill="#767676"/>
<line x1="1383.8" y1="1066.6" x2="1353.8" y2="896.3" stroke="#767676" stroke-width="3.0"/>
<polygon points="1351.9,885.5 1363.6,901.2 1353.8,896.3 1346.3,904.3" fill="#767676"/>
<line x1="1356.0" y1="884.3" x2="1375.7" y2="840.0" stroke="#767676" stroke-width="3.0"/>
<polygon points="1380.2,829.9 1381.1,849.5 1375.7,840.0 1365.0,842.3" fill="#767676"/>
<line x1="1302.9" y1="1493.3" x2="1349.5" y2="1284.2" stroke="#767676" stroke-width="3.0"/>
<polygon points="1351.9,1273.5 1356.7,1292.5 1349.5,1284.2 1339.5,1288.7" fill="#767676"/>
<line x1="1351.2" y1="1261.4" x2="1346.6" y2="1184.3" stroke="#767676" stroke-width="3.0"/>
<polygon points="1345.9,1173.3 1355.7,1190.2 1346.6,1184.3 1338.2,1191.3" fill="#767676"/>
<line x1="1824.4" y1="248.0" x2="1853.7" y2="95.8" stroke="#767676" stroke-width="3.0"/>
<polygon points="1855.8,85.0 1861.1,103.8 1853.7,95.8 1843.8,100.5" fill="#767676"/>
<line x1="1818.4" y1="683.4" x2="1849.8" y2="540.7" stroke="#767676" stroke-width="3.0"/>
<polygon points="1852.2,530.0 1857.0,549.0 1849.8,540.7 1839.8,545.2" fill="#767676"/>
<line x1="1852.2" y1="524.0" x2="1852.2" y2="474.6" stroke="#767676" stroke-width="3.0"/>
<polygon points="1852.2,463.6 1861.0,481.1 1852.2,474.6 1843.4,481.1" fill="#767676"/>
<line x1="1831.7" y1="1094.4" x2="1862.0" y2="953.0" stroke="#767676" stroke-width="3.0"/>
<polygon points="1864.3,942.2 1869.2,961.2 1862.0,953.0 1852.0,957.5" fill="#767676"/>
<line x1="1865.5" y1="937.4" x2="1865.5" y2="886.8" stroke="#767676" stroke-width="3.0"/>
<polygon points="1865.5,875.8 1874.3,893.3 1865.5,886.8 1856.7,893.3" fill="#767676"/>
<line x1="1819.6" y1="1490.8" x2="1849.9" y2="1351.8" stroke="#767676" stroke-width="3.0"/>
<polygon points="1852.2,1341.1 1857.1,1360.1 1849.9,1351.8 1839.9,1356.3" fill="#767676"/>
<line x1="1854.6" y1="1324.2" x2="1854.6" y2="1279.7" stroke="#767676" stroke-width="3.0"/>
<polygon points="1854.6,1268.7 1863.4,1286.2 1854.6,1279.7 1845.8,1286.2" fill="#767676"/>
<text x="409.6" y="182.7" font-size="37.8" font-style="italic" font-family="Liberation Sans, sans-serif">T</text>
<text transform="translate(441.6,182.7) scale(0.86,1)" x="0" y="0" font-size="37.5" font-family="Liberation Serif, serif">(°C)</text>
<line x1="396.9" y1="202.8" x2="448.4" y2="202.8" stroke="#dc0000" stroke-width="2.8"/>
<line x1="396.9" y1="231.2" x2="448.4" y2="231.2" stroke="#e87d23" stroke-width="2.8"/>
<line x1="396.9" y1="259.7" x2="448.4" y2="259.7" stroke="#ecca38" stroke-width="2.8"/>
<line x1="396.9" y1="288.1" x2="448.4" y2="288.1" stroke="#1aaa50" stroke-width="2.8"/>
<line x1="396.9" y1="316.5" x2="448.4" y2="316.5" stroke="#1eb9e8" stroke-width="2.8"/>
<line x1="396.9" y1="345.0" x2="448.4" y2="345.0" stroke="#0000cc" stroke-width="2.8"/>
<line x1="396.9" y1="373.4" x2="448.4" y2="373.4" stroke="#6e14e0" stroke-width="2.8"/>
<text x="408.5" y="569.9" font-size="37.8" font-style="italic" font-family="Liberation Sans, sans-serif">T</text>
<text transform="translate(440.4,569.9) scale(0.86,1)" x="0" y="0" font-size="37.5" font-family="Liberation Serif, serif">(°C)</text>
<line x1="393.0" y1="588.5" x2="443.8" y2="588.5" stroke="#dc0000" stroke-width="2.8"/>
<line x1="393.0" y1="617.0" x2="443.8" y2="617.0" stroke="#e87d23" stroke-width="2.8"/>
<line x1="393.0" y1="645.6" x2="443.8" y2="645.6" stroke="#ecca38" stroke-width="2.8"/>
<line x1="393.0" y1="674.1" x2="443.8" y2="674.1" stroke="#1aaa50" stroke-width="2.8"/>
<line x1="393.0" y1="702.6" x2="443.8" y2="702.6" stroke="#1eb9e8" stroke-width="2.8"/>
<line x1="393.0" y1="731.1" x2="443.8" y2="731.1" stroke="#0000cc" stroke-width="2.8"/>
<line x1="393.0" y1="759.7" x2="443.8" y2="759.7" stroke="#6e14e0" stroke-width="2.8"/>
<text x="438.0" y="955.1" font-size="32.9" font-style="italic" font-family="Liberation Sans, sans-serif">T</text>
<text transform="translate(465.8,955.1) scale(0.86,1)" x="0" y="0" font-size="32.6" font-family="Liberation Serif, serif">(°C)</text>
<line x1="402.2" y1="972.6" x2="453.0" y2="972.6" stroke="#dc0000" stroke-width="2.8"/>
<line x1="402.2" y1="1001.2" x2="453.0" y2="1001.2" stroke="#e87d23" stroke-width="2.8"/>
<line x1="402.2" y1="1029.8" x2="453.0" y2="1029.8" stroke="#ecca38" stroke-width="2.8"/>
<line x1="402.2" y1="1058.3" x2="453.0" y2="1058.3" stroke="#1aaa50" stroke-width="2.8"/>
<line x1="402.2" y1="1086.9" x2="453.0" y2="1086.9" stroke="#1eb9e8" stroke-width="2.8"/>
<line x1="402.2" y1="1115.5" x2="453.0" y2="1115.5" stroke="#0000cc" stroke-width="2.8"/>
<line x1="402.2" y1="1144.1" x2="453.0" y2="1144.1" stroke="#6e14e0" stroke-width="2.8"/>
<text x="62.0" y="1210.7" font-size="37.8" font-style="italic" font-family="Liberation Sans, sans-serif">T</text>
<text transform="translate(94.0,1210.7) scale(0.86,1)" x="0" y="0" font-size="37.5" font-family="Liberation Serif, serif">(°C)</text>
<line x1="64.1" y1="1245.0" x2="114.9" y2="1245.0" stroke="#dc0000" stroke-width="2.8"/>
<line x1="64.1" y1="1273.6" x2="114.9" y2="1273.6" stroke="#e87d23" stroke-width="2.8"/>
<line x1="64.1" y1="1302.2" x2="114.9" y2="1302.2" stroke="#ecca38" stroke-width="2.8"/>
<line x1="64.1" y1="1330.8" x2="114.9" y2="1330.8" stroke="#1aaa50" stroke-width="2.8"/>
<line x1="64.1" y1="1359.4" x2="114.9" y2="1359.4" stroke="#1eb9e8" stroke-width="2.8"/>
<line x1="64.1" y1="1388.0" x2="114.9" y2="1388.0" stroke="#0000cc" stroke-width="2.8"/>
<line x1="64.1" y1="1416.6" x2="114.9" y2="1416.6" stroke="#6e14e0" stroke-width="2.8"/>
<text x="587.3" y="57.5" font-size="37.8" font-style="italic" font-family="Liberation Sans, sans-serif">T</text>
<text transform="translate(619.3,57.5) scale(0.86,1)" x="0" y="0" font-size="37.5" font-family="Liberation Serif, serif">(°C)</text>
<line x1="588.7" y1="74.2" x2="639.4" y2="74.2" stroke="#dc0000" stroke-width="2.8"/>
<line x1="588.7" y1="102.7" x2="639.4" y2="102.7" stroke="#e87d23" stroke-width="2.8"/>
<line x1="588.7" y1="131.2" x2="639.4" y2="131.2" stroke="#ecca38" stroke-width="2.8"/>
<line x1="588.7" y1="159.6" x2="639.4" y2="159.6" stroke="#1aaa50" stroke-width="2.8"/>
<line x1="588.7" y1="188.1" x2="639.4" y2="188.1" stroke="#1eb9e8" stroke-width="2.8"/>
<line x1="588.7" y1="216.6" x2="639.4" y2="216.6" stroke="#0000cc" stroke-width="2.8"/>
<line x1="588.7" y1="245.1" x2="639.4" y2="245.1" stroke="#6e14e0" stroke-width="2.8"/>
<text x="587.7" y="441.9" font-size="37.8" font-style="italic" font-family="Liberation Sans, sans-serif">T</text>
<text transform="translate(619.7,441.9) scale(0.86,1)" x="0" y="0" font-size="37.5" font-family="Liberation Serif, serif">(°C)</text>
<line x1="591.1" y1="462.9" x2="641.9" y2="462.9" stroke="#dc0000" stroke-width="2.8"/>
<line x1="591.1" y1="491.5" x2="641.9" y2="491.5" stroke="#e87d23" stroke-width="2.8"/>
<line x1="591.1" y1="520.0" x2="641.9" y2="520.0" stroke="#ecca38" stroke-width="2.8"/>
<line x1="591.1" y1="548.6" x2="641.9" y2="548.6" stroke="#1aaa50" stroke-width="2.8"/>
<line x1="591.1" y1="577.2" x2="641.9" y2="577.2" stroke="#1eb9e8" stroke-width="2.8"/>
<line x1="591.1" y1="605.8" x2="641.9" y2="605.8" stroke="#0000cc" stroke-width="2.8"/>
<line x1="591.1" y1="634.3" x2="641.9" y2="634.3" stroke="#6e14e0" stroke-width="2.8"/>
<text x="598.6" y="834.7" font-size="37.8" font-style="italic" font-family="Liberation Sans, sans-serif">T</text>
<text transform="translate(630.6,834.7) scale(0.86,1)" x="0" y="0" font-size="37.5" font-family="Liberation Serif, serif">(°C)</text>
<line x1="596.0" y1="863.7" x2="646.7" y2="863.7" stroke="#dc0000" stroke-width="2.8"/>
<line x1="596.0" y1="892.2" x2="646.7" y2="892.2" stroke="#e87d23" stroke-width="2.8"/>
<line x1="596.0" y1="920.7" x2="646.7" y2="920.7" stroke="#ecca38" stroke-width="2.8"/>
<line x1="596.0" y1="949.2" x2="646.7" y2="949.2" stroke="#1aaa50" stroke-width="2.8"/>
<line x1="596.0" y1="977.7" x2="646.7" y2="977.7" stroke="#1eb9e8" stroke-width="2.8"/>
<line x1="596.0" y1="1006.2" x2="646.7" y2="1006.2" stroke="#0000cc" stroke-width="2.8"/>
<line x1="596.0" y1="1034.7" x2="646.7" y2="1034.7" stroke="#6e14e0" stroke-width="2.8"/>
<text x="590.2" y="1216.7" font-size="37.8" font-style="italic" font-family="Liberation Sans, sans-serif">T</text>
<text transform="translate(622.2,1216.7) scale(0.86,1)" x="0" y="0" font-size="37.5" font-family="Liberation Serif, serif">(°C)</text>
<line x1="593.6" y1="1253.7" x2="644.3" y2="1253.7" stroke="#dc0000" stroke-width="2.8"/>
<line x1="593.6" y1="1282.3" x2="644.3" y2="1282.3" stroke="#e87d23" stroke-width="2.8"/>
<line x1="593.6" y1="1310.9" x2="644.3" y2="1310.9" stroke="#ecca38" stroke-width="2.8"/>
<line x1="593.6" y1="1339.4" x2="644.3" y2="1339.4" stroke="#1aaa50" stroke-width="2.8"/>
<line x1="593.6" y1="1368.0" x2="644.3" y2="1368.0" stroke="#1eb9e8" stroke-width="2.8"/>
<line x1="593.6" y1="1396.6" x2="644.3" y2="1396.6" stroke="#0000cc" stroke-width="2.8"/>
<line x1="593.6" y1="1425.2" x2="644.3" y2="1425.2" stroke="#6e14e0" stroke-width="2.8"/>
<text x="1457.6" y="181.6" font-size="37.8" font-style="italic" font-family="Liberation Sans, sans-serif">T</text>
<text transform="translate(1489.5,181.6) scale(0.86,1)" x="0" y="0" font-size="37.5" font-family="Liberation Serif, serif">(°C)</text>
<line x1="1450.9" y1="201.4" x2="1501.6" y2="201.4" stroke="#dc0000" stroke-width="2.8"/>
<line x1="1450.9" y1="229.9" x2="1501.6" y2="229.9" stroke="#e87d23" stroke-width="2.8"/>
<line x1="1450.9" y1="258.4" x2="1501.6" y2="258.4" stroke="#ecca38" stroke-width="2.8"/>
<line x1="1450.9" y1="286.9" x2="1501.6" y2="286.9" stroke="#1aaa50" stroke-width="2.8"/>
<line x1="1450.9" y1="315.4" x2="1501.6" y2="315.4" stroke="#1eb9e8" stroke-width="2.8"/>
<line x1="1450.9" y1="343.9" x2="1501.6" y2="343.9" stroke="#0000cc" stroke-width="2.8"/>
<line x1="1450.9" y1="372.4" x2="1501.6" y2="372.4" stroke="#6e14e0" stroke-width="2.8"/>
<text x="1457.6" y="566.2" font-size="37.8" font-style="italic" font-family="Liberation Sans, sans-serif">T</text>
<text transform="translate(1489.5,566.2) scale(0.86,1)" x="0" y="0" font-size="37.5" font-family="Liberation Serif, serif">(°C)</text>
<line x1="1452.6" y1="586.3" x2="1503.3" y2="586.3" stroke="#dc0000" stroke-width="2.8"/>
<line x1="1452.6" y1="614.8" x2="1503.3" y2="614.8" stroke="#e87d23" stroke-width="2.8"/>
<line x1="1452.6" y1="643.2" x2="1503.3" y2="643.2" stroke="#ecca38" stroke-width="2.8"/>
<line x1="1452.6" y1="671.6" x2="1503.3" y2="671.6" stroke="#1aaa50" stroke-width="2.8"/>
<line x1="1452.6" y1="700.1" x2="1503.3" y2="700.1" stroke="#1eb9e8" stroke-width="2.8"/>
<line x1="1452.6" y1="728.5" x2="1503.3" y2="728.5" stroke="#0000cc" stroke-width="2.8"/>
<line x1="1452.6" y1="757.0" x2="1503.3" y2="757.0" stroke="#6e14e0" stroke-width="2.8"/>
<text x="1493.1" y="948.2" font-size="32.9" font-style="italic" font-family="Liberation Sans, sans-serif">T</text>
<text transform="translate(1520.9,948.2) scale(0.86,1)" x="0" y="0" font-size="32.6" font-family="Liberation Serif, serif">(°C)</text>
<line x1="1456.2" y1="967.6" x2="1507.0" y2="967.6" stroke="#dc0000" stroke-width="2.8"/>
<line x1="1456.2" y1="996.2" x2="1507.0" y2="996.2" stroke="#e87d23" stroke-width="2.8"/>
<line x1="1456.2" y1="1024.7" x2="1507.0" y2="1024.7" stroke="#ecca38" stroke-width="2.8"/>
<line x1="1456.2" y1="1053.3" x2="1507.0" y2="1053.3" stroke="#1aaa50" stroke-width="2.8"/>
<line x1="1456.2" y1="1081.9" x2="1507.0" y2="1081.9" stroke="#1eb9e8" stroke-width="2.8"/>
<line x1="1456.2" y1="1110.5" x2="1507.0" y2="1110.5" stroke="#0000cc" stroke-width="2.8"/>
<line x1="1456.2" y1="1139.0" x2="1507.0" y2="1139.0" stroke="#6e14e0" stroke-width="2.8"/>
<text x="1116.0" y="1215.5" font-size="37.8" font-style="italic" font-family="Liberation Sans, sans-serif">T</text>
<text transform="translate(1148.0,1215.5) scale(0.86,1)" x="0" y="0" font-size="37.5" font-family="Liberation Serif, serif">(°C)</text>
<line x1="1119.4" y1="1245.7" x2="1170.1" y2="1245.7" stroke="#dc0000" stroke-width="2.8"/>
<line x1="1119.4" y1="1274.2" x2="1170.1" y2="1274.2" stroke="#e87d23" stroke-width="2.8"/>
<line x1="1119.4" y1="1302.7" x2="1170.1" y2="1302.7" stroke="#ecca38" stroke-width="2.8"/>
<line x1="1119.4" y1="1331.2" x2="1170.1" y2="1331.2" stroke="#1aaa50" stroke-width="2.8"/>
<line x1="1119.4" y1="1359.7" x2="1170.1" y2="1359.7" stroke="#1eb9e8" stroke-width="2.8"/>
<line x1="1119.4" y1="1388.2" x2="1170.1" y2="1388.2" stroke="#0000cc" stroke-width="2.8"/>
<line x1="1119.4" y1="1416.7" x2="1170.1" y2="1416.7" stroke="#6e14e0" stroke-width="2.8"/>
<text x="1644.7" y="60.9" font-size="37.8" font-style="italic" font-family="Liberation Sans, sans-serif">T</text>
<text transform="translate(1676.6,60.9) scale(0.86,1)" x="0" y="0" font-size="37.5" font-family="Liberation Serif, serif">(°C)</text>
<line x1="1645.7" y1="80.7" x2="1696.4" y2="80.7" stroke="#dc0000" stroke-width="2.8"/>
<line x1="1645.7" y1="109.2" x2="1696.4" y2="109.2" stroke="#e87d23" stroke-width="2.8"/>
<line x1="1645.7" y1="137.7" x2="1696.4" y2="137.7" stroke="#ecca38" stroke-width="2.8"/>
<line x1="1645.7" y1="166.2" x2="1696.4" y2="166.2" stroke="#1aaa50" stroke-width="2.8"/>
<line x1="1645.7" y1="194.7" x2="1696.4" y2="194.7" stroke="#1eb9e8" stroke-width="2.8"/>
<line x1="1645.7" y1="223.2" x2="1696.4" y2="223.2" stroke="#0000cc" stroke-width="2.8"/>
<line x1="1645.7" y1="251.7" x2="1696.4" y2="251.7" stroke="#6e14e0" stroke-width="2.8"/>
<text x="1644.7" y="444.3" font-size="37.8" font-style="italic" font-family="Liberation Sans, sans-serif">T</text>
<text transform="translate(1676.6,444.3) scale(0.86,1)" x="0" y="0" font-size="37.5" font-family="Liberation Serif, serif">(°C)</text>
<line x1="1648.1" y1="461.7" x2="1698.9" y2="461.7" stroke="#dc0000" stroke-width="2.8"/>
<line x1="1648.1" y1="490.3" x2="1698.9" y2="490.3" stroke="#e87d23" stroke-width="2.8"/>
<line x1="1648.1" y1="518.9" x2="1698.9" y2="518.9" stroke="#ecca38" stroke-width="2.8"/>
<line x1="1648.1" y1="547.5" x2="1698.9" y2="547.5" stroke="#1aaa50" stroke-width="2.8"/>
<line x1="1648.1" y1="576.1" x2="1698.9" y2="576.1" stroke="#1eb9e8" stroke-width="2.8"/>
<line x1="1648.1" y1="604.7" x2="1698.9" y2="604.7" stroke="#0000cc" stroke-width="2.8"/>
<line x1="1648.1" y1="633.3" x2="1698.9" y2="633.3" stroke="#6e14e0" stroke-width="2.8"/>
<text x="1646.0" y="834.7" font-size="37.8" font-style="italic" font-family="Liberation Sans, sans-serif">T</text>
<text transform="translate(1678.0,834.7) scale(0.86,1)" x="0" y="0" font-size="37.5" font-family="Liberation Serif, serif">(°C)</text>
<line x1="1653.0" y1="862.5" x2="1703.7" y2="862.5" stroke="#dc0000" stroke-width="2.8"/>
<line x1="1653.0" y1="891.0" x2="1703.7" y2="891.0" stroke="#e87d23" stroke-width="2.8"/>
<line x1="1653.0" y1="919.5" x2="1703.7" y2="919.5" stroke="#ecca38" stroke-width="2.8"/>
<line x1="1653.0" y1="948.0" x2="1703.7" y2="948.0" stroke="#1aaa50" stroke-width="2.8"/>
<line x1="1653.0" y1="976.5" x2="1703.7" y2="976.5" stroke="#1eb9e8" stroke-width="2.8"/>
<line x1="1653.0" y1="1005.0" x2="1703.7" y2="1005.0" stroke="#0000cc" stroke-width="2.8"/>
<line x1="1653.0" y1="1033.5" x2="1703.7" y2="1033.5" stroke="#6e14e0" stroke-width="2.8"/>
<text x="1647.2" y="1215.5" font-size="37.8" font-style="italic" font-family="Liberation Sans, sans-serif">T</text>
<text transform="translate(1679.1,1215.5) scale(0.86,1)" x="0" y="0" font-size="37.5" font-family="Liberation Serif, serif">(°C)</text>
<line x1="1650.6" y1="1252.2" x2="1702.5" y2="1252.2" stroke="#dc0000" stroke-width="2.8"/>
<line x1="1650.6" y1="1280.7" x2="1702.5" y2="1280.7" stroke="#e87d23" stroke-width="2.8"/>
<line x1="1650.6" y1="1309.2" x2="1702.5" y2="1309.2" stroke="#ecca38" stroke-width="2.8"/>
<line x1="1650.6" y1="1337.7" x2="1702.5" y2="1337.7" stroke="#1aaa50" stroke-width="2.8"/>
<line x1="1650.6" y1="1366.2" x2="1702.5" y2="1366.2" stroke="#1eb9e8" stroke-width="2.8"/>
<line x1="1650.6" y1="1394.7" x2="1702.5" y2="1394.7" stroke="#0000cc" stroke-width="2.8"/>
<line x1="1650.6" y1="1423.2" x2="1702.5" y2="1423.2" stroke="#6e14e0" stroke-width="2.8"/>
<text x="-1.0" y="33.0" font-size="44" font-weight="bold" font-family="Liberation Sans, sans-serif" fill="#000">a</text>
<text x="-1.0" y="412.5" font-size="44" font-weight="bold" font-family="Liberation Sans, sans-serif" fill="#000">b</text>
<text x="-1.0" y="794.5" font-size="44" font-weight="bold" font-family="Liberation Sans, sans-serif" fill="#000">c</text>
<text x="-1.0" y="1177.0" font-size="44" font-weight="bold" font-family="Liberation Sans, sans-serif" fill="#000">d</text>
<text x="530.5" y="33.0" font-size="44" font-weight="bold" font-family="Liberation Sans, sans-serif" fill="#000">e</text>
<text x="530.5" y="412.5" font-size="44" font-weight="bold" font-family="Liberation Sans, sans-serif" fill="#000">f</text>
<text x="530.5" y="794.5" font-size="44" font-weight="bold" font-family="Liberation Sans, sans-serif" fill="#000">g</text>
<text x="530.5" y="1177.0" font-size="44" font-weight="bold" font-family="Liberation Sans, sans-serif" fill="#000">h</text>
<text x="1057.5" y="33.0" font-size="44" font-weight="bold" font-family="Liberation Sans, sans-serif" fill="#000">i</text>
<text x="1057.5" y="412.5" font-size="44" font-weight="bold" font-family="Liberation Sans, sans-serif" fill="#000">j</text>
<text x="1057.5" y="794.5" font-size="44" font-weight="bold" font-family="Liberation Sans, sans-serif" fill="#000">k</text>
<text x="1057.5" y="1177.0" font-size="44" font-weight="bold" font-family="Liberation Sans, sans-serif" fill="#000">l</text>
<text x="1578.5" y="33.0" font-size="44" font-weight="bold" font-family="Liberation Sans, sans-serif" fill="#000">m</text>
<text x="1578.5" y="412.5" font-size="44" font-weight="bold" font-family="Liberation Sans, sans-serif" fill="#000">n</text>
<text x="1578.5" y="794.5" font-size="44" font-weight="bold" font-family="Liberation Sans, sans-serif" fill="#000">o</text>
<text x="1578.5" y="1177.0" font-size="44" font-weight="bold" font-family="Liberation Sans, sans-serif" fill="#000">p</text>
<text x="53.5" y="56.2" font-size="33" font-family="Liberation Sans, sans-serif" fill="#000">VDF=45 mol%</text>
<text x="52.4" y="95.8" font-size="33" font-family="Liberation Sans, sans-serif" fill="#000">Heating</text>
<text x="53.5" y="443.1" font-size="33" font-family="Liberation Sans, sans-serif" fill="#000">VDF=49 mol%</text>
<text x="52.4" y="483.0" font-size="33" font-family="Liberation Sans, sans-serif" fill="#000">Heating</text>
<text x="53.5" y="827.5" font-size="33" font-family="Liberation Sans, sans-serif" fill="#000">VDF=55 mol%</text>
<text x="52.4" y="867.4" font-size="33" font-family="Liberation Sans, sans-serif" fill="#000">Heating</text>
<text x="515.0" y="1490.8" font-size="33" text-anchor="end" font-family="Liberation Sans, sans-serif" fill="#000">VDF=65 mol%</text>
<text x="516.0" y="1530.7" font-size="33" text-anchor="end" font-family="Liberation Sans, sans-serif" fill="#000">Heating</text>
<text x="1108.1" y="56.2" font-size="33" font-family="Liberation Sans, sans-serif" fill="#000">VDF=45 mol%</text>
<text x="1107.4" y="95.8" font-size="33" font-family="Liberation Sans, sans-serif" fill="#000">Cooling</text>
<text x="1108.1" y="443.1" font-size="33" font-family="Liberation Sans, sans-serif" fill="#000">VDF=49 mol%</text>
<text x="1107.4" y="483.0" font-size="33" font-family="Liberation Sans, sans-serif" fill="#000">Cooling</text>
<text x="1108.1" y="827.5" font-size="33" font-family="Liberation Sans, sans-serif" fill="#000">VDF=55 mol%</text>
<text x="1107.4" y="867.4" font-size="33" font-family="Liberation Sans, sans-serif" fill="#000">Cooling</text>
<text x="1566.6" y="1490.8" font-size="33" text-anchor="end" font-family="Liberation Sans, sans-serif" fill="#000">VDF=65 mol%</text>
<text x="1566.0" y="1530.7" font-size="33" text-anchor="end" font-family="Liberation Sans, sans-serif" fill="#000">Cooling</text>
<text x="234.4" y="110.1" font-size="42" font-family="Liberation Sans, sans-serif" fill="#000">PD</text>
<text x="294.4" y="322.4" font-size="42" font-family="Liberation Sans, sans-serif" fill="#000">D</text>
<text x="316.9" y="447.9" font-size="42" font-family="Liberation Sans, sans-serif" fill="#000">O+PD</text>
<text x="304.7" y="706.3" font-size="42" font-family="Liberation Sans, sans-serif" fill="#000">D</text>
<text x="303.6" y="836.0" font-size="42" font-family="Liberation Sans, sans-serif" fill="#000">O+PD</text>
<text x="325.3" y="1108.8" font-size="42" font-family="Liberation Sans, sans-serif" fill="#000">D</text>
<text x="251.7" y="1202.3" font-size="42" font-family="Liberation Sans, sans-serif" fill="#000">O</text>
<text x="252.8" y="1502.9" font-size="42" font-family="Liberation Sans, sans-serif" fill="#000">D</text>
<text x="772.7" y="80.2" font-size="42" font-family="Liberation Sans, sans-serif" fill="#000">PD</text>
<text x="737.6" y="292.7" font-size="42" font-family="Liberation Sans, sans-serif" fill="#000">D</text>
<text x="742.5" y="462.4" font-size="42" font-family="Liberation Sans, sans-serif" fill="#000">O+PD</text>
<text x="743.6" y="720.8" font-size="42" font-family="Liberation Sans, sans-serif" fill="#000">D</text>
<text x="738.9" y="872.2" font-size="42" font-family="Liberation Sans, sans-serif" fill="#000">O+PD</text>
<text x="754.5" y="1134.2" font-size="42" font-family="Liberation Sans, sans-serif" fill="#000">D</text>
<text x="788.4" y="1260.2" font-size="42" font-family="Liberation Sans, sans-serif" fill="#000">O</text>
<text x="750.9" y="1529.5" font-size="42" font-family="Liberation Sans, sans-serif" fill="#000">D</text>
<text x="1339.5" y="71.7" font-size="42" font-family="Liberation Sans, sans-serif" fill="#000">PD</text>
<text x="1375.7" y="285.5" font-size="42" font-family="Liberation Sans, sans-serif" fill="#000">D</text>
<text x="1343.1" y="439.5" font-size="42" font-family="Liberation Sans, sans-serif" fill="#000">O+PD</text>
<text x="1364.8" y="726.8" font-size="42" font-family="Liberation Sans, sans-serif" fill="#000">D</text>
<text x="1366.1" y="828.7" font-size="42" font-family="Liberation Sans, sans-serif" fill="#000">O+PD</text>
<text x="1373.2" y="1106.4" font-size="42" font-family="Liberation Sans, sans-serif" fill="#000">D</text>
<text x="1274.3" y="1207.1" font-size="42" font-family="Liberation Sans, sans-serif" fill="#000">O</text>
<text x="1283.9" y="1529.5" font-size="42" font-family="Liberation Sans, sans-serif" fill="#000">D</text>
<text x="1836.9" y="82.6" font-size="42" font-family="Liberation Sans, sans-serif" fill="#000">PD</text>
<text x="1805.4" y="287.9" font-size="42" font-family="Liberation Sans, sans-serif" fill="#000">D</text>
<text x="1798.3" y="467.2" font-size="42" font-family="Liberation Sans, sans-serif" fill="#000">O+PD</text>
<text x="1799.4" y="723.2" font-size="42" font-family="Liberation Sans, sans-serif" fill="#000">D</text>
<text x="1797.1" y="868.6" font-size="42" font-family="Liberation Sans, sans-serif" fill="#000">O+PD</text>
<text x="1810.3" y="1133.0" font-size="42" font-family="Liberation Sans, sans-serif" fill="#000">D</text>
<text x="1837.0" y="1259.0" font-size="42" font-family="Liberation Sans, sans-serif" fill="#000">O</text>
<text x="1800.6" y="1530.7" font-size="42" font-family="Liberation Sans, sans-serif" fill="#000">D</text>
<text x="454.8" y="211.2" font-size="23.5" font-family="Liberation Sans, sans-serif" fill="#000">45</text>
<text x="454.8" y="239.6" font-size="23.5" font-family="Liberation Sans, sans-serif" fill="#000">55</text>
<text x="454.8" y="268.1" font-size="23.5" font-family="Liberation Sans, sans-serif" fill="#000">65</text>
<text x="454.8" y="296.5" font-size="23.5" font-family="Liberation Sans, sans-serif" fill="#000">75</text>
<text x="454.8" y="324.9" font-size="23.5" font-family="Liberation Sans, sans-serif" fill="#000">85</text>
<text x="454.8" y="353.4" font-size="23.5" font-family="Liberation Sans, sans-serif" fill="#000">95</text>
<text x="454.8" y="381.8" font-size="23.5" font-family="Liberation Sans, sans-serif" fill="#000">105</text>
<text x="449.6" y="596.9" font-size="23.5" font-family="Liberation Sans, sans-serif" fill="#000">45</text>
<text x="449.6" y="625.4" font-size="23.5" font-family="Liberation Sans, sans-serif" fill="#000">55</text>
<text x="449.6" y="654.0" font-size="23.5" font-family="Liberation Sans, sans-serif" fill="#000">65</text>
<text x="449.6" y="682.5" font-size="23.5" font-family="Liberation Sans, sans-serif" fill="#000">75</text>
<text x="449.6" y="711.0" font-size="23.5" font-family="Liberation Sans, sans-serif" fill="#000">85</text>
<text x="449.6" y="739.6" font-size="23.5" font-family="Liberation Sans, sans-serif" fill="#000">95</text>
<text x="449.6" y="768.1" font-size="23.5" font-family="Liberation Sans, sans-serif" fill="#000">105</text>
<text x="459.3" y="981.0" font-size="23.5" font-family="Liberation Sans, sans-serif" fill="#000">45</text>
<text x="459.3" y="1009.6" font-size="23.5" font-family="Liberation Sans, sans-serif" fill="#000">55</text>
<text x="459.3" y="1038.2" font-size="23.5" font-family="Liberation Sans, sans-serif" fill="#000">65</text>
<text x="459.3" y="1066.8" font-size="23.5" font-family="Liberation Sans, sans-serif" fill="#000">75</text>
<text x="459.3" y="1095.3" font-size="23.5" font-family="Liberation Sans, sans-serif" fill="#000">85</text>
<text x="459.3" y="1123.9" font-size="23.5" font-family="Liberation Sans, sans-serif" fill="#000">95</text>
<text x="459.3" y="1152.5" font-size="23.5" font-family="Liberation Sans, sans-serif" fill="#000">105</text>
<text x="122.4" y="1253.4" font-size="23.5" font-family="Liberation Sans, sans-serif" fill="#000">50</text>
<text x="122.4" y="1282.0" font-size="23.5" font-family="Liberation Sans, sans-serif" fill="#000">60</text>
<text x="122.4" y="1310.6" font-size="23.5" font-family="Liberation Sans, sans-serif" fill="#000">70</text>
<text x="122.4" y="1339.2" font-size="23.5" font-family="Liberation Sans, sans-serif" fill="#000">80</text>
<text x="122.4" y="1367.8" font-size="23.5" font-family="Liberation Sans, sans-serif" fill="#000">90</text>
<text x="122.4" y="1396.4" font-size="23.5" font-family="Liberation Sans, sans-serif" fill="#000">100</text>
<text x="122.4" y="1425.0" font-size="23.5" font-family="Liberation Sans, sans-serif" fill="#000">110</text>
<text x="645.8" y="82.6" font-size="23.5" font-family="Liberation Sans, sans-serif" fill="#000">45</text>
<text x="645.8" y="111.1" font-size="23.5" font-family="Liberation Sans, sans-serif" fill="#000">55</text>
<text x="645.8" y="139.6" font-size="23.5" font-family="Liberation Sans, sans-serif" fill="#000">65</text>
<text x="645.8" y="168.1" font-size="23.5" font-family="Liberation Sans, sans-serif" fill="#000">75</text>
<text x="645.8" y="196.5" font-size="23.5" font-family="Liberation Sans, sans-serif" fill="#000">85</text>
<text x="645.8" y="225.0" font-size="23.5" font-family="Liberation Sans, sans-serif" fill="#000">95</text>
<text x="645.8" y="253.5" font-size="23.5" font-family="Liberation Sans, sans-serif" fill="#000">105</text>
<text x="648.2" y="471.3" font-size="23.5" font-family="Liberation Sans, sans-serif" fill="#000">45</text>
<text x="648.2" y="499.9" font-size="23.5" font-family="Liberation Sans, sans-serif" fill="#000">55</text>
<text x="648.2" y="528.5" font-size="23.5" font-family="Liberation Sans, sans-serif" fill="#000">65</text>
<text x="648.2" y="557.0" font-size="23.5" font-family="Liberation Sans, sans-serif" fill="#000">75</text>
<text x="648.2" y="585.6" font-size="23.5" font-family="Liberation Sans, sans-serif" fill="#000">85</text>
<text x="648.2" y="614.2" font-size="23.5" font-family="Liberation Sans, sans-serif" fill="#000">95</text>
<text x="648.2" y="642.7" font-size="23.5" font-family="Liberation Sans, sans-serif" fill="#000">105</text>
<text x="653.1" y="872.1" font-size="23.5" font-family="Liberation Sans, sans-serif" fill="#000">45</text>
<text x="653.1" y="900.6" font-size="23.5" font-family="Liberation Sans, sans-serif" fill="#000">55</text>
<text x="653.1" y="929.1" font-size="23.5" font-family="Liberation Sans, sans-serif" fill="#000">65</text>
<text x="653.1" y="957.6" font-size="23.5" font-family="Liberation Sans, sans-serif" fill="#000">75</text>
<text x="653.1" y="986.1" font-size="23.5" font-family="Liberation Sans, sans-serif" fill="#000">85</text>
<text x="653.1" y="1014.6" font-size="23.5" font-family="Liberation Sans, sans-serif" fill="#000">95</text>
<text x="653.1" y="1043.1" font-size="23.5" font-family="Liberation Sans, sans-serif" fill="#000">105</text>
<text x="650.6" y="1262.1" font-size="23.5" font-family="Liberation Sans, sans-serif" fill="#000">50</text>
<text x="650.6" y="1290.7" font-size="23.5" font-family="Liberation Sans, sans-serif" fill="#000">60</text>
<text x="650.6" y="1319.3" font-size="23.5" font-family="Liberation Sans, sans-serif" fill="#000">70</text>
<text x="650.6" y="1347.9" font-size="23.5" font-family="Liberation Sans, sans-serif" fill="#000">80</text>
<text x="650.6" y="1376.4" font-size="23.5" font-family="Liberation Sans, sans-serif" fill="#000">90</text>
<text x="650.6" y="1405.0" font-size="23.5" font-family="Liberation Sans, sans-serif" fill="#000">100</text>
<text x="650.6" y="1433.6" font-size="23.5" font-family="Liberation Sans, sans-serif" fill="#000">110</text>
<text x="1508.5" y="209.8" font-size="23.5" font-family="Liberation Sans, sans-serif" fill="#000">35</text>
<text x="1508.5" y="238.3" font-size="23.5" font-family="Liberation Sans, sans-serif" fill="#000">45</text>
<text x="1508.5" y="266.8" font-size="23.5" font-family="Liberation Sans, sans-serif" fill="#000">55</text>
<text x="1508.5" y="295.3" font-size="23.5" font-family="Liberation Sans, sans-serif" fill="#000">65</text>
<text x="1508.5" y="323.8" font-size="23.5" font-family="Liberation Sans, sans-serif" fill="#000">75</text>
<text x="1508.5" y="352.3" font-size="23.5" font-family="Liberation Sans, sans-serif" fill="#000">85</text>
<text x="1508.5" y="380.8" font-size="23.5" font-family="Liberation Sans, sans-serif" fill="#000">95</text>
<text x="1509.7" y="594.7" font-size="23.5" font-family="Liberation Sans, sans-serif" fill="#000">35</text>
<text x="1509.7" y="623.2" font-size="23.5" font-family="Liberation Sans, sans-serif" fill="#000">45</text>
<text x="1509.7" y="651.6" font-size="23.5" font-family="Liberation Sans, sans-serif" fill="#000">55</text>
<text x="1509.7" y="680.1" font-size="23.5" font-family="Liberation Sans, sans-serif" fill="#000">65</text>
<text x="1509.7" y="708.5" font-size="23.5" font-family="Liberation Sans, sans-serif" fill="#000">75</text>
<text x="1509.7" y="737.0" font-size="23.5" font-family="Liberation Sans, sans-serif" fill="#000">85</text>
<text x="1509.7" y="765.4" font-size="23.5" font-family="Liberation Sans, sans-serif" fill="#000">95</text>
<text x="1513.3" y="976.0" font-size="23.5" font-family="Liberation Sans, sans-serif" fill="#000">35</text>
<text x="1513.3" y="1004.6" font-size="23.5" font-family="Liberation Sans, sans-serif" fill="#000">45</text>
<text x="1513.3" y="1033.2" font-size="23.5" font-family="Liberation Sans, sans-serif" fill="#000">55</text>
<text x="1513.3" y="1061.7" font-size="23.5" font-family="Liberation Sans, sans-serif" fill="#000">65</text>
<text x="1513.3" y="1090.3" font-size="23.5" font-family="Liberation Sans, sans-serif" fill="#000">75</text>
<text x="1513.3" y="1118.9" font-size="23.5" font-family="Liberation Sans, sans-serif" fill="#000">85</text>
<text x="1513.3" y="1147.4" font-size="23.5" font-family="Liberation Sans, sans-serif" fill="#000">95</text>
<text x="1176.4" y="1254.1" font-size="23.5" font-family="Liberation Sans, sans-serif" fill="#000">30</text>
<text x="1176.4" y="1282.6" font-size="23.5" font-family="Liberation Sans, sans-serif" fill="#000">40</text>
<text x="1176.4" y="1311.1" font-size="23.5" font-family="Liberation Sans, sans-serif" fill="#000">50</text>
<text x="1176.4" y="1339.6" font-size="23.5" font-family="Liberation Sans, sans-serif" fill="#000">60</text>
<text x="1176.4" y="1368.1" font-size="23.5" font-family="Liberation Sans, sans-serif" fill="#000">70</text>
<text x="1176.4" y="1396.6" font-size="23.5" font-family="Liberation Sans, sans-serif" fill="#000">80</text>
<text x="1176.4" y="1425.1" font-size="23.5" font-family="Liberation Sans, sans-serif" fill="#000">90</text>
<text x="1702.8" y="89.1" font-size="23.5" font-family="Liberation Sans, sans-serif" fill="#000">35</text>
<text x="1702.8" y="117.6" font-size="23.5" font-family="Liberation Sans, sans-serif" fill="#000">45</text>
<text x="1702.8" y="146.1" font-size="23.5" font-family="Liberation Sans, sans-serif" fill="#000">55</text>
<text x="1702.8" y="174.6" font-size="23.5" font-family="Liberation Sans, sans-serif" fill="#000">65</text>
<text x="1702.8" y="203.1" font-size="23.5" font-family="Liberation Sans, sans-serif" fill="#000">75</text>
<text x="1702.8" y="231.6" font-size="23.5" font-family="Liberation Sans, sans-serif" fill="#000">85</text>
<text x="1702.8" y="260.1" font-size="23.5" font-family="Liberation Sans, sans-serif" fill="#000">95</text>
<text x="1705.2" y="470.1" font-size="23.5" font-family="Liberation Sans, sans-serif" fill="#000">35</text>
<text x="1705.2" y="498.7" font-size="23.5" font-family="Liberation Sans, sans-serif" fill="#000">45</text>
<text x="1705.2" y="527.3" font-size="23.5" font-family="Liberation Sans, sans-serif" fill="#000">55</text>
<text x="1705.2" y="555.9" font-size="23.5" font-family="Liberation Sans, sans-serif" fill="#000">65</text>
<text x="1705.2" y="584.5" font-size="23.5" font-family="Liberation Sans, sans-serif" fill="#000">75</text>
<text x="1705.2" y="613.1" font-size="23.5" font-family="Liberation Sans, sans-serif" fill="#000">85</text>
<text x="1705.2" y="641.7" font-size="23.5" font-family="Liberation Sans, sans-serif" fill="#000">95</text>
<text x="1710.1" y="870.9" font-size="23.5" font-family="Liberation Sans, sans-serif" fill="#000">35</text>
<text x="1710.1" y="899.4" font-size="23.5" font-family="Liberation Sans, sans-serif" fill="#000">45</text>
<text x="1710.1" y="927.9" font-size="23.5" font-family="Liberation Sans, sans-serif" fill="#000">55</text>
<text x="1710.1" y="956.4" font-size="23.5" font-family="Liberation Sans, sans-serif" fill="#000">65</text>
<text x="1710.1" y="984.9" font-size="23.5" font-family="Liberation Sans, sans-serif" fill="#000">75</text>
<text x="1710.1" y="1013.4" font-size="23.5" font-family="Liberation Sans, sans-serif" fill="#000">85</text>
<text x="1710.1" y="1041.9" font-size="23.5" font-family="Liberation Sans, sans-serif" fill="#000">95</text>
<text x="1708.8" y="1260.6" font-size="23.5" font-family="Liberation Sans, sans-serif" fill="#000">30</text>
<text x="1708.8" y="1289.1" font-size="23.5" font-family="Liberation Sans, sans-serif" fill="#000">40</text>
<text x="1708.8" y="1317.6" font-size="23.5" font-family="Liberation Sans, sans-serif" fill="#000">50</text>
<text x="1708.8" y="1346.1" font-size="23.5" font-family="Liberation Sans, sans-serif" fill="#000">60</text>
<text x="1708.8" y="1374.6" font-size="23.5" font-family="Liberation Sans, sans-serif" fill="#000">70</text>
<text x="1708.8" y="1403.1" font-size="23.5" font-family="Liberation Sans, sans-serif" fill="#000">80</text>
<text x="1708.8" y="1431.6" font-size="23.5" font-family="Liberation Sans, sans-serif" fill="#000">90</text>
<text x="102.8" y="1582.3" font-size="29.5" text-anchor="middle" font-family="Liberation Sans, sans-serif" fill="#000">1320</text>
<text x="220.8" y="1582.3" font-size="29.5" text-anchor="middle" font-family="Liberation Sans, sans-serif" fill="#000">1300</text>
<text x="338.7" y="1582.3" font-size="29.5" text-anchor="middle" font-family="Liberation Sans, sans-serif" fill="#000">1280</text>
<text x="456.7" y="1582.3" font-size="29.5" text-anchor="middle" font-family="Liberation Sans, sans-serif" fill="#000">1260</text>
<text x="1157.4" y="1582.3" font-size="29.5" text-anchor="middle" font-family="Liberation Sans, sans-serif" fill="#000">1320</text>
<text x="1275.4" y="1582.3" font-size="29.5" text-anchor="middle" font-family="Liberation Sans, sans-serif" fill="#000">1300</text>
<text x="1393.3" y="1582.3" font-size="29.5" text-anchor="middle" font-family="Liberation Sans, sans-serif" fill="#000">1280</text>
<text x="1511.3" y="1582.3" font-size="29.5" text-anchor="middle" font-family="Liberation Sans, sans-serif" fill="#000">1260</text>
<text x="570.8" y="1582.3" font-size="29.5" text-anchor="middle" font-family="Liberation Sans, sans-serif" fill="#000">600</text>
<text x="806.9" y="1582.3" font-size="29.5" text-anchor="middle" font-family="Liberation Sans, sans-serif" fill="#000">500</text>
<text x="1043.0" y="1582.3" font-size="29.5" text-anchor="middle" font-family="Liberation Sans, sans-serif" fill="#000">400</text>
<text x="1628.4" y="1582.3" font-size="29.5" text-anchor="middle" font-family="Liberation Sans, sans-serif" fill="#000">600</text>
<text x="1864.4" y="1582.3" font-size="29.5" text-anchor="middle" font-family="Liberation Sans, sans-serif" fill="#000">500</text>
<text x="2100.4" y="1582.3" font-size="29.5" text-anchor="middle" font-family="Liberation Sans, sans-serif" fill="#000">400</text>
<text x="123.3" y="1612.5" font-size="36" font-family="Liberation Sans, sans-serif">Wavenumber <tspan x="342.2">(</tspan><tspan x="357.8">cm</tspan><tspan x="409.7" y="1591.3" font-size="21">-1</tspan><tspan x="429.3" y="1612.5">)</tspan></text>
<text x="652.9" y="1612.5" font-size="36" font-family="Liberation Sans, sans-serif">Wavenumber <tspan x="871.8">(</tspan><tspan x="887.4">cm</tspan><tspan x="939.3" y="1591.3" font-size="21">-1</tspan><tspan x="958.9" y="1612.5">)</tspan></text>
<text x="1178.0" y="1612.5" font-size="36" font-family="Liberation Sans, sans-serif">Wavenumber <tspan x="1396.9">(</tspan><tspan x="1412.5">cm</tspan><tspan x="1464.4" y="1591.3" font-size="21">-1</tspan><tspan x="1484.0" y="1612.5">)</tspan></text>
<text x="1709.1" y="1612.5" font-size="36" font-family="Liberation Sans, sans-serif">Wavenumber <tspan x="1928.0">(</tspan><tspan x="1943.6">cm</tspan><tspan x="1995.5" y="1591.3" font-size="21">-1</tspan><tspan x="2015.1" y="1612.5">)</tspan></text>
</svg>
</body></html>
